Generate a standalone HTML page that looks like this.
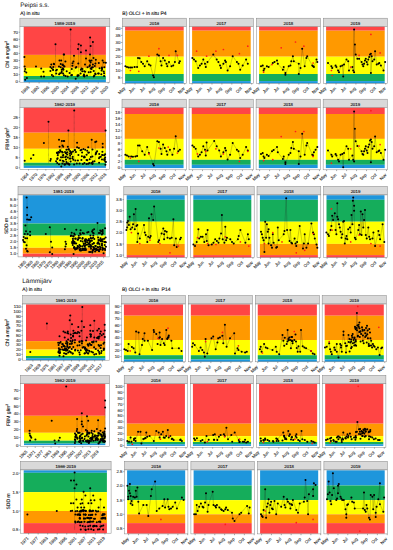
<!DOCTYPE html>
<html><head><meta charset="utf-8"><style>
html,body{margin:0;padding:0;background:#fff;}
body{width:393px;height:550px;overflow:hidden;}
svg{display:block;font-family:"Liberation Sans", sans-serif;text-rendering:geometricPrecision;}
</style></head><body>
<svg width="393" height="550" viewBox="0 0 393 550">
<rect x="19.90" y="18.20" width="89.90" height="8.20" fill="#D9D9D9"/>
<rect x="19.90" y="18.20" width="89.90" height="8.20" fill="none" stroke="#858585" stroke-width="0.5"/>
<text x="64.85" y="24.80" font-size="4.3" text-anchor="middle" fill="#111" stroke="#111" stroke-width="0.12">1986-2019</text>
<rect x="19.90" y="26.40" width="89.90" height="55.80" fill="#ffffff"/>
<rect x="23.70" y="26.60" width="82.20" height="28.30" fill="#FF4545"/>
<rect x="23.70" y="54.90" width="82.20" height="13.00" fill="#FF9900"/>
<rect x="23.70" y="67.90" width="82.20" height="8.10" fill="#FFFF00"/>
<rect x="23.70" y="76.00" width="82.20" height="3.80" fill="#15AD5B"/>
<rect x="23.70" y="79.80" width="82.20" height="2.40" fill="#1E96DC"/>
<line x1="55.5" y1="44.3" x2="55.5" y2="76.0" stroke="#222" stroke-width="0.35" stroke-dasharray="0.7,0.5"/>
<line x1="70.6" y1="29.4" x2="70.6" y2="76.0" stroke="#222" stroke-width="0.35" stroke-dasharray="0.7,0.5"/>
<line x1="90.1" y1="37.5" x2="90.1" y2="76.0" stroke="#222" stroke-width="0.35" stroke-dasharray="0.7,0.5"/>
<line x1="78.6" y1="44.3" x2="78.6" y2="72.0" stroke="#222" stroke-width="0.35" stroke-dasharray="0.7,0.5"/>
<line x1="92.9" y1="42.0" x2="92.9" y2="72.0" stroke="#222" stroke-width="0.35" stroke-dasharray="0.7,0.5"/>
<line x1="86.0" y1="50.6" x2="86.0" y2="72.0" stroke="#222" stroke-width="0.35" stroke-dasharray="0.7,0.5"/>
<line x1="80.9" y1="45.5" x2="80.9" y2="72.0" stroke="#222" stroke-width="0.35" stroke-dasharray="0.7,0.5"/>
<line x1="63.7" y1="54.6" x2="63.7" y2="72.0" stroke="#222" stroke-width="0.35" stroke-dasharray="0.7,0.5"/>
<line x1="74.0" y1="55.8" x2="74.0" y2="72.0" stroke="#222" stroke-width="0.35" stroke-dasharray="0.7,0.5"/>
<line x1="95.8" y1="59.8" x2="95.8" y2="72.0" stroke="#222" stroke-width="0.35" stroke-dasharray="0.7,0.5"/>
<line x1="102.6" y1="60.4" x2="102.6" y2="72.0" stroke="#222" stroke-width="0.35" stroke-dasharray="0.7,0.5"/>
<circle cx="24.4" cy="56.9" r="1.02" fill="#000"/>
<circle cx="24.6" cy="66.6" r="1.02" fill="#000"/>
<circle cx="25.2" cy="68.9" r="1.02" fill="#000"/>
<circle cx="24.8" cy="71.2" r="1.02" fill="#000"/>
<circle cx="26.3" cy="72.4" r="1.02" fill="#000"/>
<circle cx="26.9" cy="78.1" r="1.02" fill="#000"/>
<circle cx="25.2" cy="79.8" r="1.02" fill="#000"/>
<circle cx="36.0" cy="66.6" r="1.02" fill="#000"/>
<circle cx="41.2" cy="68.4" r="1.02" fill="#000"/>
<circle cx="43.5" cy="71.8" r="1.02" fill="#000"/>
<circle cx="41.2" cy="76.4" r="1.02" fill="#000"/>
<circle cx="44.0" cy="76.4" r="1.02" fill="#000"/>
<circle cx="55.5" cy="44.3" r="1.02" fill="#000"/>
<circle cx="64.1" cy="54.6" r="1.02" fill="#000"/>
<circle cx="59.5" cy="60.4" r="1.02" fill="#000"/>
<circle cx="61.2" cy="60.4" r="1.02" fill="#000"/>
<circle cx="53.8" cy="63.8" r="1.02" fill="#000"/>
<circle cx="70.6" cy="29.4" r="1.02" fill="#000"/>
<circle cx="90.1" cy="37.5" r="1.02" fill="#000"/>
<circle cx="78.6" cy="44.3" r="1.02" fill="#000"/>
<circle cx="80.9" cy="45.5" r="1.02" fill="#000"/>
<circle cx="92.9" cy="42.0" r="1.02" fill="#000"/>
<circle cx="90.6" cy="46.0" r="1.02" fill="#000"/>
<circle cx="78.0" cy="48.9" r="1.02" fill="#000"/>
<circle cx="86.0" cy="50.6" r="1.02" fill="#000"/>
<circle cx="80.9" cy="52.3" r="1.02" fill="#000"/>
<circle cx="63.7" cy="54.6" r="1.02" fill="#000"/>
<circle cx="74.0" cy="55.8" r="1.02" fill="#000"/>
<circle cx="90.0" cy="54.6" r="1.02" fill="#000"/>
<circle cx="93.5" cy="58.0" r="1.02" fill="#000"/>
<circle cx="95.8" cy="59.8" r="1.02" fill="#000"/>
<circle cx="86.0" cy="58.6" r="1.02" fill="#000"/>
<circle cx="65.4" cy="61.5" r="1.02" fill="#000"/>
<circle cx="102.6" cy="60.4" r="1.02" fill="#000"/>
<circle cx="103.8" cy="62.6" r="1.02" fill="#000"/>
<circle cx="90.6" cy="62.6" r="1.02" fill="#000"/>
<circle cx="92.9" cy="64.4" r="1.02" fill="#000"/>
<circle cx="67.7" cy="76.4" r="1.02" fill="#000"/>
<circle cx="75.7" cy="78.7" r="1.02" fill="#000"/>
<circle cx="51.9" cy="75.0" r="1.02" fill="#000"/>
<circle cx="60.7" cy="67.3" r="1.02" fill="#000"/>
<circle cx="56.9" cy="69.8" r="1.02" fill="#000"/>
<circle cx="59.1" cy="74.3" r="1.02" fill="#000"/>
<circle cx="51.3" cy="64.4" r="1.02" fill="#000"/>
<circle cx="61.7" cy="69.6" r="1.02" fill="#000"/>
<circle cx="60.7" cy="64.0" r="1.02" fill="#000"/>
<circle cx="56.2" cy="73.4" r="1.02" fill="#000"/>
<circle cx="53.2" cy="76.3" r="1.02" fill="#000"/>
<circle cx="62.6" cy="64.4" r="1.02" fill="#000"/>
<circle cx="50.4" cy="71.0" r="1.02" fill="#000"/>
<circle cx="63.1" cy="69.0" r="1.02" fill="#000"/>
<circle cx="53.0" cy="69.5" r="1.02" fill="#000"/>
<circle cx="50.4" cy="66.9" r="1.02" fill="#000"/>
<circle cx="56.1" cy="70.4" r="1.02" fill="#000"/>
<circle cx="53.3" cy="67.0" r="1.02" fill="#000"/>
<circle cx="53.1" cy="70.0" r="1.02" fill="#000"/>
<circle cx="54.1" cy="64.3" r="1.02" fill="#000"/>
<circle cx="61.7" cy="71.2" r="1.02" fill="#000"/>
<circle cx="59.0" cy="66.4" r="1.02" fill="#000"/>
<circle cx="63.9" cy="75.2" r="1.02" fill="#000"/>
<circle cx="51.7" cy="68.3" r="1.02" fill="#000"/>
<circle cx="60.1" cy="73.2" r="1.02" fill="#000"/>
<circle cx="63.1" cy="69.5" r="1.02" fill="#000"/>
<circle cx="61.6" cy="72.7" r="1.02" fill="#000"/>
<circle cx="104.1" cy="75.9" r="1.02" fill="#000"/>
<circle cx="64.5" cy="66.4" r="1.02" fill="#000"/>
<circle cx="98.8" cy="73.6" r="1.02" fill="#000"/>
<circle cx="91.5" cy="68.9" r="1.02" fill="#000"/>
<circle cx="88.7" cy="72.2" r="1.02" fill="#000"/>
<circle cx="87.6" cy="67.2" r="1.02" fill="#000"/>
<circle cx="80.9" cy="69.8" r="1.02" fill="#000"/>
<circle cx="93.8" cy="76.4" r="1.02" fill="#000"/>
<circle cx="103.8" cy="71.5" r="1.02" fill="#000"/>
<circle cx="81.6" cy="68.5" r="1.02" fill="#000"/>
<circle cx="63.6" cy="65.8" r="1.02" fill="#000"/>
<circle cx="82.5" cy="69.0" r="1.02" fill="#000"/>
<circle cx="78.7" cy="75.3" r="1.02" fill="#000"/>
<circle cx="85.1" cy="71.7" r="1.02" fill="#000"/>
<circle cx="72.4" cy="65.8" r="1.02" fill="#000"/>
<circle cx="76.3" cy="67.0" r="1.02" fill="#000"/>
<circle cx="84.4" cy="76.5" r="1.02" fill="#000"/>
<circle cx="91.7" cy="67.5" r="1.02" fill="#000"/>
<circle cx="101.3" cy="74.3" r="1.02" fill="#000"/>
<circle cx="94.3" cy="75.5" r="1.02" fill="#000"/>
<circle cx="95.6" cy="74.2" r="1.02" fill="#000"/>
<circle cx="77.6" cy="76.3" r="1.02" fill="#000"/>
<circle cx="104.3" cy="67.3" r="1.02" fill="#000"/>
<circle cx="95.2" cy="73.4" r="1.02" fill="#000"/>
<circle cx="82.3" cy="71.3" r="1.02" fill="#000"/>
<circle cx="83.6" cy="75.7" r="1.02" fill="#000"/>
<circle cx="84.0" cy="74.6" r="1.02" fill="#000"/>
<circle cx="77.6" cy="75.2" r="1.02" fill="#000"/>
<circle cx="101.6" cy="70.6" r="1.02" fill="#000"/>
<circle cx="87.0" cy="75.6" r="1.02" fill="#000"/>
<circle cx="93.8" cy="70.9" r="1.02" fill="#000"/>
<circle cx="71.8" cy="69.1" r="1.02" fill="#000"/>
<circle cx="92.8" cy="67.3" r="1.02" fill="#000"/>
<circle cx="101.9" cy="68.4" r="1.02" fill="#000"/>
<circle cx="102.1" cy="68.9" r="1.02" fill="#000"/>
<circle cx="104.1" cy="73.3" r="1.02" fill="#000"/>
<circle cx="84.2" cy="71.2" r="1.02" fill="#000"/>
<circle cx="90.7" cy="72.0" r="1.02" fill="#000"/>
<circle cx="75.7" cy="67.8" r="1.02" fill="#000"/>
<circle cx="84.5" cy="75.8" r="1.02" fill="#000"/>
<circle cx="89.4" cy="66.3" r="1.02" fill="#000"/>
<circle cx="98.1" cy="73.5" r="1.02" fill="#000"/>
<circle cx="101.9" cy="67.6" r="1.02" fill="#000"/>
<circle cx="94.8" cy="66.1" r="1.02" fill="#000"/>
<circle cx="90.7" cy="68.5" r="1.02" fill="#000"/>
<circle cx="72.0" cy="75.1" r="1.02" fill="#000"/>
<circle cx="66.7" cy="71.2" r="1.02" fill="#000"/>
<circle cx="99.6" cy="68.2" r="1.02" fill="#000"/>
<circle cx="71.3" cy="75.2" r="1.02" fill="#000"/>
<circle cx="80.6" cy="73.4" r="1.02" fill="#000"/>
<circle cx="63.4" cy="69.5" r="1.02" fill="#000"/>
<circle cx="69.6" cy="72.9" r="1.02" fill="#000"/>
<circle cx="65.6" cy="76.0" r="1.02" fill="#000"/>
<circle cx="63.1" cy="73.5" r="1.02" fill="#000"/>
<circle cx="62.9" cy="68.3" r="1.02" fill="#000"/>
<circle cx="72.5" cy="63.3" r="1.02" fill="#000"/>
<circle cx="78.3" cy="63.6" r="1.02" fill="#000"/>
<circle cx="89.5" cy="60.4" r="1.02" fill="#000"/>
<circle cx="62.6" cy="65.0" r="1.02" fill="#000"/>
<circle cx="73.4" cy="61.4" r="1.02" fill="#000"/>
<circle cx="105.8" cy="62.8" r="1.02" fill="#000"/>
<circle cx="98.8" cy="62.9" r="1.02" fill="#000"/>
<circle cx="90.1" cy="60.9" r="1.02" fill="#000"/>
<circle cx="89.9" cy="65.2" r="1.02" fill="#000"/>
<circle cx="85.0" cy="64.4" r="1.02" fill="#000"/>
<circle cx="91.5" cy="60.4" r="1.02" fill="#000"/>
<circle cx="95.4" cy="63.5" r="1.02" fill="#000"/>
<rect x="19.90" y="26.40" width="89.90" height="55.80" fill="none" stroke="#858585" stroke-width="0.5"/>
<line x1="18.60" y1="81.70" x2="19.90" y2="81.70" stroke="#333" stroke-width="0.4"/>
<text x="18.00" y="83.20" font-size="4.3" text-anchor="end" fill="#333" stroke="#444" stroke-width="0.12">0</text>
<line x1="18.60" y1="74.63" x2="19.90" y2="74.63" stroke="#333" stroke-width="0.4"/>
<text x="18.00" y="76.13" font-size="4.3" text-anchor="end" fill="#333" stroke="#444" stroke-width="0.12">10</text>
<line x1="18.60" y1="67.56" x2="19.90" y2="67.56" stroke="#333" stroke-width="0.4"/>
<text x="18.00" y="69.06" font-size="4.3" text-anchor="end" fill="#333" stroke="#444" stroke-width="0.12">20</text>
<line x1="18.60" y1="60.49" x2="19.90" y2="60.49" stroke="#333" stroke-width="0.4"/>
<text x="18.00" y="61.99" font-size="4.3" text-anchor="end" fill="#333" stroke="#444" stroke-width="0.12">30</text>
<line x1="18.60" y1="53.42" x2="19.90" y2="53.42" stroke="#333" stroke-width="0.4"/>
<text x="18.00" y="54.92" font-size="4.3" text-anchor="end" fill="#333" stroke="#444" stroke-width="0.12">40</text>
<line x1="18.60" y1="46.35" x2="19.90" y2="46.35" stroke="#333" stroke-width="0.4"/>
<text x="18.00" y="47.85" font-size="4.3" text-anchor="end" fill="#333" stroke="#444" stroke-width="0.12">50</text>
<line x1="18.60" y1="39.28" x2="19.90" y2="39.28" stroke="#333" stroke-width="0.4"/>
<text x="18.00" y="40.78" font-size="4.3" text-anchor="end" fill="#333" stroke="#444" stroke-width="0.12">60</text>
<line x1="18.60" y1="32.21" x2="19.90" y2="32.21" stroke="#333" stroke-width="0.4"/>
<text x="18.00" y="33.71" font-size="4.3" text-anchor="end" fill="#333" stroke="#444" stroke-width="0.12">70</text>
<line x1="29.20" y1="82.20" x2="29.20" y2="83.50" stroke="#333" stroke-width="0.4"/>
<text x="29.60" y="87.60" font-size="4.3" text-anchor="end" fill="#333" stroke="#444" stroke-width="0.12" transform="rotate(-45 29.60 87.60)">1988</text>
<line x1="39.07" y1="82.20" x2="39.07" y2="83.50" stroke="#333" stroke-width="0.4"/>
<text x="39.47" y="87.60" font-size="4.3" text-anchor="end" fill="#333" stroke="#444" stroke-width="0.12" transform="rotate(-45 39.47 87.60)">1992</text>
<line x1="48.94" y1="82.20" x2="48.94" y2="83.50" stroke="#333" stroke-width="0.4"/>
<text x="49.34" y="87.60" font-size="4.3" text-anchor="end" fill="#333" stroke="#444" stroke-width="0.12" transform="rotate(-45 49.34 87.60)">1996</text>
<line x1="58.81" y1="82.20" x2="58.81" y2="83.50" stroke="#333" stroke-width="0.4"/>
<text x="59.21" y="87.60" font-size="4.3" text-anchor="end" fill="#333" stroke="#444" stroke-width="0.12" transform="rotate(-45 59.21 87.60)">2000</text>
<line x1="68.68" y1="82.20" x2="68.68" y2="83.50" stroke="#333" stroke-width="0.4"/>
<text x="69.08" y="87.60" font-size="4.3" text-anchor="end" fill="#333" stroke="#444" stroke-width="0.12" transform="rotate(-45 69.08 87.60)">2004</text>
<line x1="78.55" y1="82.20" x2="78.55" y2="83.50" stroke="#333" stroke-width="0.4"/>
<text x="78.95" y="87.60" font-size="4.3" text-anchor="end" fill="#333" stroke="#444" stroke-width="0.12" transform="rotate(-45 78.95 87.60)">2008</text>
<line x1="88.42" y1="82.20" x2="88.42" y2="83.50" stroke="#333" stroke-width="0.4"/>
<text x="88.82" y="87.60" font-size="4.3" text-anchor="end" fill="#333" stroke="#444" stroke-width="0.12" transform="rotate(-45 88.82 87.60)">2012</text>
<line x1="98.29" y1="82.20" x2="98.29" y2="83.50" stroke="#333" stroke-width="0.4"/>
<text x="98.69" y="87.60" font-size="4.3" text-anchor="end" fill="#333" stroke="#444" stroke-width="0.12" transform="rotate(-45 98.69 87.60)">2016</text>
<line x1="108.16" y1="82.20" x2="108.16" y2="83.50" stroke="#333" stroke-width="0.4"/>
<text x="108.56" y="87.60" font-size="4.3" text-anchor="end" fill="#333" stroke="#444" stroke-width="0.12" transform="rotate(-45 108.56 87.60)">2020</text>
<rect x="122.30" y="18.20" width="64.20" height="8.20" fill="#D9D9D9"/>
<rect x="122.30" y="18.20" width="64.20" height="8.20" fill="none" stroke="#858585" stroke-width="0.5"/>
<text x="154.40" y="24.80" font-size="4.3" text-anchor="middle" fill="#111" stroke="#111" stroke-width="0.12">2016</text>
<rect x="122.30" y="26.40" width="64.20" height="56.90" fill="#ffffff"/>
<rect x="125.10" y="26.60" width="58.60" height="4.10" fill="#FF4545"/>
<rect x="125.10" y="30.70" width="58.60" height="26.00" fill="#FF9900"/>
<rect x="125.10" y="56.70" width="58.60" height="17.30" fill="#FFFF00"/>
<rect x="125.10" y="74.00" width="58.60" height="7.10" fill="#15AD5B"/>
<rect x="125.10" y="81.10" width="58.60" height="2.20" fill="#1E96DC"/>
<polyline points="125.4,66.3 127.0,67.1 128.7,67.4 130.4,67.6 132.0,67.4 134.6,67.1 137.1,67.1 138.0,57.9 139.6,58.2 141.3,62.1 143.0,63.8 144.7,66.3 147.2,61.3 148.9,64.6 150.5,65.5 153.1,75.5 153.9,77.2 157.3,54.5 158.9,55.4 160.6,61.3 161.5,65.5 163.1,57.9 164.8,60.4 166.5,63.8 167.3,66.3 169.0,62.1 171.5,66.3 173.2,65.5 174.9,62.1 175.7,51.2 179.1,63.0 179.9,61.3" fill="none" stroke="#222" stroke-width="0.4" stroke-dasharray="0.6,0.45"/>
<circle cx="125.4" cy="66.3" r="1.02" fill="#000"/>
<circle cx="127.0" cy="67.1" r="1.02" fill="#000"/>
<circle cx="128.7" cy="67.4" r="1.02" fill="#000"/>
<circle cx="130.4" cy="67.6" r="1.02" fill="#000"/>
<circle cx="132.0" cy="67.4" r="1.02" fill="#000"/>
<circle cx="134.6" cy="67.1" r="1.02" fill="#000"/>
<circle cx="137.1" cy="67.1" r="1.02" fill="#000"/>
<circle cx="138.0" cy="57.9" r="1.02" fill="#000"/>
<circle cx="139.6" cy="58.2" r="1.02" fill="#000"/>
<circle cx="141.3" cy="62.1" r="1.02" fill="#000"/>
<circle cx="143.0" cy="63.8" r="1.02" fill="#000"/>
<circle cx="144.7" cy="66.3" r="1.02" fill="#000"/>
<circle cx="147.2" cy="61.3" r="1.02" fill="#000"/>
<circle cx="148.9" cy="64.6" r="1.02" fill="#000"/>
<circle cx="150.5" cy="65.5" r="1.02" fill="#000"/>
<circle cx="153.1" cy="75.5" r="1.02" fill="#000"/>
<circle cx="153.9" cy="77.2" r="1.02" fill="#000"/>
<circle cx="157.3" cy="54.5" r="1.02" fill="#000"/>
<circle cx="158.9" cy="55.4" r="1.02" fill="#000"/>
<circle cx="160.6" cy="61.3" r="1.02" fill="#000"/>
<circle cx="161.5" cy="65.5" r="1.02" fill="#000"/>
<circle cx="163.1" cy="57.9" r="1.02" fill="#000"/>
<circle cx="164.8" cy="60.4" r="1.02" fill="#000"/>
<circle cx="166.5" cy="63.8" r="1.02" fill="#000"/>
<circle cx="167.3" cy="66.3" r="1.02" fill="#000"/>
<circle cx="169.0" cy="62.1" r="1.02" fill="#000"/>
<circle cx="171.5" cy="66.3" r="1.02" fill="#000"/>
<circle cx="173.2" cy="65.5" r="1.02" fill="#000"/>
<circle cx="174.9" cy="62.1" r="1.02" fill="#000"/>
<circle cx="175.7" cy="51.2" r="1.02" fill="#000"/>
<circle cx="179.1" cy="63.0" r="1.02" fill="#000"/>
<circle cx="179.9" cy="61.3" r="1.02" fill="#000"/>
<circle cx="130.4" cy="70.5" r="0.85" fill="#ff1a1a"/>
<circle cx="138.8" cy="71.3" r="0.85" fill="#ff1a1a"/>
<circle cx="148.9" cy="56.2" r="0.85" fill="#ff1a1a"/>
<circle cx="158.9" cy="48.7" r="0.85" fill="#ff1a1a"/>
<circle cx="169.0" cy="55.4" r="0.85" fill="#ff1a1a"/>
<circle cx="177.4" cy="55.4" r="0.85" fill="#ff1a1a"/>
<rect x="122.30" y="26.40" width="64.20" height="56.90" fill="none" stroke="#858585" stroke-width="0.5"/>
<line x1="121.00" y1="77.83" x2="122.30" y2="77.83" stroke="#333" stroke-width="0.4"/>
<text x="120.40" y="79.33" font-size="4.3" text-anchor="end" fill="#333" stroke="#444" stroke-width="0.12">5</text>
<line x1="121.00" y1="70.76" x2="122.30" y2="70.76" stroke="#333" stroke-width="0.4"/>
<text x="120.40" y="72.26" font-size="4.3" text-anchor="end" fill="#333" stroke="#444" stroke-width="0.12">10</text>
<line x1="121.00" y1="63.69" x2="122.30" y2="63.69" stroke="#333" stroke-width="0.4"/>
<text x="120.40" y="65.19" font-size="4.3" text-anchor="end" fill="#333" stroke="#444" stroke-width="0.12">15</text>
<line x1="121.00" y1="56.62" x2="122.30" y2="56.62" stroke="#333" stroke-width="0.4"/>
<text x="120.40" y="58.12" font-size="4.3" text-anchor="end" fill="#333" stroke="#444" stroke-width="0.12">20</text>
<line x1="121.00" y1="49.55" x2="122.30" y2="49.55" stroke="#333" stroke-width="0.4"/>
<text x="120.40" y="51.05" font-size="4.3" text-anchor="end" fill="#333" stroke="#444" stroke-width="0.12">25</text>
<line x1="121.00" y1="42.48" x2="122.30" y2="42.48" stroke="#333" stroke-width="0.4"/>
<text x="120.40" y="43.98" font-size="4.3" text-anchor="end" fill="#333" stroke="#444" stroke-width="0.12">30</text>
<line x1="121.00" y1="35.41" x2="122.30" y2="35.41" stroke="#333" stroke-width="0.4"/>
<text x="120.40" y="36.91" font-size="4.3" text-anchor="end" fill="#333" stroke="#444" stroke-width="0.12">35</text>
<line x1="121.00" y1="28.34" x2="122.30" y2="28.34" stroke="#333" stroke-width="0.4"/>
<text x="120.40" y="29.84" font-size="4.3" text-anchor="end" fill="#333" stroke="#444" stroke-width="0.12">40</text>
<line x1="125.10" y1="83.30" x2="125.10" y2="84.60" stroke="#333" stroke-width="0.4"/>
<text x="125.50" y="88.70" font-size="4.3" text-anchor="end" fill="#333" stroke="#444" stroke-width="0.12" transform="rotate(-45 125.50 88.70)">May</text>
<line x1="135.03" y1="83.30" x2="135.03" y2="84.60" stroke="#333" stroke-width="0.4"/>
<text x="135.43" y="88.70" font-size="4.3" text-anchor="end" fill="#333" stroke="#444" stroke-width="0.12" transform="rotate(-45 135.43 88.70)">Jun</text>
<line x1="144.97" y1="83.30" x2="144.97" y2="84.60" stroke="#333" stroke-width="0.4"/>
<text x="145.37" y="88.70" font-size="4.3" text-anchor="end" fill="#333" stroke="#444" stroke-width="0.12" transform="rotate(-45 145.37 88.70)">Jul</text>
<line x1="154.90" y1="83.30" x2="154.90" y2="84.60" stroke="#333" stroke-width="0.4"/>
<text x="155.30" y="88.70" font-size="4.3" text-anchor="end" fill="#333" stroke="#444" stroke-width="0.12" transform="rotate(-45 155.30 88.70)">Aug</text>
<line x1="164.83" y1="83.30" x2="164.83" y2="84.60" stroke="#333" stroke-width="0.4"/>
<text x="165.23" y="88.70" font-size="4.3" text-anchor="end" fill="#333" stroke="#444" stroke-width="0.12" transform="rotate(-45 165.23 88.70)">Sep</text>
<line x1="174.77" y1="83.30" x2="174.77" y2="84.60" stroke="#333" stroke-width="0.4"/>
<text x="175.17" y="88.70" font-size="4.3" text-anchor="end" fill="#333" stroke="#444" stroke-width="0.12" transform="rotate(-45 175.17 88.70)">Oct</text>
<line x1="184.70" y1="83.30" x2="184.70" y2="84.60" stroke="#333" stroke-width="0.4"/>
<text x="185.10" y="88.70" font-size="4.3" text-anchor="end" fill="#333" stroke="#444" stroke-width="0.12" transform="rotate(-45 185.10 88.70)">Nov</text>
<rect x="189.30" y="18.20" width="64.20" height="8.20" fill="#D9D9D9"/>
<rect x="189.30" y="18.20" width="64.20" height="8.20" fill="none" stroke="#858585" stroke-width="0.5"/>
<text x="221.40" y="24.80" font-size="4.3" text-anchor="middle" fill="#111" stroke="#111" stroke-width="0.12">2017</text>
<rect x="189.30" y="26.40" width="64.20" height="56.90" fill="#ffffff"/>
<rect x="192.10" y="26.60" width="58.60" height="4.10" fill="#FF4545"/>
<rect x="192.10" y="30.70" width="58.60" height="26.00" fill="#FF9900"/>
<rect x="192.10" y="56.70" width="58.60" height="17.30" fill="#FFFF00"/>
<rect x="192.10" y="74.00" width="58.60" height="7.10" fill="#15AD5B"/>
<rect x="192.10" y="81.10" width="58.60" height="2.20" fill="#1E96DC"/>
<polyline points="192.4,57.9 194.0,59.6 195.7,61.3 198.2,68.0 199.9,65.5 201.6,63.8 203.3,59.6 205.0,63.8 205.8,67.1 207.5,62.1 213.3,54.5 216.7,59.6 218.4,62.1 220.1,65.5 220.9,68.0 223.4,63.8 225.1,60.4 225.9,62.1 227.6,70.5 230.1,66.3 232.7,56.2 236.9,62.1 238.5,63.8 240.2,69.7 242.7,65.5 246.1,59.6 247.8,63.8" fill="none" stroke="#222" stroke-width="0.4" stroke-dasharray="0.6,0.45"/>
<circle cx="192.4" cy="57.9" r="1.02" fill="#000"/>
<circle cx="194.0" cy="59.6" r="1.02" fill="#000"/>
<circle cx="195.7" cy="61.3" r="1.02" fill="#000"/>
<circle cx="198.2" cy="68.0" r="1.02" fill="#000"/>
<circle cx="199.9" cy="65.5" r="1.02" fill="#000"/>
<circle cx="201.6" cy="63.8" r="1.02" fill="#000"/>
<circle cx="203.3" cy="59.6" r="1.02" fill="#000"/>
<circle cx="205.0" cy="63.8" r="1.02" fill="#000"/>
<circle cx="205.8" cy="67.1" r="1.02" fill="#000"/>
<circle cx="207.5" cy="62.1" r="1.02" fill="#000"/>
<circle cx="213.3" cy="54.5" r="1.02" fill="#000"/>
<circle cx="216.7" cy="59.6" r="1.02" fill="#000"/>
<circle cx="218.4" cy="62.1" r="1.02" fill="#000"/>
<circle cx="220.1" cy="65.5" r="1.02" fill="#000"/>
<circle cx="220.9" cy="68.0" r="1.02" fill="#000"/>
<circle cx="223.4" cy="63.8" r="1.02" fill="#000"/>
<circle cx="225.1" cy="60.4" r="1.02" fill="#000"/>
<circle cx="225.9" cy="62.1" r="1.02" fill="#000"/>
<circle cx="227.6" cy="70.5" r="1.02" fill="#000"/>
<circle cx="230.1" cy="66.3" r="1.02" fill="#000"/>
<circle cx="232.7" cy="56.2" r="1.02" fill="#000"/>
<circle cx="236.9" cy="62.1" r="1.02" fill="#000"/>
<circle cx="238.5" cy="63.8" r="1.02" fill="#000"/>
<circle cx="240.2" cy="69.7" r="1.02" fill="#000"/>
<circle cx="242.7" cy="65.5" r="1.02" fill="#000"/>
<circle cx="246.1" cy="59.6" r="1.02" fill="#000"/>
<circle cx="247.8" cy="63.8" r="1.02" fill="#000"/>
<circle cx="196.6" cy="51.2" r="0.85" fill="#ff1a1a"/>
<circle cx="206.6" cy="56.2" r="0.85" fill="#ff1a1a"/>
<circle cx="215.9" cy="51.2" r="0.85" fill="#ff1a1a"/>
<circle cx="223.4" cy="49.5" r="0.85" fill="#ff1a1a"/>
<circle cx="239.4" cy="53.7" r="0.85" fill="#ff1a1a"/>
<circle cx="247.8" cy="46.2" r="0.85" fill="#ff1a1a"/>
<rect x="189.30" y="26.40" width="64.20" height="56.90" fill="none" stroke="#858585" stroke-width="0.5"/>
<line x1="192.10" y1="83.30" x2="192.10" y2="84.60" stroke="#333" stroke-width="0.4"/>
<text x="192.50" y="88.70" font-size="4.3" text-anchor="end" fill="#333" stroke="#444" stroke-width="0.12" transform="rotate(-45 192.50 88.70)">May</text>
<line x1="202.03" y1="83.30" x2="202.03" y2="84.60" stroke="#333" stroke-width="0.4"/>
<text x="202.43" y="88.70" font-size="4.3" text-anchor="end" fill="#333" stroke="#444" stroke-width="0.12" transform="rotate(-45 202.43 88.70)">Jun</text>
<line x1="211.97" y1="83.30" x2="211.97" y2="84.60" stroke="#333" stroke-width="0.4"/>
<text x="212.37" y="88.70" font-size="4.3" text-anchor="end" fill="#333" stroke="#444" stroke-width="0.12" transform="rotate(-45 212.37 88.70)">Jul</text>
<line x1="221.90" y1="83.30" x2="221.90" y2="84.60" stroke="#333" stroke-width="0.4"/>
<text x="222.30" y="88.70" font-size="4.3" text-anchor="end" fill="#333" stroke="#444" stroke-width="0.12" transform="rotate(-45 222.30 88.70)">Aug</text>
<line x1="231.83" y1="83.30" x2="231.83" y2="84.60" stroke="#333" stroke-width="0.4"/>
<text x="232.23" y="88.70" font-size="4.3" text-anchor="end" fill="#333" stroke="#444" stroke-width="0.12" transform="rotate(-45 232.23 88.70)">Sep</text>
<line x1="241.77" y1="83.30" x2="241.77" y2="84.60" stroke="#333" stroke-width="0.4"/>
<text x="242.17" y="88.70" font-size="4.3" text-anchor="end" fill="#333" stroke="#444" stroke-width="0.12" transform="rotate(-45 242.17 88.70)">Oct</text>
<line x1="251.70" y1="83.30" x2="251.70" y2="84.60" stroke="#333" stroke-width="0.4"/>
<text x="252.10" y="88.70" font-size="4.3" text-anchor="end" fill="#333" stroke="#444" stroke-width="0.12" transform="rotate(-45 252.10 88.70)">Nov</text>
<rect x="256.30" y="18.20" width="64.20" height="8.20" fill="#D9D9D9"/>
<rect x="256.30" y="18.20" width="64.20" height="8.20" fill="none" stroke="#858585" stroke-width="0.5"/>
<text x="288.40" y="24.80" font-size="4.3" text-anchor="middle" fill="#111" stroke="#111" stroke-width="0.12">2018</text>
<rect x="256.30" y="26.40" width="64.20" height="56.90" fill="#ffffff"/>
<rect x="259.10" y="26.60" width="58.60" height="4.10" fill="#FF4545"/>
<rect x="259.10" y="30.70" width="58.60" height="26.00" fill="#FF9900"/>
<rect x="259.10" y="56.70" width="58.60" height="17.30" fill="#FFFF00"/>
<rect x="259.10" y="74.00" width="58.60" height="7.10" fill="#15AD5B"/>
<rect x="259.10" y="81.10" width="58.60" height="2.20" fill="#1E96DC"/>
<polyline points="261.0,66.3 262.7,65.5 263.6,70.5 264.4,68.8 266.9,66.3 268.6,67.1 272.8,63.0 274.5,62.1 277.0,60.4 277.8,63.8 282.9,69.7 283.7,67.1 285.4,73.0 285.4,74.7 288.7,66.3 290.4,65.5 291.3,61.3 292.9,56.2 293.8,61.3 298.8,63.8 298.8,73.9 300.5,68.0 302.2,48.7 304.7,66.3 306.4,57.9 307.2,56.2 312.3,65.5 313.1,66.3 313.9,67.1 316.5,59.6 317.3,62.1" fill="none" stroke="#222" stroke-width="0.4" stroke-dasharray="0.6,0.45"/>
<circle cx="261.0" cy="66.3" r="1.02" fill="#000"/>
<circle cx="262.7" cy="65.5" r="1.02" fill="#000"/>
<circle cx="263.6" cy="70.5" r="1.02" fill="#000"/>
<circle cx="264.4" cy="68.8" r="1.02" fill="#000"/>
<circle cx="266.9" cy="66.3" r="1.02" fill="#000"/>
<circle cx="268.6" cy="67.1" r="1.02" fill="#000"/>
<circle cx="272.8" cy="63.0" r="1.02" fill="#000"/>
<circle cx="274.5" cy="62.1" r="1.02" fill="#000"/>
<circle cx="277.0" cy="60.4" r="1.02" fill="#000"/>
<circle cx="277.8" cy="63.8" r="1.02" fill="#000"/>
<circle cx="282.9" cy="69.7" r="1.02" fill="#000"/>
<circle cx="283.7" cy="67.1" r="1.02" fill="#000"/>
<circle cx="285.4" cy="73.0" r="1.02" fill="#000"/>
<circle cx="285.4" cy="74.7" r="1.02" fill="#000"/>
<circle cx="288.7" cy="66.3" r="1.02" fill="#000"/>
<circle cx="290.4" cy="65.5" r="1.02" fill="#000"/>
<circle cx="291.3" cy="61.3" r="1.02" fill="#000"/>
<circle cx="292.9" cy="56.2" r="1.02" fill="#000"/>
<circle cx="293.8" cy="61.3" r="1.02" fill="#000"/>
<circle cx="298.8" cy="63.8" r="1.02" fill="#000"/>
<circle cx="298.8" cy="73.9" r="1.02" fill="#000"/>
<circle cx="300.5" cy="68.0" r="1.02" fill="#000"/>
<circle cx="302.2" cy="48.7" r="1.02" fill="#000"/>
<circle cx="304.7" cy="66.3" r="1.02" fill="#000"/>
<circle cx="306.4" cy="57.9" r="1.02" fill="#000"/>
<circle cx="307.2" cy="56.2" r="1.02" fill="#000"/>
<circle cx="312.3" cy="65.5" r="1.02" fill="#000"/>
<circle cx="313.1" cy="66.3" r="1.02" fill="#000"/>
<circle cx="313.9" cy="67.1" r="1.02" fill="#000"/>
<circle cx="316.5" cy="59.6" r="1.02" fill="#000"/>
<circle cx="317.3" cy="62.1" r="1.02" fill="#000"/>
<circle cx="263.6" cy="72.2" r="0.85" fill="#ff1a1a"/>
<circle cx="272.0" cy="64.6" r="0.85" fill="#ff1a1a"/>
<circle cx="281.2" cy="47.8" r="0.85" fill="#ff1a1a"/>
<circle cx="295.5" cy="42.0" r="0.85" fill="#ff1a1a"/>
<circle cx="303.9" cy="46.2" r="0.85" fill="#ff1a1a"/>
<circle cx="313.1" cy="63.0" r="0.85" fill="#ff1a1a"/>
<rect x="256.30" y="26.40" width="64.20" height="56.90" fill="none" stroke="#858585" stroke-width="0.5"/>
<line x1="259.10" y1="83.30" x2="259.10" y2="84.60" stroke="#333" stroke-width="0.4"/>
<text x="259.50" y="88.70" font-size="4.3" text-anchor="end" fill="#333" stroke="#444" stroke-width="0.12" transform="rotate(-45 259.50 88.70)">May</text>
<line x1="269.03" y1="83.30" x2="269.03" y2="84.60" stroke="#333" stroke-width="0.4"/>
<text x="269.43" y="88.70" font-size="4.3" text-anchor="end" fill="#333" stroke="#444" stroke-width="0.12" transform="rotate(-45 269.43 88.70)">Jun</text>
<line x1="278.97" y1="83.30" x2="278.97" y2="84.60" stroke="#333" stroke-width="0.4"/>
<text x="279.37" y="88.70" font-size="4.3" text-anchor="end" fill="#333" stroke="#444" stroke-width="0.12" transform="rotate(-45 279.37 88.70)">Jul</text>
<line x1="288.90" y1="83.30" x2="288.90" y2="84.60" stroke="#333" stroke-width="0.4"/>
<text x="289.30" y="88.70" font-size="4.3" text-anchor="end" fill="#333" stroke="#444" stroke-width="0.12" transform="rotate(-45 289.30 88.70)">Aug</text>
<line x1="298.83" y1="83.30" x2="298.83" y2="84.60" stroke="#333" stroke-width="0.4"/>
<text x="299.23" y="88.70" font-size="4.3" text-anchor="end" fill="#333" stroke="#444" stroke-width="0.12" transform="rotate(-45 299.23 88.70)">Sep</text>
<line x1="308.77" y1="83.30" x2="308.77" y2="84.60" stroke="#333" stroke-width="0.4"/>
<text x="309.17" y="88.70" font-size="4.3" text-anchor="end" fill="#333" stroke="#444" stroke-width="0.12" transform="rotate(-45 309.17 88.70)">Oct</text>
<line x1="318.70" y1="83.30" x2="318.70" y2="84.60" stroke="#333" stroke-width="0.4"/>
<text x="319.10" y="88.70" font-size="4.3" text-anchor="end" fill="#333" stroke="#444" stroke-width="0.12" transform="rotate(-45 319.10 88.70)">Nov</text>
<rect x="323.30" y="18.20" width="64.20" height="8.20" fill="#D9D9D9"/>
<rect x="323.30" y="18.20" width="64.20" height="8.20" fill="none" stroke="#858585" stroke-width="0.5"/>
<text x="355.40" y="24.80" font-size="4.3" text-anchor="middle" fill="#111" stroke="#111" stroke-width="0.12">2019</text>
<rect x="323.30" y="26.40" width="64.20" height="56.90" fill="#ffffff"/>
<rect x="326.10" y="26.60" width="58.60" height="4.10" fill="#FF4545"/>
<rect x="326.10" y="30.70" width="58.60" height="26.00" fill="#FF9900"/>
<rect x="326.10" y="56.70" width="58.60" height="17.30" fill="#FFFF00"/>
<rect x="326.10" y="74.00" width="58.60" height="7.10" fill="#15AD5B"/>
<rect x="326.10" y="81.10" width="58.60" height="2.20" fill="#1E96DC"/>
<polyline points="328.0,63.0 331.4,66.3 332.2,68.0 335.6,65.5 336.4,67.1 338.1,70.5 339.0,72.2 340.6,66.3 342.3,65.5 343.2,76.4 344.0,64.6 346.5,59.6 348.2,61.3 349.0,70.5 352.4,67.1 353.2,70.5 354.1,29.4 354.1,72.2 354.9,44.5 355.7,54.5 357.4,58.7 359.1,58.7 361.6,62.1 362.5,64.6 363.3,66.3 364.1,63.8 365.0,60.4 365.8,58.7 366.7,62.1 367.5,64.6 368.3,59.6 369.2,57.1 370.0,54.5 370.9,53.7 370.9,73.0 371.7,56.2 372.5,61.3 374.2,59.6 375.1,51.2 376.7,64.6 378.4,63.8 379.3,63.0 380.9,65.5 383.5,70.5 385.1,62.1" fill="none" stroke="#222" stroke-width="0.4" stroke-dasharray="0.6,0.45"/>
<circle cx="328.0" cy="63.0" r="1.02" fill="#000"/>
<circle cx="331.4" cy="66.3" r="1.02" fill="#000"/>
<circle cx="332.2" cy="68.0" r="1.02" fill="#000"/>
<circle cx="335.6" cy="65.5" r="1.02" fill="#000"/>
<circle cx="336.4" cy="67.1" r="1.02" fill="#000"/>
<circle cx="338.1" cy="70.5" r="1.02" fill="#000"/>
<circle cx="339.0" cy="72.2" r="1.02" fill="#000"/>
<circle cx="340.6" cy="66.3" r="1.02" fill="#000"/>
<circle cx="342.3" cy="65.5" r="1.02" fill="#000"/>
<circle cx="343.2" cy="76.4" r="1.02" fill="#000"/>
<circle cx="344.0" cy="64.6" r="1.02" fill="#000"/>
<circle cx="346.5" cy="59.6" r="1.02" fill="#000"/>
<circle cx="348.2" cy="61.3" r="1.02" fill="#000"/>
<circle cx="349.0" cy="70.5" r="1.02" fill="#000"/>
<circle cx="352.4" cy="67.1" r="1.02" fill="#000"/>
<circle cx="353.2" cy="70.5" r="1.02" fill="#000"/>
<circle cx="354.1" cy="72.2" r="1.02" fill="#000"/>
<circle cx="354.1" cy="29.4" r="1.02" fill="#000"/>
<circle cx="354.9" cy="44.5" r="1.02" fill="#000"/>
<circle cx="355.7" cy="54.5" r="1.02" fill="#000"/>
<circle cx="357.4" cy="58.7" r="1.02" fill="#000"/>
<circle cx="359.1" cy="58.7" r="1.02" fill="#000"/>
<circle cx="361.6" cy="62.1" r="1.02" fill="#000"/>
<circle cx="362.5" cy="64.6" r="1.02" fill="#000"/>
<circle cx="363.3" cy="66.3" r="1.02" fill="#000"/>
<circle cx="364.1" cy="63.8" r="1.02" fill="#000"/>
<circle cx="365.0" cy="60.4" r="1.02" fill="#000"/>
<circle cx="365.8" cy="58.7" r="1.02" fill="#000"/>
<circle cx="366.7" cy="62.1" r="1.02" fill="#000"/>
<circle cx="367.5" cy="64.6" r="1.02" fill="#000"/>
<circle cx="368.3" cy="59.6" r="1.02" fill="#000"/>
<circle cx="369.2" cy="57.1" r="1.02" fill="#000"/>
<circle cx="370.0" cy="54.5" r="1.02" fill="#000"/>
<circle cx="370.9" cy="53.7" r="1.02" fill="#000"/>
<circle cx="371.7" cy="56.2" r="1.02" fill="#000"/>
<circle cx="370.9" cy="73.0" r="1.02" fill="#000"/>
<circle cx="372.5" cy="61.3" r="1.02" fill="#000"/>
<circle cx="374.2" cy="59.6" r="1.02" fill="#000"/>
<circle cx="375.1" cy="51.2" r="1.02" fill="#000"/>
<circle cx="376.7" cy="64.6" r="1.02" fill="#000"/>
<circle cx="378.4" cy="63.8" r="1.02" fill="#000"/>
<circle cx="379.3" cy="63.0" r="1.02" fill="#000"/>
<circle cx="380.9" cy="65.5" r="1.02" fill="#000"/>
<circle cx="383.5" cy="70.5" r="1.02" fill="#000"/>
<circle cx="385.1" cy="62.1" r="1.02" fill="#000"/>
<circle cx="331.4" cy="70.5" r="0.85" fill="#ff1a1a"/>
<circle cx="332.2" cy="75.5" r="0.85" fill="#ff1a1a"/>
<circle cx="350.7" cy="67.1" r="0.85" fill="#ff1a1a"/>
<circle cx="359.1" cy="55.4" r="0.85" fill="#ff1a1a"/>
<circle cx="370.9" cy="34.4" r="0.85" fill="#ff1a1a"/>
<circle cx="380.1" cy="52.9" r="0.85" fill="#ff1a1a"/>
<rect x="323.30" y="26.40" width="64.20" height="56.90" fill="none" stroke="#858585" stroke-width="0.5"/>
<line x1="326.10" y1="83.30" x2="326.10" y2="84.60" stroke="#333" stroke-width="0.4"/>
<text x="326.50" y="88.70" font-size="4.3" text-anchor="end" fill="#333" stroke="#444" stroke-width="0.12" transform="rotate(-45 326.50 88.70)">May</text>
<line x1="336.03" y1="83.30" x2="336.03" y2="84.60" stroke="#333" stroke-width="0.4"/>
<text x="336.43" y="88.70" font-size="4.3" text-anchor="end" fill="#333" stroke="#444" stroke-width="0.12" transform="rotate(-45 336.43 88.70)">Jun</text>
<line x1="345.97" y1="83.30" x2="345.97" y2="84.60" stroke="#333" stroke-width="0.4"/>
<text x="346.37" y="88.70" font-size="4.3" text-anchor="end" fill="#333" stroke="#444" stroke-width="0.12" transform="rotate(-45 346.37 88.70)">Jul</text>
<line x1="355.90" y1="83.30" x2="355.90" y2="84.60" stroke="#333" stroke-width="0.4"/>
<text x="356.30" y="88.70" font-size="4.3" text-anchor="end" fill="#333" stroke="#444" stroke-width="0.12" transform="rotate(-45 356.30 88.70)">Aug</text>
<line x1="365.83" y1="83.30" x2="365.83" y2="84.60" stroke="#333" stroke-width="0.4"/>
<text x="366.23" y="88.70" font-size="4.3" text-anchor="end" fill="#333" stroke="#444" stroke-width="0.12" transform="rotate(-45 366.23 88.70)">Sep</text>
<line x1="375.77" y1="83.30" x2="375.77" y2="84.60" stroke="#333" stroke-width="0.4"/>
<text x="376.17" y="88.70" font-size="4.3" text-anchor="end" fill="#333" stroke="#444" stroke-width="0.12" transform="rotate(-45 376.17 88.70)">Oct</text>
<line x1="385.70" y1="83.30" x2="385.70" y2="84.60" stroke="#333" stroke-width="0.4"/>
<text x="386.10" y="88.70" font-size="4.3" text-anchor="end" fill="#333" stroke="#444" stroke-width="0.12" transform="rotate(-45 386.10 88.70)">Nov</text>
<text x="9.0" y="54.5" font-size="5.0" text-anchor="middle" fill="#000" stroke="#000" stroke-width="0.08" transform="rotate(-90 9.0 54.5)">Chl a mg/m<tspan font-size="3.4" dy="-1.8">3</tspan></text>
<rect x="19.90" y="99.20" width="89.60" height="8.10" fill="#D9D9D9"/>
<rect x="19.90" y="99.20" width="89.60" height="8.10" fill="none" stroke="#858585" stroke-width="0.5"/>
<text x="64.70" y="105.75" font-size="4.3" text-anchor="middle" fill="#111" stroke="#111" stroke-width="0.12">1962-2019</text>
<rect x="19.90" y="107.30" width="89.60" height="62.00" fill="#ffffff"/>
<rect x="23.70" y="107.60" width="82.20" height="25.10" fill="#FF4545"/>
<rect x="23.70" y="132.70" width="82.20" height="16.10" fill="#FF9900"/>
<rect x="23.70" y="148.80" width="82.20" height="14.00" fill="#FFFF00"/>
<rect x="23.70" y="162.80" width="82.20" height="3.00" fill="#15AD5B"/>
<rect x="23.70" y="165.80" width="82.20" height="2.10" fill="#1E96DC"/>
<line x1="48.5" y1="121.7" x2="48.5" y2="163.6" stroke="#222" stroke-width="0.35" stroke-dasharray="0.7,0.5"/>
<line x1="61.3" y1="140.0" x2="61.3" y2="166.0" stroke="#222" stroke-width="0.35" stroke-dasharray="0.7,0.5"/>
<line x1="74.2" y1="110.1" x2="74.2" y2="163.0" stroke="#222" stroke-width="0.35" stroke-dasharray="0.7,0.5"/>
<line x1="68.4" y1="130.4" x2="68.4" y2="163.0" stroke="#222" stroke-width="0.35" stroke-dasharray="0.7,0.5"/>
<line x1="105.6" y1="130.4" x2="105.6" y2="163.0" stroke="#222" stroke-width="0.35" stroke-dasharray="0.7,0.5"/>
<line x1="91.7" y1="139.7" x2="91.7" y2="160.0" stroke="#222" stroke-width="0.35" stroke-dasharray="0.7,0.5"/>
<line x1="95.2" y1="142.1" x2="95.2" y2="160.0" stroke="#222" stroke-width="0.35" stroke-dasharray="0.7,0.5"/>
<circle cx="48.5" cy="121.7" r="1.02" fill="#000"/>
<circle cx="43.9" cy="143.0" r="1.02" fill="#000"/>
<circle cx="33.4" cy="155.1" r="1.02" fill="#000"/>
<circle cx="31.0" cy="158.6" r="1.02" fill="#000"/>
<circle cx="24.7" cy="160.7" r="1.02" fill="#000"/>
<circle cx="50.8" cy="158.9" r="1.02" fill="#000"/>
<circle cx="50.3" cy="160.7" r="1.02" fill="#000"/>
<circle cx="59.0" cy="139.7" r="1.02" fill="#000"/>
<circle cx="59.6" cy="146.7" r="1.02" fill="#000"/>
<circle cx="60.1" cy="150.2" r="1.02" fill="#000"/>
<circle cx="58.4" cy="152.0" r="1.02" fill="#000"/>
<circle cx="57.8" cy="153.7" r="1.02" fill="#000"/>
<circle cx="57.2" cy="158.9" r="1.02" fill="#000"/>
<circle cx="56.1" cy="161.3" r="1.02" fill="#000"/>
<circle cx="57.2" cy="163.0" r="1.02" fill="#000"/>
<circle cx="59.0" cy="164.2" r="1.02" fill="#000"/>
<circle cx="61.3" cy="166.5" r="1.02" fill="#000"/>
<circle cx="61.9" cy="140.9" r="1.02" fill="#000"/>
<circle cx="62.5" cy="145.6" r="1.02" fill="#000"/>
<circle cx="63.1" cy="155.5" r="1.02" fill="#000"/>
<circle cx="64.2" cy="140.9" r="1.02" fill="#000"/>
<circle cx="74.2" cy="110.4" r="1.02" fill="#000"/>
<circle cx="68.4" cy="130.4" r="1.02" fill="#000"/>
<circle cx="105.6" cy="130.4" r="1.02" fill="#000"/>
<circle cx="63.7" cy="140.9" r="1.02" fill="#000"/>
<circle cx="77.1" cy="142.7" r="1.02" fill="#000"/>
<circle cx="91.7" cy="139.7" r="1.02" fill="#000"/>
<circle cx="95.2" cy="142.1" r="1.02" fill="#000"/>
<circle cx="96.3" cy="141.5" r="1.02" fill="#000"/>
<circle cx="102.7" cy="143.8" r="1.02" fill="#000"/>
<circle cx="102.7" cy="147.3" r="1.02" fill="#000"/>
<circle cx="63.2" cy="146.7" r="1.02" fill="#000"/>
<circle cx="67.8" cy="146.7" r="1.02" fill="#000"/>
<circle cx="77.1" cy="147.3" r="1.02" fill="#000"/>
<circle cx="78.9" cy="147.9" r="1.02" fill="#000"/>
<circle cx="83.5" cy="149.1" r="1.02" fill="#000"/>
<circle cx="88.2" cy="147.3" r="1.02" fill="#000"/>
<circle cx="81.9" cy="156.3" r="1.02" fill="#000"/>
<circle cx="102.7" cy="155.1" r="1.02" fill="#000"/>
<circle cx="84.3" cy="156.6" r="1.02" fill="#000"/>
<circle cx="70.1" cy="155.7" r="1.02" fill="#000"/>
<circle cx="89.7" cy="159.3" r="1.02" fill="#000"/>
<circle cx="66.1" cy="152.9" r="1.02" fill="#000"/>
<circle cx="66.0" cy="159.5" r="1.02" fill="#000"/>
<circle cx="92.5" cy="149.5" r="1.02" fill="#000"/>
<circle cx="105.2" cy="161.5" r="1.02" fill="#000"/>
<circle cx="90.8" cy="157.0" r="1.02" fill="#000"/>
<circle cx="68.9" cy="149.2" r="1.02" fill="#000"/>
<circle cx="85.2" cy="149.8" r="1.02" fill="#000"/>
<circle cx="70.4" cy="152.1" r="1.02" fill="#000"/>
<circle cx="63.3" cy="155.0" r="1.02" fill="#000"/>
<circle cx="81.4" cy="160.0" r="1.02" fill="#000"/>
<circle cx="84.8" cy="157.3" r="1.02" fill="#000"/>
<circle cx="84.0" cy="157.6" r="1.02" fill="#000"/>
<circle cx="82.1" cy="152.6" r="1.02" fill="#000"/>
<circle cx="105.9" cy="161.9" r="1.02" fill="#000"/>
<circle cx="99.0" cy="158.2" r="1.02" fill="#000"/>
<circle cx="75.9" cy="152.0" r="1.02" fill="#000"/>
<circle cx="74.7" cy="149.9" r="1.02" fill="#000"/>
<circle cx="95.7" cy="154.2" r="1.02" fill="#000"/>
<circle cx="99.2" cy="154.0" r="1.02" fill="#000"/>
<circle cx="104.2" cy="160.0" r="1.02" fill="#000"/>
<circle cx="62.0" cy="151.7" r="1.02" fill="#000"/>
<circle cx="102.1" cy="155.1" r="1.02" fill="#000"/>
<circle cx="105.1" cy="154.2" r="1.02" fill="#000"/>
<circle cx="65.2" cy="157.2" r="1.02" fill="#000"/>
<circle cx="96.3" cy="152.5" r="1.02" fill="#000"/>
<circle cx="65.8" cy="153.3" r="1.02" fill="#000"/>
<circle cx="104.4" cy="158.9" r="1.02" fill="#000"/>
<circle cx="67.2" cy="152.2" r="1.02" fill="#000"/>
<circle cx="66.4" cy="149.8" r="1.02" fill="#000"/>
<circle cx="97.1" cy="151.3" r="1.02" fill="#000"/>
<circle cx="86.6" cy="154.8" r="1.02" fill="#000"/>
<circle cx="70.4" cy="158.5" r="1.02" fill="#000"/>
<circle cx="67.8" cy="157.4" r="1.02" fill="#000"/>
<circle cx="67.1" cy="154.5" r="1.02" fill="#000"/>
<circle cx="71.4" cy="152.5" r="1.02" fill="#000"/>
<circle cx="104.7" cy="159.4" r="1.02" fill="#000"/>
<circle cx="75.4" cy="160.5" r="1.02" fill="#000"/>
<circle cx="71.3" cy="154.1" r="1.02" fill="#000"/>
<circle cx="99.6" cy="157.3" r="1.02" fill="#000"/>
<circle cx="66.4" cy="161.9" r="1.02" fill="#000"/>
<circle cx="71.4" cy="152.4" r="1.02" fill="#000"/>
<circle cx="96.0" cy="153.3" r="1.02" fill="#000"/>
<circle cx="75.0" cy="150.0" r="1.02" fill="#000"/>
<circle cx="66.0" cy="156.6" r="1.02" fill="#000"/>
<circle cx="72.7" cy="156.8" r="1.02" fill="#000"/>
<circle cx="78.4" cy="154.9" r="1.02" fill="#000"/>
<circle cx="104.2" cy="155.3" r="1.02" fill="#000"/>
<circle cx="87.3" cy="160.3" r="1.02" fill="#000"/>
<circle cx="70.0" cy="151.0" r="1.02" fill="#000"/>
<circle cx="102.0" cy="159.6" r="1.02" fill="#000"/>
<circle cx="73.0" cy="151.5" r="1.02" fill="#000"/>
<circle cx="94.5" cy="161.2" r="1.02" fill="#000"/>
<circle cx="70.6" cy="161.4" r="1.02" fill="#000"/>
<circle cx="100.8" cy="156.8" r="1.02" fill="#000"/>
<circle cx="80.5" cy="150.3" r="1.02" fill="#000"/>
<circle cx="63.7" cy="161.5" r="1.02" fill="#000"/>
<circle cx="72.5" cy="158.2" r="1.02" fill="#000"/>
<circle cx="73.3" cy="159.7" r="1.02" fill="#000"/>
<circle cx="88.2" cy="152.8" r="1.02" fill="#000"/>
<circle cx="69.7" cy="158.4" r="1.02" fill="#000"/>
<circle cx="65.0" cy="152.0" r="1.02" fill="#000"/>
<circle cx="86.6" cy="160.1" r="1.02" fill="#000"/>
<circle cx="89.0" cy="152.6" r="1.02" fill="#000"/>
<circle cx="102.4" cy="151.7" r="1.02" fill="#000"/>
<circle cx="62.7" cy="152.5" r="1.02" fill="#000"/>
<circle cx="81.6" cy="149.8" r="1.02" fill="#000"/>
<circle cx="69.8" cy="153.8" r="1.02" fill="#000"/>
<circle cx="87.2" cy="150.7" r="1.02" fill="#000"/>
<circle cx="77.9" cy="160.6" r="1.02" fill="#000"/>
<circle cx="105.1" cy="157.5" r="1.02" fill="#000"/>
<circle cx="92.4" cy="156.6" r="1.02" fill="#000"/>
<circle cx="68.2" cy="149.5" r="1.02" fill="#000"/>
<circle cx="62.8" cy="160.8" r="1.02" fill="#000"/>
<circle cx="92.8" cy="161.5" r="1.02" fill="#000"/>
<circle cx="62.9" cy="157.3" r="1.02" fill="#000"/>
<circle cx="82.9" cy="164.1" r="1.02" fill="#000"/>
<circle cx="91.3" cy="163.1" r="1.02" fill="#000"/>
<circle cx="62.5" cy="163.5" r="1.02" fill="#000"/>
<circle cx="74.1" cy="164.4" r="1.02" fill="#000"/>
<circle cx="92.4" cy="164.0" r="1.02" fill="#000"/>
<circle cx="86.6" cy="164.1" r="1.02" fill="#000"/>
<circle cx="68.4" cy="163.7" r="1.02" fill="#000"/>
<circle cx="69.1" cy="164.6" r="1.02" fill="#000"/>
<circle cx="64.6" cy="164.4" r="1.02" fill="#000"/>
<circle cx="65.3" cy="164.2" r="1.02" fill="#000"/>
<circle cx="76.8" cy="163.6" r="1.02" fill="#000"/>
<circle cx="99.1" cy="162.8" r="1.02" fill="#000"/>
<circle cx="64.7" cy="164.6" r="1.02" fill="#000"/>
<circle cx="84.4" cy="163.0" r="1.02" fill="#000"/>
<circle cx="105.4" cy="164.7" r="1.02" fill="#000"/>
<circle cx="67.0" cy="163.6" r="1.02" fill="#000"/>
<circle cx="67.9" cy="163.4" r="1.02" fill="#000"/>
<circle cx="89.3" cy="163.1" r="1.02" fill="#000"/>
<circle cx="92.7" cy="162.9" r="1.02" fill="#000"/>
<circle cx="69.5" cy="164.4" r="1.02" fill="#000"/>
<circle cx="79.6" cy="163.6" r="1.02" fill="#000"/>
<circle cx="88.2" cy="163.8" r="1.02" fill="#000"/>
<circle cx="57.6" cy="158.2" r="1.02" fill="#000"/>
<circle cx="60.1" cy="160.2" r="1.02" fill="#000"/>
<circle cx="57.1" cy="152.8" r="1.02" fill="#000"/>
<circle cx="56.9" cy="152.7" r="1.02" fill="#000"/>
<circle cx="60.4" cy="151.6" r="1.02" fill="#000"/>
<circle cx="59.2" cy="152.6" r="1.02" fill="#000"/>
<circle cx="57.8" cy="155.2" r="1.02" fill="#000"/>
<circle cx="61.0" cy="157.3" r="1.02" fill="#000"/>
<rect x="19.90" y="107.30" width="89.60" height="62.00" fill="none" stroke="#858585" stroke-width="0.5"/>
<line x1="18.60" y1="167.80" x2="19.90" y2="167.80" stroke="#333" stroke-width="0.4"/>
<text x="18.00" y="169.30" font-size="4.3" text-anchor="end" fill="#333" stroke="#444" stroke-width="0.12">0</text>
<line x1="18.60" y1="157.75" x2="19.90" y2="157.75" stroke="#333" stroke-width="0.4"/>
<text x="18.00" y="159.25" font-size="4.3" text-anchor="end" fill="#333" stroke="#444" stroke-width="0.12">5</text>
<line x1="18.60" y1="147.70" x2="19.90" y2="147.70" stroke="#333" stroke-width="0.4"/>
<text x="18.00" y="149.20" font-size="4.3" text-anchor="end" fill="#333" stroke="#444" stroke-width="0.12">10</text>
<line x1="18.60" y1="137.65" x2="19.90" y2="137.65" stroke="#333" stroke-width="0.4"/>
<text x="18.00" y="139.15" font-size="4.3" text-anchor="end" fill="#333" stroke="#444" stroke-width="0.12">15</text>
<line x1="18.60" y1="127.60" x2="19.90" y2="127.60" stroke="#333" stroke-width="0.4"/>
<text x="18.00" y="129.10" font-size="4.3" text-anchor="end" fill="#333" stroke="#444" stroke-width="0.12">20</text>
<line x1="18.60" y1="117.55" x2="19.90" y2="117.55" stroke="#333" stroke-width="0.4"/>
<text x="18.00" y="119.05" font-size="4.3" text-anchor="end" fill="#333" stroke="#444" stroke-width="0.12">25</text>
<line x1="28.60" y1="169.30" x2="28.60" y2="170.60" stroke="#333" stroke-width="0.4"/>
<text x="29.00" y="174.70" font-size="4.3" text-anchor="end" fill="#333" stroke="#444" stroke-width="0.12" transform="rotate(-45 29.00 174.70)">1964</text>
<line x1="37.22" y1="169.30" x2="37.22" y2="170.60" stroke="#333" stroke-width="0.4"/>
<text x="37.62" y="174.70" font-size="4.3" text-anchor="end" fill="#333" stroke="#444" stroke-width="0.12" transform="rotate(-45 37.62 174.70)">1970</text>
<line x1="45.84" y1="169.30" x2="45.84" y2="170.60" stroke="#333" stroke-width="0.4"/>
<text x="46.24" y="174.70" font-size="4.3" text-anchor="end" fill="#333" stroke="#444" stroke-width="0.12" transform="rotate(-45 46.24 174.70)">1976</text>
<line x1="54.46" y1="169.30" x2="54.46" y2="170.60" stroke="#333" stroke-width="0.4"/>
<text x="54.86" y="174.70" font-size="4.3" text-anchor="end" fill="#333" stroke="#444" stroke-width="0.12" transform="rotate(-45 54.86 174.70)">1982</text>
<line x1="63.08" y1="169.30" x2="63.08" y2="170.60" stroke="#333" stroke-width="0.4"/>
<text x="63.48" y="174.70" font-size="4.3" text-anchor="end" fill="#333" stroke="#444" stroke-width="0.12" transform="rotate(-45 63.48 174.70)">1988</text>
<line x1="71.70" y1="169.30" x2="71.70" y2="170.60" stroke="#333" stroke-width="0.4"/>
<text x="72.10" y="174.70" font-size="4.3" text-anchor="end" fill="#333" stroke="#444" stroke-width="0.12" transform="rotate(-45 72.10 174.70)">1994</text>
<line x1="80.32" y1="169.30" x2="80.32" y2="170.60" stroke="#333" stroke-width="0.4"/>
<text x="80.72" y="174.70" font-size="4.3" text-anchor="end" fill="#333" stroke="#444" stroke-width="0.12" transform="rotate(-45 80.72 174.70)">2000</text>
<line x1="88.94" y1="169.30" x2="88.94" y2="170.60" stroke="#333" stroke-width="0.4"/>
<text x="89.34" y="174.70" font-size="4.3" text-anchor="end" fill="#333" stroke="#444" stroke-width="0.12" transform="rotate(-45 89.34 174.70)">2006</text>
<line x1="97.56" y1="169.30" x2="97.56" y2="170.60" stroke="#333" stroke-width="0.4"/>
<text x="97.96" y="174.70" font-size="4.3" text-anchor="end" fill="#333" stroke="#444" stroke-width="0.12" transform="rotate(-45 97.96 174.70)">2012</text>
<line x1="106.18" y1="169.30" x2="106.18" y2="170.60" stroke="#333" stroke-width="0.4"/>
<text x="106.58" y="174.70" font-size="4.3" text-anchor="end" fill="#333" stroke="#444" stroke-width="0.12" transform="rotate(-45 106.58 174.70)">2018</text>
<rect x="122.00" y="99.20" width="64.25" height="8.10" fill="#D9D9D9"/>
<rect x="122.00" y="99.20" width="64.25" height="8.10" fill="none" stroke="#858585" stroke-width="0.5"/>
<text x="154.12" y="105.75" font-size="4.3" text-anchor="middle" fill="#111" stroke="#111" stroke-width="0.12">2016</text>
<rect x="122.00" y="107.30" width="64.25" height="62.50" fill="#ffffff"/>
<rect x="124.70" y="107.60" width="58.85" height="6.40" fill="#FF4545"/>
<rect x="124.70" y="114.00" width="58.85" height="24.90" fill="#FF9900"/>
<rect x="124.70" y="138.90" width="58.85" height="20.90" fill="#FFFF00"/>
<rect x="124.70" y="159.80" width="58.85" height="5.00" fill="#15AD5B"/>
<rect x="124.70" y="164.80" width="58.85" height="3.30" fill="#1E96DC"/>
<polyline points="125.4,154.7 127.0,155.5 128.7,156.4 131.2,156.4 132.9,156.7 135.4,156.4 137.1,156.0 138.0,145.5 139.6,145.5 142.2,151.3 144.7,154.7 147.2,147.1 148.9,153.0 153.1,163.9 153.9,165.6 157.3,141.3 158.9,142.1 160.6,148.8 161.5,153.9 163.1,144.6 164.8,148.0 166.5,151.3 167.3,154.7 169.9,149.7 172.4,154.7 174.1,148.8 175.7,136.2 178.3,151.3 179.9,149.7" fill="none" stroke="#222" stroke-width="0.4" stroke-dasharray="0.6,0.45"/>
<circle cx="125.4" cy="154.7" r="1.02" fill="#000"/>
<circle cx="127.0" cy="155.5" r="1.02" fill="#000"/>
<circle cx="128.7" cy="156.4" r="1.02" fill="#000"/>
<circle cx="131.2" cy="156.4" r="1.02" fill="#000"/>
<circle cx="132.9" cy="156.7" r="1.02" fill="#000"/>
<circle cx="135.4" cy="156.4" r="1.02" fill="#000"/>
<circle cx="137.1" cy="156.0" r="1.02" fill="#000"/>
<circle cx="138.0" cy="145.5" r="1.02" fill="#000"/>
<circle cx="139.6" cy="145.5" r="1.02" fill="#000"/>
<circle cx="142.2" cy="151.3" r="1.02" fill="#000"/>
<circle cx="144.7" cy="154.7" r="1.02" fill="#000"/>
<circle cx="147.2" cy="147.1" r="1.02" fill="#000"/>
<circle cx="148.9" cy="153.0" r="1.02" fill="#000"/>
<circle cx="153.1" cy="163.9" r="1.02" fill="#000"/>
<circle cx="153.9" cy="165.6" r="1.02" fill="#000"/>
<circle cx="157.3" cy="141.3" r="1.02" fill="#000"/>
<circle cx="158.9" cy="142.1" r="1.02" fill="#000"/>
<circle cx="160.6" cy="148.8" r="1.02" fill="#000"/>
<circle cx="161.5" cy="153.9" r="1.02" fill="#000"/>
<circle cx="163.1" cy="144.6" r="1.02" fill="#000"/>
<circle cx="164.8" cy="148.0" r="1.02" fill="#000"/>
<circle cx="166.5" cy="151.3" r="1.02" fill="#000"/>
<circle cx="167.3" cy="154.7" r="1.02" fill="#000"/>
<circle cx="169.9" cy="149.7" r="1.02" fill="#000"/>
<circle cx="172.4" cy="154.7" r="1.02" fill="#000"/>
<circle cx="174.1" cy="148.8" r="1.02" fill="#000"/>
<circle cx="175.7" cy="136.2" r="1.02" fill="#000"/>
<circle cx="178.3" cy="151.3" r="1.02" fill="#000"/>
<circle cx="179.9" cy="149.7" r="1.02" fill="#000"/>
<circle cx="130.4" cy="158.1" r="0.85" fill="#ff1a1a"/>
<circle cx="138.8" cy="161.4" r="0.85" fill="#ff1a1a"/>
<circle cx="148.9" cy="153.9" r="0.85" fill="#ff1a1a"/>
<circle cx="158.9" cy="148.0" r="0.85" fill="#ff1a1a"/>
<circle cx="168.2" cy="147.1" r="0.85" fill="#ff1a1a"/>
<circle cx="177.4" cy="153.0" r="0.85" fill="#ff1a1a"/>
<rect x="122.00" y="107.30" width="64.25" height="62.50" fill="none" stroke="#858585" stroke-width="0.5"/>
<line x1="120.70" y1="167.90" x2="122.00" y2="167.90" stroke="#333" stroke-width="0.4"/>
<text x="120.10" y="169.40" font-size="4.3" text-anchor="end" fill="#333" stroke="#444" stroke-width="0.12">0</text>
<line x1="120.70" y1="161.73" x2="122.00" y2="161.73" stroke="#333" stroke-width="0.4"/>
<text x="120.10" y="163.23" font-size="4.3" text-anchor="end" fill="#333" stroke="#444" stroke-width="0.12">2</text>
<line x1="120.70" y1="155.56" x2="122.00" y2="155.56" stroke="#333" stroke-width="0.4"/>
<text x="120.10" y="157.06" font-size="4.3" text-anchor="end" fill="#333" stroke="#444" stroke-width="0.12">4</text>
<line x1="120.70" y1="149.39" x2="122.00" y2="149.39" stroke="#333" stroke-width="0.4"/>
<text x="120.10" y="150.89" font-size="4.3" text-anchor="end" fill="#333" stroke="#444" stroke-width="0.12">6</text>
<line x1="120.70" y1="143.22" x2="122.00" y2="143.22" stroke="#333" stroke-width="0.4"/>
<text x="120.10" y="144.72" font-size="4.3" text-anchor="end" fill="#333" stroke="#444" stroke-width="0.12">8</text>
<line x1="120.70" y1="137.05" x2="122.00" y2="137.05" stroke="#333" stroke-width="0.4"/>
<text x="120.10" y="138.55" font-size="4.3" text-anchor="end" fill="#333" stroke="#444" stroke-width="0.12">10</text>
<line x1="120.70" y1="130.88" x2="122.00" y2="130.88" stroke="#333" stroke-width="0.4"/>
<text x="120.10" y="132.38" font-size="4.3" text-anchor="end" fill="#333" stroke="#444" stroke-width="0.12">12</text>
<line x1="120.70" y1="124.71" x2="122.00" y2="124.71" stroke="#333" stroke-width="0.4"/>
<text x="120.10" y="126.21" font-size="4.3" text-anchor="end" fill="#333" stroke="#444" stroke-width="0.12">14</text>
<line x1="120.70" y1="118.54" x2="122.00" y2="118.54" stroke="#333" stroke-width="0.4"/>
<text x="120.10" y="120.04" font-size="4.3" text-anchor="end" fill="#333" stroke="#444" stroke-width="0.12">16</text>
<line x1="120.70" y1="112.37" x2="122.00" y2="112.37" stroke="#333" stroke-width="0.4"/>
<text x="120.10" y="113.87" font-size="4.3" text-anchor="end" fill="#333" stroke="#444" stroke-width="0.12">18</text>
<line x1="125.50" y1="169.80" x2="125.50" y2="171.10" stroke="#333" stroke-width="0.4"/>
<text x="125.90" y="175.20" font-size="4.3" text-anchor="end" fill="#333" stroke="#444" stroke-width="0.12" transform="rotate(-45 125.90 175.20)">May</text>
<line x1="135.47" y1="169.80" x2="135.47" y2="171.10" stroke="#333" stroke-width="0.4"/>
<text x="135.88" y="175.20" font-size="4.3" text-anchor="end" fill="#333" stroke="#444" stroke-width="0.12" transform="rotate(-45 135.88 175.20)">Jun</text>
<line x1="145.45" y1="169.80" x2="145.45" y2="171.10" stroke="#333" stroke-width="0.4"/>
<text x="145.85" y="175.20" font-size="4.3" text-anchor="end" fill="#333" stroke="#444" stroke-width="0.12" transform="rotate(-45 145.85 175.20)">Jul</text>
<line x1="155.43" y1="169.80" x2="155.43" y2="171.10" stroke="#333" stroke-width="0.4"/>
<text x="155.83" y="175.20" font-size="4.3" text-anchor="end" fill="#333" stroke="#444" stroke-width="0.12" transform="rotate(-45 155.83 175.20)">Aug</text>
<line x1="165.40" y1="169.80" x2="165.40" y2="171.10" stroke="#333" stroke-width="0.4"/>
<text x="165.80" y="175.20" font-size="4.3" text-anchor="end" fill="#333" stroke="#444" stroke-width="0.12" transform="rotate(-45 165.80 175.20)">Sep</text>
<line x1="175.38" y1="169.80" x2="175.38" y2="171.10" stroke="#333" stroke-width="0.4"/>
<text x="175.78" y="175.20" font-size="4.3" text-anchor="end" fill="#333" stroke="#444" stroke-width="0.12" transform="rotate(-45 175.78 175.20)">Oct</text>
<line x1="185.35" y1="169.80" x2="185.35" y2="171.10" stroke="#333" stroke-width="0.4"/>
<text x="185.75" y="175.20" font-size="4.3" text-anchor="end" fill="#333" stroke="#444" stroke-width="0.12" transform="rotate(-45 185.75 175.20)">Nov</text>
<rect x="189.05" y="99.20" width="64.25" height="8.10" fill="#D9D9D9"/>
<rect x="189.05" y="99.20" width="64.25" height="8.10" fill="none" stroke="#858585" stroke-width="0.5"/>
<text x="221.18" y="105.75" font-size="4.3" text-anchor="middle" fill="#111" stroke="#111" stroke-width="0.12">2017</text>
<rect x="189.05" y="107.30" width="64.25" height="62.50" fill="#ffffff"/>
<rect x="191.75" y="107.60" width="58.85" height="6.40" fill="#FF4545"/>
<rect x="191.75" y="114.00" width="58.85" height="24.90" fill="#FF9900"/>
<rect x="191.75" y="138.90" width="58.85" height="20.90" fill="#FFFF00"/>
<rect x="191.75" y="159.80" width="58.85" height="5.00" fill="#15AD5B"/>
<rect x="191.75" y="164.80" width="58.85" height="3.30" fill="#1E96DC"/>
<polyline points="192.4,145.5 194.0,147.1 195.7,148.8 198.2,156.4 199.9,154.7 201.6,152.2 203.3,146.3 205.0,149.7 205.8,155.5 206.6,142.6 207.5,150.5 214.2,140.9 216.7,146.3 219.2,150.5 220.9,156.4 223.4,152.2 225.1,148.0 225.9,150.5 227.6,159.4 230.1,154.7 232.7,142.9 236.9,149.7 238.5,151.3 240.2,158.1 242.7,154.7 246.1,147.1 247.8,150.5" fill="none" stroke="#222" stroke-width="0.4" stroke-dasharray="0.6,0.45"/>
<circle cx="192.4" cy="145.5" r="1.02" fill="#000"/>
<circle cx="194.0" cy="147.1" r="1.02" fill="#000"/>
<circle cx="195.7" cy="148.8" r="1.02" fill="#000"/>
<circle cx="198.2" cy="156.4" r="1.02" fill="#000"/>
<circle cx="199.9" cy="154.7" r="1.02" fill="#000"/>
<circle cx="201.6" cy="152.2" r="1.02" fill="#000"/>
<circle cx="203.3" cy="146.3" r="1.02" fill="#000"/>
<circle cx="205.0" cy="149.7" r="1.02" fill="#000"/>
<circle cx="205.8" cy="155.5" r="1.02" fill="#000"/>
<circle cx="206.6" cy="142.6" r="1.02" fill="#000"/>
<circle cx="207.5" cy="150.5" r="1.02" fill="#000"/>
<circle cx="214.2" cy="140.9" r="1.02" fill="#000"/>
<circle cx="216.7" cy="146.3" r="1.02" fill="#000"/>
<circle cx="219.2" cy="150.5" r="1.02" fill="#000"/>
<circle cx="220.9" cy="156.4" r="1.02" fill="#000"/>
<circle cx="223.4" cy="152.2" r="1.02" fill="#000"/>
<circle cx="225.1" cy="148.0" r="1.02" fill="#000"/>
<circle cx="225.9" cy="150.5" r="1.02" fill="#000"/>
<circle cx="227.6" cy="159.4" r="1.02" fill="#000"/>
<circle cx="230.1" cy="154.7" r="1.02" fill="#000"/>
<circle cx="232.7" cy="142.9" r="1.02" fill="#000"/>
<circle cx="236.9" cy="149.7" r="1.02" fill="#000"/>
<circle cx="238.5" cy="151.3" r="1.02" fill="#000"/>
<circle cx="240.2" cy="158.1" r="1.02" fill="#000"/>
<circle cx="242.7" cy="154.7" r="1.02" fill="#000"/>
<circle cx="246.1" cy="147.1" r="1.02" fill="#000"/>
<circle cx="247.8" cy="150.5" r="1.02" fill="#000"/>
<circle cx="197.4" cy="153.9" r="0.85" fill="#ff1a1a"/>
<circle cx="205.8" cy="151.3" r="0.85" fill="#ff1a1a"/>
<circle cx="215.9" cy="148.8" r="0.85" fill="#ff1a1a"/>
<circle cx="223.4" cy="153.9" r="0.85" fill="#ff1a1a"/>
<circle cx="239.4" cy="161.4" r="0.85" fill="#ff1a1a"/>
<circle cx="247.8" cy="151.3" r="0.85" fill="#ff1a1a"/>
<rect x="189.05" y="107.30" width="64.25" height="62.50" fill="none" stroke="#858585" stroke-width="0.5"/>
<line x1="192.55" y1="169.80" x2="192.55" y2="171.10" stroke="#333" stroke-width="0.4"/>
<text x="192.95" y="175.20" font-size="4.3" text-anchor="end" fill="#333" stroke="#444" stroke-width="0.12" transform="rotate(-45 192.95 175.20)">May</text>
<line x1="202.53" y1="169.80" x2="202.53" y2="171.10" stroke="#333" stroke-width="0.4"/>
<text x="202.93" y="175.20" font-size="4.3" text-anchor="end" fill="#333" stroke="#444" stroke-width="0.12" transform="rotate(-45 202.93 175.20)">Jun</text>
<line x1="212.50" y1="169.80" x2="212.50" y2="171.10" stroke="#333" stroke-width="0.4"/>
<text x="212.90" y="175.20" font-size="4.3" text-anchor="end" fill="#333" stroke="#444" stroke-width="0.12" transform="rotate(-45 212.90 175.20)">Jul</text>
<line x1="222.48" y1="169.80" x2="222.48" y2="171.10" stroke="#333" stroke-width="0.4"/>
<text x="222.88" y="175.20" font-size="4.3" text-anchor="end" fill="#333" stroke="#444" stroke-width="0.12" transform="rotate(-45 222.88 175.20)">Aug</text>
<line x1="232.45" y1="169.80" x2="232.45" y2="171.10" stroke="#333" stroke-width="0.4"/>
<text x="232.85" y="175.20" font-size="4.3" text-anchor="end" fill="#333" stroke="#444" stroke-width="0.12" transform="rotate(-45 232.85 175.20)">Sep</text>
<line x1="242.43" y1="169.80" x2="242.43" y2="171.10" stroke="#333" stroke-width="0.4"/>
<text x="242.83" y="175.20" font-size="4.3" text-anchor="end" fill="#333" stroke="#444" stroke-width="0.12" transform="rotate(-45 242.83 175.20)">Oct</text>
<line x1="252.40" y1="169.80" x2="252.40" y2="171.10" stroke="#333" stroke-width="0.4"/>
<text x="252.80" y="175.20" font-size="4.3" text-anchor="end" fill="#333" stroke="#444" stroke-width="0.12" transform="rotate(-45 252.80 175.20)">Nov</text>
<rect x="256.10" y="99.20" width="64.25" height="8.10" fill="#D9D9D9"/>
<rect x="256.10" y="99.20" width="64.25" height="8.10" fill="none" stroke="#858585" stroke-width="0.5"/>
<text x="288.23" y="105.75" font-size="4.3" text-anchor="middle" fill="#111" stroke="#111" stroke-width="0.12">2018</text>
<rect x="256.10" y="107.30" width="64.25" height="62.50" fill="#ffffff"/>
<rect x="258.80" y="107.60" width="58.85" height="6.40" fill="#FF4545"/>
<rect x="258.80" y="114.00" width="58.85" height="24.90" fill="#FF9900"/>
<rect x="258.80" y="138.90" width="58.85" height="20.90" fill="#FFFF00"/>
<rect x="258.80" y="159.80" width="58.85" height="5.00" fill="#15AD5B"/>
<rect x="258.80" y="164.80" width="58.85" height="3.30" fill="#1E96DC"/>
<polyline points="261.0,153.9 262.7,153.0 263.6,156.4 264.4,158.1 266.9,154.7 268.6,156.0 272.0,151.3 273.6,150.0 277.0,147.1 277.8,152.2 282.9,158.9 283.7,156.4 285.4,162.3 285.4,163.9 288.7,154.7 290.4,153.0 291.3,148.0 292.9,142.1 293.8,148.8 298.8,151.3 298.8,163.9 300.5,156.4 302.2,133.7 304.7,154.7 306.4,145.5 307.2,142.9 312.3,154.7 313.1,155.5 313.9,152.2 315.6,149.7 317.3,147.1" fill="none" stroke="#222" stroke-width="0.4" stroke-dasharray="0.6,0.45"/>
<circle cx="261.0" cy="153.9" r="1.02" fill="#000"/>
<circle cx="262.7" cy="153.0" r="1.02" fill="#000"/>
<circle cx="263.6" cy="156.4" r="1.02" fill="#000"/>
<circle cx="264.4" cy="158.1" r="1.02" fill="#000"/>
<circle cx="266.9" cy="154.7" r="1.02" fill="#000"/>
<circle cx="268.6" cy="156.0" r="1.02" fill="#000"/>
<circle cx="272.0" cy="151.3" r="1.02" fill="#000"/>
<circle cx="273.6" cy="150.0" r="1.02" fill="#000"/>
<circle cx="277.0" cy="147.1" r="1.02" fill="#000"/>
<circle cx="277.8" cy="152.2" r="1.02" fill="#000"/>
<circle cx="282.9" cy="158.9" r="1.02" fill="#000"/>
<circle cx="283.7" cy="156.4" r="1.02" fill="#000"/>
<circle cx="285.4" cy="162.3" r="1.02" fill="#000"/>
<circle cx="285.4" cy="163.9" r="1.02" fill="#000"/>
<circle cx="288.7" cy="154.7" r="1.02" fill="#000"/>
<circle cx="290.4" cy="153.0" r="1.02" fill="#000"/>
<circle cx="291.3" cy="148.0" r="1.02" fill="#000"/>
<circle cx="292.9" cy="142.1" r="1.02" fill="#000"/>
<circle cx="293.8" cy="148.8" r="1.02" fill="#000"/>
<circle cx="298.8" cy="151.3" r="1.02" fill="#000"/>
<circle cx="298.8" cy="163.9" r="1.02" fill="#000"/>
<circle cx="300.5" cy="156.4" r="1.02" fill="#000"/>
<circle cx="302.2" cy="133.7" r="1.02" fill="#000"/>
<circle cx="304.7" cy="154.7" r="1.02" fill="#000"/>
<circle cx="306.4" cy="145.5" r="1.02" fill="#000"/>
<circle cx="307.2" cy="142.9" r="1.02" fill="#000"/>
<circle cx="312.3" cy="154.7" r="1.02" fill="#000"/>
<circle cx="313.1" cy="155.5" r="1.02" fill="#000"/>
<circle cx="313.9" cy="152.2" r="1.02" fill="#000"/>
<circle cx="315.6" cy="149.7" r="1.02" fill="#000"/>
<circle cx="317.3" cy="147.1" r="1.02" fill="#000"/>
<circle cx="263.6" cy="160.6" r="0.85" fill="#ff1a1a"/>
<circle cx="272.8" cy="159.7" r="0.85" fill="#ff1a1a"/>
<circle cx="281.2" cy="136.6" r="0.85" fill="#ff1a1a"/>
<circle cx="295.5" cy="131.5" r="0.85" fill="#ff1a1a"/>
<circle cx="303.9" cy="131.5" r="0.85" fill="#ff1a1a"/>
<circle cx="313.1" cy="156.4" r="0.85" fill="#ff1a1a"/>
<rect x="256.10" y="107.30" width="64.25" height="62.50" fill="none" stroke="#858585" stroke-width="0.5"/>
<line x1="259.60" y1="169.80" x2="259.60" y2="171.10" stroke="#333" stroke-width="0.4"/>
<text x="260.00" y="175.20" font-size="4.3" text-anchor="end" fill="#333" stroke="#444" stroke-width="0.12" transform="rotate(-45 260.00 175.20)">May</text>
<line x1="269.58" y1="169.80" x2="269.58" y2="171.10" stroke="#333" stroke-width="0.4"/>
<text x="269.98" y="175.20" font-size="4.3" text-anchor="end" fill="#333" stroke="#444" stroke-width="0.12" transform="rotate(-45 269.98 175.20)">Jun</text>
<line x1="279.55" y1="169.80" x2="279.55" y2="171.10" stroke="#333" stroke-width="0.4"/>
<text x="279.95" y="175.20" font-size="4.3" text-anchor="end" fill="#333" stroke="#444" stroke-width="0.12" transform="rotate(-45 279.95 175.20)">Jul</text>
<line x1="289.53" y1="169.80" x2="289.53" y2="171.10" stroke="#333" stroke-width="0.4"/>
<text x="289.93" y="175.20" font-size="4.3" text-anchor="end" fill="#333" stroke="#444" stroke-width="0.12" transform="rotate(-45 289.93 175.20)">Aug</text>
<line x1="299.50" y1="169.80" x2="299.50" y2="171.10" stroke="#333" stroke-width="0.4"/>
<text x="299.90" y="175.20" font-size="4.3" text-anchor="end" fill="#333" stroke="#444" stroke-width="0.12" transform="rotate(-45 299.90 175.20)">Sep</text>
<line x1="309.48" y1="169.80" x2="309.48" y2="171.10" stroke="#333" stroke-width="0.4"/>
<text x="309.88" y="175.20" font-size="4.3" text-anchor="end" fill="#333" stroke="#444" stroke-width="0.12" transform="rotate(-45 309.88 175.20)">Oct</text>
<line x1="319.45" y1="169.80" x2="319.45" y2="171.10" stroke="#333" stroke-width="0.4"/>
<text x="319.85" y="175.20" font-size="4.3" text-anchor="end" fill="#333" stroke="#444" stroke-width="0.12" transform="rotate(-45 319.85 175.20)">Nov</text>
<rect x="323.15" y="99.20" width="64.25" height="8.10" fill="#D9D9D9"/>
<rect x="323.15" y="99.20" width="64.25" height="8.10" fill="none" stroke="#858585" stroke-width="0.5"/>
<text x="355.27" y="105.75" font-size="4.3" text-anchor="middle" fill="#111" stroke="#111" stroke-width="0.12">2019</text>
<rect x="323.15" y="107.30" width="64.25" height="62.50" fill="#ffffff"/>
<rect x="325.85" y="107.60" width="58.85" height="6.40" fill="#FF4545"/>
<rect x="325.85" y="114.00" width="58.85" height="24.90" fill="#FF9900"/>
<rect x="325.85" y="138.90" width="58.85" height="20.90" fill="#FFFF00"/>
<rect x="325.85" y="159.80" width="58.85" height="5.00" fill="#15AD5B"/>
<rect x="325.85" y="164.80" width="58.85" height="3.30" fill="#1E96DC"/>
<polyline points="328.0,150.5 331.4,154.7 332.2,156.4 335.6,153.9 336.4,155.5 338.1,159.7 339.0,161.4 340.6,154.7 342.3,153.9 343.2,167.3 344.0,153.0 346.5,146.3 348.2,148.8 349.0,159.7 352.4,155.5 353.2,159.7 354.1,111.4 354.1,161.4 354.9,128.7 355.7,141.3 357.4,146.0 361.6,151.3 362.5,153.9 363.3,154.7 364.1,151.3 365.0,148.8 365.8,146.3 366.7,150.5 367.5,153.0 368.3,147.1 369.2,144.6 370.0,140.4 370.9,139.6 370.9,162.3 371.7,142.1 372.5,148.8 374.2,146.3 375.1,136.6 376.7,152.2 378.4,151.3 379.3,150.5 380.9,153.0 383.5,159.7 385.1,149.7" fill="none" stroke="#222" stroke-width="0.4" stroke-dasharray="0.6,0.45"/>
<circle cx="328.0" cy="150.5" r="1.02" fill="#000"/>
<circle cx="331.4" cy="154.7" r="1.02" fill="#000"/>
<circle cx="332.2" cy="156.4" r="1.02" fill="#000"/>
<circle cx="335.6" cy="153.9" r="1.02" fill="#000"/>
<circle cx="336.4" cy="155.5" r="1.02" fill="#000"/>
<circle cx="338.1" cy="159.7" r="1.02" fill="#000"/>
<circle cx="339.0" cy="161.4" r="1.02" fill="#000"/>
<circle cx="340.6" cy="154.7" r="1.02" fill="#000"/>
<circle cx="342.3" cy="153.9" r="1.02" fill="#000"/>
<circle cx="343.2" cy="167.3" r="1.02" fill="#000"/>
<circle cx="344.0" cy="153.0" r="1.02" fill="#000"/>
<circle cx="346.5" cy="146.3" r="1.02" fill="#000"/>
<circle cx="348.2" cy="148.8" r="1.02" fill="#000"/>
<circle cx="349.0" cy="159.7" r="1.02" fill="#000"/>
<circle cx="352.4" cy="155.5" r="1.02" fill="#000"/>
<circle cx="353.2" cy="159.7" r="1.02" fill="#000"/>
<circle cx="354.1" cy="161.4" r="1.02" fill="#000"/>
<circle cx="354.1" cy="111.4" r="1.02" fill="#000"/>
<circle cx="354.9" cy="128.7" r="1.02" fill="#000"/>
<circle cx="355.7" cy="141.3" r="1.02" fill="#000"/>
<circle cx="357.4" cy="146.0" r="1.02" fill="#000"/>
<circle cx="361.6" cy="151.3" r="1.02" fill="#000"/>
<circle cx="362.5" cy="153.9" r="1.02" fill="#000"/>
<circle cx="363.3" cy="154.7" r="1.02" fill="#000"/>
<circle cx="364.1" cy="151.3" r="1.02" fill="#000"/>
<circle cx="365.0" cy="148.8" r="1.02" fill="#000"/>
<circle cx="365.8" cy="146.3" r="1.02" fill="#000"/>
<circle cx="366.7" cy="150.5" r="1.02" fill="#000"/>
<circle cx="367.5" cy="153.0" r="1.02" fill="#000"/>
<circle cx="368.3" cy="147.1" r="1.02" fill="#000"/>
<circle cx="369.2" cy="144.6" r="1.02" fill="#000"/>
<circle cx="370.0" cy="140.4" r="1.02" fill="#000"/>
<circle cx="370.9" cy="139.6" r="1.02" fill="#000"/>
<circle cx="371.7" cy="142.1" r="1.02" fill="#000"/>
<circle cx="370.9" cy="162.3" r="1.02" fill="#000"/>
<circle cx="372.5" cy="148.8" r="1.02" fill="#000"/>
<circle cx="374.2" cy="146.3" r="1.02" fill="#000"/>
<circle cx="375.1" cy="136.6" r="1.02" fill="#000"/>
<circle cx="376.7" cy="152.2" r="1.02" fill="#000"/>
<circle cx="378.4" cy="151.3" r="1.02" fill="#000"/>
<circle cx="379.3" cy="150.5" r="1.02" fill="#000"/>
<circle cx="380.9" cy="153.0" r="1.02" fill="#000"/>
<circle cx="383.5" cy="159.7" r="1.02" fill="#000"/>
<circle cx="385.1" cy="149.7" r="1.02" fill="#000"/>
<circle cx="331.4" cy="163.1" r="0.85" fill="#ff1a1a"/>
<circle cx="350.7" cy="148.8" r="0.85" fill="#ff1a1a"/>
<circle cx="359.1" cy="146.0" r="0.85" fill="#ff1a1a"/>
<circle cx="370.9" cy="110.7" r="0.85" fill="#ff1a1a"/>
<circle cx="380.1" cy="144.6" r="0.85" fill="#ff1a1a"/>
<rect x="323.15" y="107.30" width="64.25" height="62.50" fill="none" stroke="#858585" stroke-width="0.5"/>
<line x1="326.65" y1="169.80" x2="326.65" y2="171.10" stroke="#333" stroke-width="0.4"/>
<text x="327.05" y="175.20" font-size="4.3" text-anchor="end" fill="#333" stroke="#444" stroke-width="0.12" transform="rotate(-45 327.05 175.20)">May</text>
<line x1="336.62" y1="169.80" x2="336.62" y2="171.10" stroke="#333" stroke-width="0.4"/>
<text x="337.02" y="175.20" font-size="4.3" text-anchor="end" fill="#333" stroke="#444" stroke-width="0.12" transform="rotate(-45 337.02 175.20)">Jun</text>
<line x1="346.60" y1="169.80" x2="346.60" y2="171.10" stroke="#333" stroke-width="0.4"/>
<text x="347.00" y="175.20" font-size="4.3" text-anchor="end" fill="#333" stroke="#444" stroke-width="0.12" transform="rotate(-45 347.00 175.20)">Jul</text>
<line x1="356.57" y1="169.80" x2="356.57" y2="171.10" stroke="#333" stroke-width="0.4"/>
<text x="356.97" y="175.20" font-size="4.3" text-anchor="end" fill="#333" stroke="#444" stroke-width="0.12" transform="rotate(-45 356.97 175.20)">Aug</text>
<line x1="366.55" y1="169.80" x2="366.55" y2="171.10" stroke="#333" stroke-width="0.4"/>
<text x="366.95" y="175.20" font-size="4.3" text-anchor="end" fill="#333" stroke="#444" stroke-width="0.12" transform="rotate(-45 366.95 175.20)">Sep</text>
<line x1="376.52" y1="169.80" x2="376.52" y2="171.10" stroke="#333" stroke-width="0.4"/>
<text x="376.92" y="175.20" font-size="4.3" text-anchor="end" fill="#333" stroke="#444" stroke-width="0.12" transform="rotate(-45 376.92 175.20)">Oct</text>
<line x1="386.50" y1="169.80" x2="386.50" y2="171.10" stroke="#333" stroke-width="0.4"/>
<text x="386.90" y="175.20" font-size="4.3" text-anchor="end" fill="#333" stroke="#444" stroke-width="0.12" transform="rotate(-45 386.90 175.20)">Nov</text>
<text x="9.1" y="138.6" font-size="5.0" text-anchor="middle" fill="#000" stroke="#000" stroke-width="0.08" transform="rotate(-90 9.1 138.6)">FBM g/m<tspan font-size="3.4" dy="-1.8">3</tspan></text>
<rect x="18.00" y="186.30" width="91.20" height="8.60" fill="#D9D9D9"/>
<rect x="18.00" y="186.30" width="91.20" height="8.60" fill="none" stroke="#858585" stroke-width="0.5"/>
<text x="63.60" y="193.10" font-size="4.3" text-anchor="middle" fill="#111" stroke="#111" stroke-width="0.12">1951-2019</text>
<rect x="18.00" y="194.90" width="91.20" height="62.00" fill="#ffffff"/>
<rect x="22.80" y="195.20" width="82.90" height="28.30" fill="#1E96DC"/>
<rect x="22.80" y="223.50" width="82.90" height="12.10" fill="#15AD5B"/>
<rect x="22.80" y="235.60" width="82.90" height="12.20" fill="#FFFF00"/>
<rect x="22.80" y="247.80" width="82.90" height="5.90" fill="#FF9900"/>
<rect x="22.80" y="253.70" width="82.90" height="3.20" fill="#FF4545"/>
<line x1="27.0" y1="197.0" x2="27.0" y2="250.0" stroke="#222" stroke-width="0.35" stroke-dasharray="0.7,0.5"/>
<line x1="50.5" y1="227.0" x2="50.5" y2="253.0" stroke="#222" stroke-width="0.35" stroke-dasharray="0.7,0.5"/>
<line x1="97.5" y1="223.1" x2="97.5" y2="245.0" stroke="#222" stroke-width="0.35" stroke-dasharray="0.7,0.5"/>
<circle cx="26.6" cy="197.5" r="1.02" fill="#000"/>
<circle cx="27.1" cy="207.4" r="1.02" fill="#000"/>
<circle cx="27.1" cy="214.9" r="1.02" fill="#000"/>
<circle cx="31.2" cy="217.3" r="1.02" fill="#000"/>
<circle cx="27.1" cy="219.6" r="1.02" fill="#000"/>
<circle cx="28.9" cy="219.8" r="1.02" fill="#000"/>
<circle cx="30.1" cy="219.8" r="1.02" fill="#000"/>
<circle cx="25.4" cy="225.4" r="1.02" fill="#000"/>
<circle cx="26.0" cy="231.2" r="1.02" fill="#000"/>
<circle cx="30.1" cy="231.8" r="1.02" fill="#000"/>
<circle cx="24.8" cy="234.1" r="1.02" fill="#000"/>
<circle cx="27.7" cy="234.1" r="1.02" fill="#000"/>
<circle cx="30.1" cy="235.3" r="1.02" fill="#000"/>
<circle cx="23.7" cy="237.1" r="1.02" fill="#000"/>
<circle cx="23.1" cy="240.0" r="1.02" fill="#000"/>
<circle cx="23.7" cy="241.7" r="1.02" fill="#000"/>
<circle cx="24.8" cy="242.3" r="1.02" fill="#000"/>
<circle cx="25.4" cy="238.2" r="1.02" fill="#000"/>
<circle cx="27.1" cy="238.2" r="1.02" fill="#000"/>
<circle cx="26.6" cy="245.2" r="1.02" fill="#000"/>
<circle cx="26.0" cy="248.7" r="1.02" fill="#000"/>
<circle cx="27.1" cy="251.0" r="1.02" fill="#000"/>
<circle cx="27.7" cy="251.6" r="1.02" fill="#000"/>
<circle cx="45.8" cy="234.1" r="1.02" fill="#000"/>
<circle cx="49.8" cy="227.2" r="1.02" fill="#000"/>
<circle cx="51.0" cy="241.7" r="1.02" fill="#000"/>
<circle cx="52.2" cy="247.5" r="1.02" fill="#000"/>
<circle cx="49.8" cy="252.2" r="1.02" fill="#000"/>
<circle cx="52.2" cy="253.9" r="1.02" fill="#000"/>
<circle cx="64.9" cy="228.9" r="1.02" fill="#000"/>
<circle cx="65.5" cy="241.7" r="1.02" fill="#000"/>
<circle cx="66.1" cy="244.0" r="1.02" fill="#000"/>
<circle cx="65.5" cy="246.4" r="1.02" fill="#000"/>
<circle cx="64.9" cy="249.3" r="1.02" fill="#000"/>
<circle cx="74.2" cy="233.6" r="1.02" fill="#000"/>
<circle cx="73.6" cy="236.5" r="1.02" fill="#000"/>
<circle cx="74.8" cy="242.9" r="1.02" fill="#000"/>
<circle cx="73.6" cy="253.9" r="1.02" fill="#000"/>
<circle cx="97.5" cy="223.1" r="1.02" fill="#000"/>
<circle cx="105.1" cy="228.3" r="1.02" fill="#000"/>
<circle cx="77.6" cy="246.1" r="1.02" fill="#000"/>
<circle cx="93.6" cy="243.5" r="1.02" fill="#000"/>
<circle cx="79.3" cy="247.4" r="1.02" fill="#000"/>
<circle cx="99.5" cy="243.9" r="1.02" fill="#000"/>
<circle cx="89.2" cy="240.5" r="1.02" fill="#000"/>
<circle cx="72.1" cy="242.1" r="1.02" fill="#000"/>
<circle cx="91.9" cy="238.4" r="1.02" fill="#000"/>
<circle cx="99.0" cy="240.4" r="1.02" fill="#000"/>
<circle cx="79.9" cy="238.0" r="1.02" fill="#000"/>
<circle cx="105.9" cy="246.7" r="1.02" fill="#000"/>
<circle cx="101.8" cy="245.2" r="1.02" fill="#000"/>
<circle cx="73.2" cy="241.6" r="1.02" fill="#000"/>
<circle cx="88.9" cy="238.9" r="1.02" fill="#000"/>
<circle cx="104.4" cy="242.1" r="1.02" fill="#000"/>
<circle cx="77.3" cy="247.7" r="1.02" fill="#000"/>
<circle cx="76.2" cy="249.1" r="1.02" fill="#000"/>
<circle cx="87.4" cy="244.4" r="1.02" fill="#000"/>
<circle cx="83.7" cy="243.6" r="1.02" fill="#000"/>
<circle cx="78.4" cy="238.0" r="1.02" fill="#000"/>
<circle cx="101.4" cy="240.4" r="1.02" fill="#000"/>
<circle cx="98.5" cy="240.1" r="1.02" fill="#000"/>
<circle cx="104.9" cy="248.7" r="1.02" fill="#000"/>
<circle cx="97.7" cy="247.0" r="1.02" fill="#000"/>
<circle cx="91.7" cy="246.6" r="1.02" fill="#000"/>
<circle cx="76.2" cy="243.5" r="1.02" fill="#000"/>
<circle cx="100.1" cy="240.0" r="1.02" fill="#000"/>
<circle cx="103.4" cy="248.6" r="1.02" fill="#000"/>
<circle cx="85.9" cy="242.1" r="1.02" fill="#000"/>
<circle cx="87.3" cy="242.3" r="1.02" fill="#000"/>
<circle cx="105.8" cy="242.3" r="1.02" fill="#000"/>
<circle cx="72.9" cy="238.7" r="1.02" fill="#000"/>
<circle cx="96.4" cy="249.9" r="1.02" fill="#000"/>
<circle cx="88.9" cy="243.6" r="1.02" fill="#000"/>
<circle cx="90.7" cy="246.9" r="1.02" fill="#000"/>
<circle cx="79.5" cy="245.1" r="1.02" fill="#000"/>
<circle cx="90.9" cy="245.3" r="1.02" fill="#000"/>
<circle cx="78.1" cy="239.6" r="1.02" fill="#000"/>
<circle cx="83.8" cy="249.1" r="1.02" fill="#000"/>
<circle cx="83.8" cy="245.0" r="1.02" fill="#000"/>
<circle cx="82.4" cy="238.8" r="1.02" fill="#000"/>
<circle cx="74.2" cy="247.7" r="1.02" fill="#000"/>
<circle cx="98.4" cy="242.2" r="1.02" fill="#000"/>
<circle cx="95.2" cy="245.9" r="1.02" fill="#000"/>
<circle cx="102.6" cy="249.5" r="1.02" fill="#000"/>
<circle cx="85.8" cy="249.9" r="1.02" fill="#000"/>
<circle cx="104.7" cy="244.9" r="1.02" fill="#000"/>
<circle cx="102.0" cy="243.6" r="1.02" fill="#000"/>
<circle cx="84.8" cy="240.6" r="1.02" fill="#000"/>
<circle cx="101.8" cy="239.5" r="1.02" fill="#000"/>
<circle cx="74.4" cy="247.6" r="1.02" fill="#000"/>
<circle cx="98.3" cy="243.5" r="1.02" fill="#000"/>
<circle cx="100.5" cy="238.2" r="1.02" fill="#000"/>
<circle cx="80.8" cy="241.1" r="1.02" fill="#000"/>
<circle cx="86.3" cy="239.6" r="1.02" fill="#000"/>
<circle cx="74.4" cy="241.7" r="1.02" fill="#000"/>
<circle cx="102.6" cy="249.8" r="1.02" fill="#000"/>
<circle cx="97.4" cy="243.5" r="1.02" fill="#000"/>
<circle cx="80.6" cy="249.5" r="1.02" fill="#000"/>
<circle cx="89.9" cy="246.6" r="1.02" fill="#000"/>
<circle cx="73.0" cy="240.2" r="1.02" fill="#000"/>
<circle cx="100.5" cy="247.4" r="1.02" fill="#000"/>
<circle cx="102.0" cy="245.0" r="1.02" fill="#000"/>
<circle cx="86.5" cy="244.8" r="1.02" fill="#000"/>
<circle cx="100.9" cy="241.3" r="1.02" fill="#000"/>
<circle cx="90.2" cy="240.9" r="1.02" fill="#000"/>
<circle cx="98.1" cy="237.6" r="1.02" fill="#000"/>
<circle cx="95.3" cy="249.4" r="1.02" fill="#000"/>
<circle cx="72.8" cy="244.9" r="1.02" fill="#000"/>
<circle cx="93.9" cy="248.1" r="1.02" fill="#000"/>
<circle cx="91.9" cy="240.7" r="1.02" fill="#000"/>
<circle cx="85.8" cy="249.5" r="1.02" fill="#000"/>
<circle cx="102.8" cy="239.2" r="1.02" fill="#000"/>
<circle cx="75.2" cy="238.7" r="1.02" fill="#000"/>
<circle cx="72.9" cy="243.1" r="1.02" fill="#000"/>
<circle cx="76.8" cy="248.3" r="1.02" fill="#000"/>
<circle cx="94.3" cy="239.1" r="1.02" fill="#000"/>
<circle cx="90.3" cy="241.6" r="1.02" fill="#000"/>
<circle cx="88.8" cy="240.2" r="1.02" fill="#000"/>
<circle cx="77.6" cy="239.8" r="1.02" fill="#000"/>
<circle cx="84.8" cy="246.4" r="1.02" fill="#000"/>
<circle cx="90.7" cy="238.1" r="1.02" fill="#000"/>
<circle cx="96.2" cy="248.4" r="1.02" fill="#000"/>
<circle cx="98.3" cy="247.4" r="1.02" fill="#000"/>
<circle cx="72.3" cy="243.3" r="1.02" fill="#000"/>
<circle cx="74.2" cy="247.0" r="1.02" fill="#000"/>
<circle cx="78.0" cy="246.4" r="1.02" fill="#000"/>
<circle cx="80.6" cy="246.2" r="1.02" fill="#000"/>
<circle cx="82.7" cy="238.0" r="1.02" fill="#000"/>
<circle cx="85.2" cy="241.4" r="1.02" fill="#000"/>
<circle cx="102.6" cy="241.2" r="1.02" fill="#000"/>
<circle cx="89.1" cy="244.4" r="1.02" fill="#000"/>
<circle cx="104.2" cy="238.7" r="1.02" fill="#000"/>
<circle cx="92.4" cy="243.9" r="1.02" fill="#000"/>
<circle cx="97.0" cy="249.6" r="1.02" fill="#000"/>
<circle cx="82.5" cy="246.2" r="1.02" fill="#000"/>
<circle cx="89.9" cy="244.5" r="1.02" fill="#000"/>
<circle cx="74.2" cy="247.7" r="1.02" fill="#000"/>
<circle cx="105.2" cy="241.9" r="1.02" fill="#000"/>
<circle cx="82.8" cy="249.9" r="1.02" fill="#000"/>
<circle cx="75.7" cy="238.5" r="1.02" fill="#000"/>
<circle cx="74.5" cy="247.7" r="1.02" fill="#000"/>
<circle cx="97.8" cy="243.1" r="1.02" fill="#000"/>
<circle cx="93.1" cy="237.7" r="1.02" fill="#000"/>
<circle cx="93.9" cy="243.0" r="1.02" fill="#000"/>
<circle cx="89.6" cy="242.4" r="1.02" fill="#000"/>
<circle cx="85.7" cy="240.3" r="1.02" fill="#000"/>
<circle cx="73.7" cy="242.9" r="1.02" fill="#000"/>
<circle cx="80.4" cy="246.3" r="1.02" fill="#000"/>
<circle cx="99.8" cy="246.5" r="1.02" fill="#000"/>
<circle cx="87.5" cy="240.5" r="1.02" fill="#000"/>
<circle cx="85.1" cy="243.6" r="1.02" fill="#000"/>
<circle cx="93.5" cy="249.5" r="1.02" fill="#000"/>
<circle cx="74.9" cy="243.5" r="1.02" fill="#000"/>
<circle cx="88.7" cy="246.5" r="1.02" fill="#000"/>
<circle cx="102.3" cy="247.2" r="1.02" fill="#000"/>
<circle cx="93.3" cy="247.0" r="1.02" fill="#000"/>
<circle cx="94.7" cy="248.2" r="1.02" fill="#000"/>
<circle cx="95.8" cy="246.0" r="1.02" fill="#000"/>
<circle cx="80.3" cy="249.0" r="1.02" fill="#000"/>
<circle cx="85.1" cy="245.2" r="1.02" fill="#000"/>
<circle cx="100.0" cy="249.5" r="1.02" fill="#000"/>
<circle cx="105.6" cy="237.6" r="1.02" fill="#000"/>
<circle cx="82.6" cy="241.4" r="1.02" fill="#000"/>
<circle cx="85.3" cy="239.3" r="1.02" fill="#000"/>
<circle cx="90.8" cy="238.5" r="1.02" fill="#000"/>
<circle cx="102.6" cy="230.0" r="1.02" fill="#000"/>
<circle cx="70.8" cy="236.0" r="1.02" fill="#000"/>
<circle cx="76.3" cy="229.8" r="1.02" fill="#000"/>
<circle cx="92.1" cy="231.4" r="1.02" fill="#000"/>
<circle cx="100.2" cy="230.6" r="1.02" fill="#000"/>
<circle cx="102.6" cy="231.2" r="1.02" fill="#000"/>
<circle cx="90.4" cy="235.5" r="1.02" fill="#000"/>
<circle cx="93.3" cy="235.5" r="1.02" fill="#000"/>
<circle cx="94.1" cy="229.3" r="1.02" fill="#000"/>
<circle cx="100.0" cy="233.1" r="1.02" fill="#000"/>
<circle cx="80.6" cy="230.3" r="1.02" fill="#000"/>
<circle cx="98.9" cy="233.1" r="1.02" fill="#000"/>
<circle cx="101.9" cy="234.4" r="1.02" fill="#000"/>
<circle cx="102.7" cy="233.0" r="1.02" fill="#000"/>
<circle cx="93.7" cy="233.3" r="1.02" fill="#000"/>
<circle cx="78.8" cy="235.7" r="1.02" fill="#000"/>
<circle cx="80.6" cy="234.5" r="1.02" fill="#000"/>
<circle cx="102.5" cy="233.6" r="1.02" fill="#000"/>
<circle cx="74.8" cy="234.8" r="1.02" fill="#000"/>
<circle cx="92.7" cy="230.3" r="1.02" fill="#000"/>
<circle cx="71.7" cy="232.7" r="1.02" fill="#000"/>
<circle cx="71.1" cy="235.5" r="1.02" fill="#000"/>
<circle cx="87.2" cy="232.6" r="1.02" fill="#000"/>
<circle cx="83.9" cy="233.6" r="1.02" fill="#000"/>
<circle cx="101.2" cy="231.2" r="1.02" fill="#000"/>
<circle cx="82.7" cy="233.1" r="1.02" fill="#000"/>
<circle cx="80.1" cy="233.2" r="1.02" fill="#000"/>
<circle cx="88.5" cy="232.0" r="1.02" fill="#000"/>
<circle cx="92.9" cy="232.7" r="1.02" fill="#000"/>
<circle cx="73.0" cy="236.0" r="1.02" fill="#000"/>
<circle cx="103.6" cy="253.2" r="1.02" fill="#000"/>
<circle cx="102.6" cy="248.5" r="1.02" fill="#000"/>
<circle cx="92.9" cy="250.3" r="1.02" fill="#000"/>
<circle cx="91.0" cy="248.7" r="1.02" fill="#000"/>
<circle cx="80.1" cy="250.4" r="1.02" fill="#000"/>
<circle cx="81.1" cy="250.5" r="1.02" fill="#000"/>
<circle cx="74.8" cy="248.5" r="1.02" fill="#000"/>
<circle cx="96.7" cy="250.3" r="1.02" fill="#000"/>
<circle cx="90.4" cy="252.0" r="1.02" fill="#000"/>
<circle cx="85.5" cy="248.3" r="1.02" fill="#000"/>
<circle cx="99.1" cy="251.2" r="1.02" fill="#000"/>
<circle cx="95.1" cy="251.4" r="1.02" fill="#000"/>
<circle cx="105.1" cy="250.0" r="1.02" fill="#000"/>
<circle cx="98.3" cy="250.0" r="1.02" fill="#000"/>
<circle cx="92.3" cy="251.6" r="1.02" fill="#000"/>
<circle cx="84.1" cy="248.5" r="1.02" fill="#000"/>
<circle cx="89.2" cy="251.9" r="1.02" fill="#000"/>
<circle cx="92.9" cy="250.5" r="1.02" fill="#000"/>
<circle cx="94.6" cy="249.0" r="1.02" fill="#000"/>
<circle cx="79.7" cy="249.8" r="1.02" fill="#000"/>
<circle cx="100.1" cy="249.1" r="1.02" fill="#000"/>
<circle cx="77.7" cy="248.5" r="1.02" fill="#000"/>
<circle cx="75.2" cy="249.5" r="1.02" fill="#000"/>
<circle cx="92.3" cy="252.5" r="1.02" fill="#000"/>
<circle cx="84.6" cy="250.0" r="1.02" fill="#000"/>
<circle cx="83.2" cy="249.7" r="1.02" fill="#000"/>
<circle cx="98.9" cy="251.0" r="1.02" fill="#000"/>
<circle cx="82.3" cy="248.6" r="1.02" fill="#000"/>
<rect x="18.00" y="194.90" width="91.20" height="62.00" fill="none" stroke="#858585" stroke-width="0.5"/>
<line x1="16.70" y1="253.70" x2="18.00" y2="253.70" stroke="#333" stroke-width="0.4"/>
<text x="16.10" y="255.20" font-size="4.3" text-anchor="end" fill="#333" stroke="#444" stroke-width="0.12">1.0</text>
<line x1="16.70" y1="247.65" x2="18.00" y2="247.65" stroke="#333" stroke-width="0.4"/>
<text x="16.10" y="249.15" font-size="4.3" text-anchor="end" fill="#333" stroke="#444" stroke-width="0.12">1.5</text>
<line x1="16.70" y1="241.60" x2="18.00" y2="241.60" stroke="#333" stroke-width="0.4"/>
<text x="16.10" y="243.10" font-size="4.3" text-anchor="end" fill="#333" stroke="#444" stroke-width="0.12">2.0</text>
<line x1="16.70" y1="235.55" x2="18.00" y2="235.55" stroke="#333" stroke-width="0.4"/>
<text x="16.10" y="237.05" font-size="4.3" text-anchor="end" fill="#333" stroke="#444" stroke-width="0.12">2.5</text>
<line x1="16.70" y1="229.50" x2="18.00" y2="229.50" stroke="#333" stroke-width="0.4"/>
<text x="16.10" y="231.00" font-size="4.3" text-anchor="end" fill="#333" stroke="#444" stroke-width="0.12">3.0</text>
<line x1="16.70" y1="223.45" x2="18.00" y2="223.45" stroke="#333" stroke-width="0.4"/>
<text x="16.10" y="224.95" font-size="4.3" text-anchor="end" fill="#333" stroke="#444" stroke-width="0.12">3.5</text>
<line x1="16.70" y1="217.40" x2="18.00" y2="217.40" stroke="#333" stroke-width="0.4"/>
<text x="16.10" y="218.90" font-size="4.3" text-anchor="end" fill="#333" stroke="#444" stroke-width="0.12">4.0</text>
<line x1="16.70" y1="211.35" x2="18.00" y2="211.35" stroke="#333" stroke-width="0.4"/>
<text x="16.10" y="212.85" font-size="4.3" text-anchor="end" fill="#333" stroke="#444" stroke-width="0.12">4.5</text>
<line x1="16.70" y1="205.30" x2="18.00" y2="205.30" stroke="#333" stroke-width="0.4"/>
<text x="16.10" y="206.80" font-size="4.3" text-anchor="end" fill="#333" stroke="#444" stroke-width="0.12">5.0</text>
<line x1="16.70" y1="199.25" x2="18.00" y2="199.25" stroke="#333" stroke-width="0.4"/>
<text x="16.10" y="200.75" font-size="4.3" text-anchor="end" fill="#333" stroke="#444" stroke-width="0.12">5.5</text>
<line x1="26.10" y1="256.90" x2="26.10" y2="258.20" stroke="#333" stroke-width="0.4"/>
<text x="26.50" y="262.30" font-size="4.3" text-anchor="end" fill="#333" stroke="#444" stroke-width="0.12" transform="rotate(-45 26.50 262.30)">1955</text>
<line x1="32.56" y1="256.90" x2="32.56" y2="258.20" stroke="#333" stroke-width="0.4"/>
<text x="32.96" y="262.30" font-size="4.3" text-anchor="end" fill="#333" stroke="#444" stroke-width="0.12" transform="rotate(-45 32.96 262.30)">1960</text>
<line x1="39.02" y1="256.90" x2="39.02" y2="258.20" stroke="#333" stroke-width="0.4"/>
<text x="39.42" y="262.30" font-size="4.3" text-anchor="end" fill="#333" stroke="#444" stroke-width="0.12" transform="rotate(-45 39.42 262.30)">1965</text>
<line x1="45.48" y1="256.90" x2="45.48" y2="258.20" stroke="#333" stroke-width="0.4"/>
<text x="45.88" y="262.30" font-size="4.3" text-anchor="end" fill="#333" stroke="#444" stroke-width="0.12" transform="rotate(-45 45.88 262.30)">1970</text>
<line x1="51.94" y1="256.90" x2="51.94" y2="258.20" stroke="#333" stroke-width="0.4"/>
<text x="52.34" y="262.30" font-size="4.3" text-anchor="end" fill="#333" stroke="#444" stroke-width="0.12" transform="rotate(-45 52.34 262.30)">1975</text>
<line x1="58.40" y1="256.90" x2="58.40" y2="258.20" stroke="#333" stroke-width="0.4"/>
<text x="58.80" y="262.30" font-size="4.3" text-anchor="end" fill="#333" stroke="#444" stroke-width="0.12" transform="rotate(-45 58.80 262.30)">1980</text>
<line x1="64.86" y1="256.90" x2="64.86" y2="258.20" stroke="#333" stroke-width="0.4"/>
<text x="65.26" y="262.30" font-size="4.3" text-anchor="end" fill="#333" stroke="#444" stroke-width="0.12" transform="rotate(-45 65.26 262.30)">1985</text>
<line x1="71.32" y1="256.90" x2="71.32" y2="258.20" stroke="#333" stroke-width="0.4"/>
<text x="71.72" y="262.30" font-size="4.3" text-anchor="end" fill="#333" stroke="#444" stroke-width="0.12" transform="rotate(-45 71.72 262.30)">1990</text>
<line x1="77.78" y1="256.90" x2="77.78" y2="258.20" stroke="#333" stroke-width="0.4"/>
<text x="78.18" y="262.30" font-size="4.3" text-anchor="end" fill="#333" stroke="#444" stroke-width="0.12" transform="rotate(-45 78.18 262.30)">1995</text>
<line x1="84.24" y1="256.90" x2="84.24" y2="258.20" stroke="#333" stroke-width="0.4"/>
<text x="84.64" y="262.30" font-size="4.3" text-anchor="end" fill="#333" stroke="#444" stroke-width="0.12" transform="rotate(-45 84.64 262.30)">2000</text>
<line x1="90.70" y1="256.90" x2="90.70" y2="258.20" stroke="#333" stroke-width="0.4"/>
<text x="91.10" y="262.30" font-size="4.3" text-anchor="end" fill="#333" stroke="#444" stroke-width="0.12" transform="rotate(-45 91.10 262.30)">2005</text>
<line x1="97.16" y1="256.90" x2="97.16" y2="258.20" stroke="#333" stroke-width="0.4"/>
<text x="97.56" y="262.30" font-size="4.3" text-anchor="end" fill="#333" stroke="#444" stroke-width="0.12" transform="rotate(-45 97.56 262.30)">2010</text>
<line x1="103.62" y1="256.90" x2="103.62" y2="258.20" stroke="#333" stroke-width="0.4"/>
<text x="104.02" y="262.30" font-size="4.3" text-anchor="end" fill="#333" stroke="#444" stroke-width="0.12" transform="rotate(-45 104.02 262.30)">2015</text>
<rect x="123.80" y="186.30" width="63.80" height="8.60" fill="#D9D9D9"/>
<rect x="123.80" y="186.30" width="63.80" height="8.60" fill="none" stroke="#858585" stroke-width="0.5"/>
<text x="155.70" y="193.10" font-size="4.3" text-anchor="middle" fill="#111" stroke="#111" stroke-width="0.12">2016</text>
<rect x="123.80" y="194.90" width="63.80" height="62.60" fill="#ffffff"/>
<rect x="126.70" y="195.20" width="58.00" height="4.60" fill="#1E96DC"/>
<rect x="126.70" y="199.80" width="58.00" height="21.90" fill="#15AD5B"/>
<rect x="126.70" y="221.70" width="58.00" height="22.20" fill="#FFFF00"/>
<rect x="126.70" y="243.90" width="58.00" height="11.20" fill="#FF9900"/>
<rect x="126.70" y="255.10" width="58.00" height="2.40" fill="#FF4545"/>
<polyline points="126.4,230.1 127.2,222.5 127.2,227.6 128.0,220.9 128.9,225.1 129.7,216.7 130.6,229.3 132.2,227.6 133.1,224.2 133.9,214.2 134.8,229.3 135.6,209.1 136.4,225.9 137.3,225.1 137.3,241.9 138.1,233.5 139.8,238.5 144.0,225.1 144.8,232.6 145.7,235.1 147.3,241.9 148.2,236.8 149.0,218.3 149.9,237.7 150.7,236.0 151.5,214.2 153.2,220.0 154.1,206.6 158.3,241.9 159.1,240.2 161.6,233.5 163.3,228.4 164.1,234.3 164.1,239.3 165.0,230.9 166.7,231.8 167.5,237.7 170.0,238.5 171.7,237.7 173.4,219.2 174.2,245.2 175.9,238.5 176.7,246.9 180.1,239.3 180.9,237.7" fill="none" stroke="#222" stroke-width="0.4" stroke-dasharray="0.6,0.45"/>
<circle cx="126.4" cy="230.1" r="1.02" fill="#000"/>
<circle cx="127.2" cy="222.5" r="1.02" fill="#000"/>
<circle cx="128.0" cy="220.9" r="1.02" fill="#000"/>
<circle cx="128.9" cy="225.1" r="1.02" fill="#000"/>
<circle cx="127.2" cy="227.6" r="1.02" fill="#000"/>
<circle cx="129.7" cy="216.7" r="1.02" fill="#000"/>
<circle cx="130.6" cy="229.3" r="1.02" fill="#000"/>
<circle cx="132.2" cy="227.6" r="1.02" fill="#000"/>
<circle cx="133.1" cy="224.2" r="1.02" fill="#000"/>
<circle cx="133.9" cy="214.2" r="1.02" fill="#000"/>
<circle cx="134.8" cy="229.3" r="1.02" fill="#000"/>
<circle cx="135.6" cy="209.1" r="1.02" fill="#000"/>
<circle cx="136.4" cy="225.9" r="1.02" fill="#000"/>
<circle cx="137.3" cy="225.1" r="1.02" fill="#000"/>
<circle cx="138.1" cy="233.5" r="1.02" fill="#000"/>
<circle cx="137.3" cy="241.9" r="1.02" fill="#000"/>
<circle cx="139.8" cy="238.5" r="1.02" fill="#000"/>
<circle cx="144.0" cy="225.1" r="1.02" fill="#000"/>
<circle cx="144.8" cy="232.6" r="1.02" fill="#000"/>
<circle cx="145.7" cy="235.1" r="1.02" fill="#000"/>
<circle cx="147.3" cy="241.9" r="1.02" fill="#000"/>
<circle cx="148.2" cy="236.8" r="1.02" fill="#000"/>
<circle cx="149.0" cy="218.3" r="1.02" fill="#000"/>
<circle cx="149.9" cy="237.7" r="1.02" fill="#000"/>
<circle cx="150.7" cy="236.0" r="1.02" fill="#000"/>
<circle cx="151.5" cy="214.2" r="1.02" fill="#000"/>
<circle cx="153.2" cy="220.0" r="1.02" fill="#000"/>
<circle cx="154.1" cy="206.6" r="1.02" fill="#000"/>
<circle cx="158.3" cy="241.9" r="1.02" fill="#000"/>
<circle cx="159.1" cy="240.2" r="1.02" fill="#000"/>
<circle cx="161.6" cy="233.5" r="1.02" fill="#000"/>
<circle cx="163.3" cy="228.4" r="1.02" fill="#000"/>
<circle cx="164.1" cy="234.3" r="1.02" fill="#000"/>
<circle cx="165.0" cy="230.9" r="1.02" fill="#000"/>
<circle cx="166.7" cy="231.8" r="1.02" fill="#000"/>
<circle cx="164.1" cy="239.3" r="1.02" fill="#000"/>
<circle cx="167.5" cy="237.7" r="1.02" fill="#000"/>
<circle cx="170.0" cy="238.5" r="1.02" fill="#000"/>
<circle cx="171.7" cy="237.7" r="1.02" fill="#000"/>
<circle cx="173.4" cy="219.2" r="1.02" fill="#000"/>
<circle cx="175.9" cy="238.5" r="1.02" fill="#000"/>
<circle cx="174.2" cy="245.2" r="1.02" fill="#000"/>
<circle cx="176.7" cy="246.9" r="1.02" fill="#000"/>
<circle cx="180.1" cy="239.3" r="1.02" fill="#000"/>
<circle cx="180.9" cy="237.7" r="1.02" fill="#000"/>
<circle cx="131.4" cy="232.6" r="0.85" fill="#ff1a1a"/>
<circle cx="139.8" cy="243.5" r="0.85" fill="#ff1a1a"/>
<circle cx="149.9" cy="240.2" r="0.85" fill="#ff1a1a"/>
<circle cx="159.9" cy="243.5" r="0.85" fill="#ff1a1a"/>
<circle cx="170.0" cy="252.8" r="0.85" fill="#ff1a1a"/>
<circle cx="178.4" cy="246.1" r="0.85" fill="#ff1a1a"/>
<rect x="123.80" y="194.90" width="63.80" height="62.60" fill="none" stroke="#858585" stroke-width="0.5"/>
<line x1="122.50" y1="255.10" x2="123.80" y2="255.10" stroke="#333" stroke-width="0.4"/>
<text x="121.90" y="256.60" font-size="4.3" text-anchor="end" fill="#333" stroke="#444" stroke-width="0.12">1.0</text>
<line x1="122.50" y1="244.00" x2="123.80" y2="244.00" stroke="#333" stroke-width="0.4"/>
<text x="121.90" y="245.50" font-size="4.3" text-anchor="end" fill="#333" stroke="#444" stroke-width="0.12">1.5</text>
<line x1="122.50" y1="232.90" x2="123.80" y2="232.90" stroke="#333" stroke-width="0.4"/>
<text x="121.90" y="234.40" font-size="4.3" text-anchor="end" fill="#333" stroke="#444" stroke-width="0.12">2.0</text>
<line x1="122.50" y1="221.80" x2="123.80" y2="221.80" stroke="#333" stroke-width="0.4"/>
<text x="121.90" y="223.30" font-size="4.3" text-anchor="end" fill="#333" stroke="#444" stroke-width="0.12">2.5</text>
<line x1="122.50" y1="210.70" x2="123.80" y2="210.70" stroke="#333" stroke-width="0.4"/>
<text x="121.90" y="212.20" font-size="4.3" text-anchor="end" fill="#333" stroke="#444" stroke-width="0.12">3.0</text>
<line x1="122.50" y1="199.60" x2="123.80" y2="199.60" stroke="#333" stroke-width="0.4"/>
<text x="121.90" y="201.10" font-size="4.3" text-anchor="end" fill="#333" stroke="#444" stroke-width="0.12">3.5</text>
<line x1="127.30" y1="257.50" x2="127.30" y2="258.80" stroke="#333" stroke-width="0.4"/>
<text x="127.70" y="262.90" font-size="4.3" text-anchor="end" fill="#333" stroke="#444" stroke-width="0.12" transform="rotate(-45 127.70 262.90)">May</text>
<line x1="137.13" y1="257.50" x2="137.13" y2="258.80" stroke="#333" stroke-width="0.4"/>
<text x="137.53" y="262.90" font-size="4.3" text-anchor="end" fill="#333" stroke="#444" stroke-width="0.12" transform="rotate(-45 137.53 262.90)">Jun</text>
<line x1="146.97" y1="257.50" x2="146.97" y2="258.80" stroke="#333" stroke-width="0.4"/>
<text x="147.37" y="262.90" font-size="4.3" text-anchor="end" fill="#333" stroke="#444" stroke-width="0.12" transform="rotate(-45 147.37 262.90)">Jul</text>
<line x1="156.80" y1="257.50" x2="156.80" y2="258.80" stroke="#333" stroke-width="0.4"/>
<text x="157.20" y="262.90" font-size="4.3" text-anchor="end" fill="#333" stroke="#444" stroke-width="0.12" transform="rotate(-45 157.20 262.90)">Aug</text>
<line x1="166.63" y1="257.50" x2="166.63" y2="258.80" stroke="#333" stroke-width="0.4"/>
<text x="167.03" y="262.90" font-size="4.3" text-anchor="end" fill="#333" stroke="#444" stroke-width="0.12" transform="rotate(-45 167.03 262.90)">Sep</text>
<line x1="176.47" y1="257.50" x2="176.47" y2="258.80" stroke="#333" stroke-width="0.4"/>
<text x="176.87" y="262.90" font-size="4.3" text-anchor="end" fill="#333" stroke="#444" stroke-width="0.12" transform="rotate(-45 176.87 262.90)">Oct</text>
<line x1="186.30" y1="257.50" x2="186.30" y2="258.80" stroke="#333" stroke-width="0.4"/>
<text x="186.70" y="262.90" font-size="4.3" text-anchor="end" fill="#333" stroke="#444" stroke-width="0.12" transform="rotate(-45 186.70 262.90)">Nov</text>
<rect x="190.40" y="186.30" width="63.80" height="8.60" fill="#D9D9D9"/>
<rect x="190.40" y="186.30" width="63.80" height="8.60" fill="none" stroke="#858585" stroke-width="0.5"/>
<text x="222.30" y="193.10" font-size="4.3" text-anchor="middle" fill="#111" stroke="#111" stroke-width="0.12">2017</text>
<rect x="190.40" y="194.90" width="63.80" height="62.60" fill="#ffffff"/>
<rect x="193.30" y="195.20" width="58.00" height="4.60" fill="#1E96DC"/>
<rect x="193.30" y="199.80" width="58.00" height="21.90" fill="#15AD5B"/>
<rect x="193.30" y="221.70" width="58.00" height="22.20" fill="#FFFF00"/>
<rect x="193.30" y="243.90" width="58.00" height="11.20" fill="#FF9900"/>
<rect x="193.30" y="255.10" width="58.00" height="2.40" fill="#FF4545"/>
<polyline points="193.4,244.4 195.0,246.1 196.7,241.9 198.4,229.3 199.2,238.5 200.9,236.8 202.6,236.8 204.3,241.9 206.0,234.3 206.8,241.0 207.6,230.1 208.5,245.2 211.8,244.4 213.5,242.7 215.2,239.3 216.9,241.0 218.5,242.7 219.4,238.5 221.1,233.5 221.9,215.0 222.7,239.3 224.4,242.7 225.3,226.7 226.1,240.2 226.9,237.7 230.3,239.3 232.0,241.9 233.7,243.5 237.9,239.3 238.7,236.0 240.4,230.1 245.4,242.7 247.9,234.3 248.8,239.3" fill="none" stroke="#222" stroke-width="0.4" stroke-dasharray="0.6,0.45"/>
<circle cx="193.4" cy="244.4" r="1.02" fill="#000"/>
<circle cx="195.0" cy="246.1" r="1.02" fill="#000"/>
<circle cx="196.7" cy="241.9" r="1.02" fill="#000"/>
<circle cx="198.4" cy="229.3" r="1.02" fill="#000"/>
<circle cx="199.2" cy="238.5" r="1.02" fill="#000"/>
<circle cx="200.9" cy="236.8" r="1.02" fill="#000"/>
<circle cx="202.6" cy="236.8" r="1.02" fill="#000"/>
<circle cx="204.3" cy="241.9" r="1.02" fill="#000"/>
<circle cx="206.0" cy="234.3" r="1.02" fill="#000"/>
<circle cx="206.8" cy="241.0" r="1.02" fill="#000"/>
<circle cx="207.6" cy="230.1" r="1.02" fill="#000"/>
<circle cx="208.5" cy="245.2" r="1.02" fill="#000"/>
<circle cx="211.8" cy="244.4" r="1.02" fill="#000"/>
<circle cx="213.5" cy="242.7" r="1.02" fill="#000"/>
<circle cx="215.2" cy="239.3" r="1.02" fill="#000"/>
<circle cx="216.9" cy="241.0" r="1.02" fill="#000"/>
<circle cx="218.5" cy="242.7" r="1.02" fill="#000"/>
<circle cx="219.4" cy="238.5" r="1.02" fill="#000"/>
<circle cx="221.1" cy="233.5" r="1.02" fill="#000"/>
<circle cx="221.9" cy="215.0" r="1.02" fill="#000"/>
<circle cx="222.7" cy="239.3" r="1.02" fill="#000"/>
<circle cx="224.4" cy="242.7" r="1.02" fill="#000"/>
<circle cx="225.3" cy="226.7" r="1.02" fill="#000"/>
<circle cx="226.1" cy="240.2" r="1.02" fill="#000"/>
<circle cx="226.9" cy="237.7" r="1.02" fill="#000"/>
<circle cx="230.3" cy="239.3" r="1.02" fill="#000"/>
<circle cx="232.0" cy="241.9" r="1.02" fill="#000"/>
<circle cx="233.7" cy="243.5" r="1.02" fill="#000"/>
<circle cx="237.9" cy="239.3" r="1.02" fill="#000"/>
<circle cx="238.7" cy="236.0" r="1.02" fill="#000"/>
<circle cx="240.4" cy="230.1" r="1.02" fill="#000"/>
<circle cx="245.4" cy="242.7" r="1.02" fill="#000"/>
<circle cx="247.9" cy="234.3" r="1.02" fill="#000"/>
<circle cx="248.8" cy="239.3" r="1.02" fill="#000"/>
<circle cx="197.6" cy="237.7" r="0.85" fill="#ff1a1a"/>
<circle cx="207.6" cy="243.5" r="0.85" fill="#ff1a1a"/>
<circle cx="216.0" cy="244.4" r="0.85" fill="#ff1a1a"/>
<circle cx="225.3" cy="236.8" r="0.85" fill="#ff1a1a"/>
<circle cx="240.4" cy="241.9" r="0.85" fill="#ff1a1a"/>
<circle cx="248.8" cy="246.1" r="0.85" fill="#ff1a1a"/>
<rect x="190.40" y="194.90" width="63.80" height="62.60" fill="none" stroke="#858585" stroke-width="0.5"/>
<line x1="193.90" y1="257.50" x2="193.90" y2="258.80" stroke="#333" stroke-width="0.4"/>
<text x="194.30" y="262.90" font-size="4.3" text-anchor="end" fill="#333" stroke="#444" stroke-width="0.12" transform="rotate(-45 194.30 262.90)">May</text>
<line x1="203.73" y1="257.50" x2="203.73" y2="258.80" stroke="#333" stroke-width="0.4"/>
<text x="204.13" y="262.90" font-size="4.3" text-anchor="end" fill="#333" stroke="#444" stroke-width="0.12" transform="rotate(-45 204.13 262.90)">Jun</text>
<line x1="213.57" y1="257.50" x2="213.57" y2="258.80" stroke="#333" stroke-width="0.4"/>
<text x="213.97" y="262.90" font-size="4.3" text-anchor="end" fill="#333" stroke="#444" stroke-width="0.12" transform="rotate(-45 213.97 262.90)">Jul</text>
<line x1="223.40" y1="257.50" x2="223.40" y2="258.80" stroke="#333" stroke-width="0.4"/>
<text x="223.80" y="262.90" font-size="4.3" text-anchor="end" fill="#333" stroke="#444" stroke-width="0.12" transform="rotate(-45 223.80 262.90)">Aug</text>
<line x1="233.23" y1="257.50" x2="233.23" y2="258.80" stroke="#333" stroke-width="0.4"/>
<text x="233.63" y="262.90" font-size="4.3" text-anchor="end" fill="#333" stroke="#444" stroke-width="0.12" transform="rotate(-45 233.63 262.90)">Sep</text>
<line x1="243.07" y1="257.50" x2="243.07" y2="258.80" stroke="#333" stroke-width="0.4"/>
<text x="243.47" y="262.90" font-size="4.3" text-anchor="end" fill="#333" stroke="#444" stroke-width="0.12" transform="rotate(-45 243.47 262.90)">Oct</text>
<line x1="252.90" y1="257.50" x2="252.90" y2="258.80" stroke="#333" stroke-width="0.4"/>
<text x="253.30" y="262.90" font-size="4.3" text-anchor="end" fill="#333" stroke="#444" stroke-width="0.12" transform="rotate(-45 253.30 262.90)">Nov</text>
<rect x="257.00" y="186.30" width="63.80" height="8.60" fill="#D9D9D9"/>
<rect x="257.00" y="186.30" width="63.80" height="8.60" fill="none" stroke="#858585" stroke-width="0.5"/>
<text x="288.90" y="193.10" font-size="4.3" text-anchor="middle" fill="#111" stroke="#111" stroke-width="0.12">2018</text>
<rect x="257.00" y="194.90" width="63.80" height="62.60" fill="#ffffff"/>
<rect x="259.90" y="195.20" width="58.00" height="4.60" fill="#1E96DC"/>
<rect x="259.90" y="199.80" width="58.00" height="21.90" fill="#15AD5B"/>
<rect x="259.90" y="221.70" width="58.00" height="22.20" fill="#FFFF00"/>
<rect x="259.90" y="243.90" width="58.00" height="11.20" fill="#FF9900"/>
<rect x="259.90" y="255.10" width="58.00" height="2.40" fill="#FF4545"/>
<polyline points="261.0,231.8 261.9,234.3 262.7,237.7 263.6,240.2 264.4,252.0 265.2,221.7 266.1,237.7 266.9,224.2 267.8,231.8 268.6,229.3 268.6,243.5 269.4,237.7 271.1,245.2 272.0,247.7 272.8,234.3 273.6,242.7 276.2,247.7 277.0,246.9 277.8,227.6 278.7,240.2 283.7,234.3 284.5,230.9 286.2,198.2 287.1,230.1 289.6,241.0 290.4,230.1 291.3,242.7 292.1,243.5 294.6,238.5 295.5,243.5 296.3,246.1 297.1,241.9 299.7,225.9 303.0,248.6 303.9,243.5 304.7,234.3 306.4,247.7 308.1,243.5 311.4,223.4 313.1,232.6 313.9,234.3 314.8,238.5 316.5,244.4 317.3,247.7" fill="none" stroke="#222" stroke-width="0.4" stroke-dasharray="0.6,0.45"/>
<circle cx="261.0" cy="231.8" r="1.02" fill="#000"/>
<circle cx="261.9" cy="234.3" r="1.02" fill="#000"/>
<circle cx="262.7" cy="237.7" r="1.02" fill="#000"/>
<circle cx="263.6" cy="240.2" r="1.02" fill="#000"/>
<circle cx="264.4" cy="252.0" r="1.02" fill="#000"/>
<circle cx="265.2" cy="221.7" r="1.02" fill="#000"/>
<circle cx="266.1" cy="237.7" r="1.02" fill="#000"/>
<circle cx="266.9" cy="224.2" r="1.02" fill="#000"/>
<circle cx="267.8" cy="231.8" r="1.02" fill="#000"/>
<circle cx="268.6" cy="229.3" r="1.02" fill="#000"/>
<circle cx="269.4" cy="237.7" r="1.02" fill="#000"/>
<circle cx="268.6" cy="243.5" r="1.02" fill="#000"/>
<circle cx="271.1" cy="245.2" r="1.02" fill="#000"/>
<circle cx="272.0" cy="247.7" r="1.02" fill="#000"/>
<circle cx="272.8" cy="234.3" r="1.02" fill="#000"/>
<circle cx="273.6" cy="242.7" r="1.02" fill="#000"/>
<circle cx="276.2" cy="247.7" r="1.02" fill="#000"/>
<circle cx="277.0" cy="246.9" r="1.02" fill="#000"/>
<circle cx="277.8" cy="227.6" r="1.02" fill="#000"/>
<circle cx="278.7" cy="240.2" r="1.02" fill="#000"/>
<circle cx="283.7" cy="234.3" r="1.02" fill="#000"/>
<circle cx="284.5" cy="230.9" r="1.02" fill="#000"/>
<circle cx="286.2" cy="198.2" r="1.02" fill="#000"/>
<circle cx="287.1" cy="230.1" r="1.02" fill="#000"/>
<circle cx="289.6" cy="241.0" r="1.02" fill="#000"/>
<circle cx="290.4" cy="230.1" r="1.02" fill="#000"/>
<circle cx="291.3" cy="242.7" r="1.02" fill="#000"/>
<circle cx="292.1" cy="243.5" r="1.02" fill="#000"/>
<circle cx="294.6" cy="238.5" r="1.02" fill="#000"/>
<circle cx="295.5" cy="243.5" r="1.02" fill="#000"/>
<circle cx="296.3" cy="246.1" r="1.02" fill="#000"/>
<circle cx="297.1" cy="241.9" r="1.02" fill="#000"/>
<circle cx="299.7" cy="225.9" r="1.02" fill="#000"/>
<circle cx="303.0" cy="248.6" r="1.02" fill="#000"/>
<circle cx="303.9" cy="243.5" r="1.02" fill="#000"/>
<circle cx="304.7" cy="234.3" r="1.02" fill="#000"/>
<circle cx="306.4" cy="247.7" r="1.02" fill="#000"/>
<circle cx="308.1" cy="243.5" r="1.02" fill="#000"/>
<circle cx="311.4" cy="223.4" r="1.02" fill="#000"/>
<circle cx="313.1" cy="232.6" r="1.02" fill="#000"/>
<circle cx="313.9" cy="234.3" r="1.02" fill="#000"/>
<circle cx="314.8" cy="238.5" r="1.02" fill="#000"/>
<circle cx="316.5" cy="244.4" r="1.02" fill="#000"/>
<circle cx="317.3" cy="247.7" r="1.02" fill="#000"/>
<circle cx="264.4" cy="243.5" r="0.85" fill="#ff1a1a"/>
<circle cx="272.8" cy="232.6" r="0.85" fill="#ff1a1a"/>
<circle cx="282.0" cy="241.9" r="0.85" fill="#ff1a1a"/>
<circle cx="296.3" cy="252.8" r="0.85" fill="#ff1a1a"/>
<circle cx="304.7" cy="250.3" r="0.85" fill="#ff1a1a"/>
<circle cx="313.1" cy="233.5" r="0.85" fill="#ff1a1a"/>
<rect x="257.00" y="194.90" width="63.80" height="62.60" fill="none" stroke="#858585" stroke-width="0.5"/>
<line x1="260.50" y1="257.50" x2="260.50" y2="258.80" stroke="#333" stroke-width="0.4"/>
<text x="260.90" y="262.90" font-size="4.3" text-anchor="end" fill="#333" stroke="#444" stroke-width="0.12" transform="rotate(-45 260.90 262.90)">May</text>
<line x1="270.33" y1="257.50" x2="270.33" y2="258.80" stroke="#333" stroke-width="0.4"/>
<text x="270.73" y="262.90" font-size="4.3" text-anchor="end" fill="#333" stroke="#444" stroke-width="0.12" transform="rotate(-45 270.73 262.90)">Jun</text>
<line x1="280.17" y1="257.50" x2="280.17" y2="258.80" stroke="#333" stroke-width="0.4"/>
<text x="280.57" y="262.90" font-size="4.3" text-anchor="end" fill="#333" stroke="#444" stroke-width="0.12" transform="rotate(-45 280.57 262.90)">Jul</text>
<line x1="290.00" y1="257.50" x2="290.00" y2="258.80" stroke="#333" stroke-width="0.4"/>
<text x="290.40" y="262.90" font-size="4.3" text-anchor="end" fill="#333" stroke="#444" stroke-width="0.12" transform="rotate(-45 290.40 262.90)">Aug</text>
<line x1="299.83" y1="257.50" x2="299.83" y2="258.80" stroke="#333" stroke-width="0.4"/>
<text x="300.23" y="262.90" font-size="4.3" text-anchor="end" fill="#333" stroke="#444" stroke-width="0.12" transform="rotate(-45 300.23 262.90)">Sep</text>
<line x1="309.67" y1="257.50" x2="309.67" y2="258.80" stroke="#333" stroke-width="0.4"/>
<text x="310.07" y="262.90" font-size="4.3" text-anchor="end" fill="#333" stroke="#444" stroke-width="0.12" transform="rotate(-45 310.07 262.90)">Oct</text>
<line x1="319.50" y1="257.50" x2="319.50" y2="258.80" stroke="#333" stroke-width="0.4"/>
<text x="319.90" y="262.90" font-size="4.3" text-anchor="end" fill="#333" stroke="#444" stroke-width="0.12" transform="rotate(-45 319.90 262.90)">Nov</text>
<rect x="323.60" y="186.30" width="63.80" height="8.60" fill="#D9D9D9"/>
<rect x="323.60" y="186.30" width="63.80" height="8.60" fill="none" stroke="#858585" stroke-width="0.5"/>
<text x="355.50" y="193.10" font-size="4.3" text-anchor="middle" fill="#111" stroke="#111" stroke-width="0.12">2019</text>
<rect x="323.60" y="194.90" width="63.80" height="62.60" fill="#ffffff"/>
<rect x="326.50" y="195.20" width="58.00" height="4.60" fill="#1E96DC"/>
<rect x="326.50" y="199.80" width="58.00" height="21.90" fill="#15AD5B"/>
<rect x="326.50" y="221.70" width="58.00" height="22.20" fill="#FFFF00"/>
<rect x="326.50" y="243.90" width="58.00" height="11.20" fill="#FF9900"/>
<rect x="326.50" y="255.10" width="58.00" height="2.40" fill="#FF4545"/>
<polyline points="326.4,232.6 328.0,234.3 328.9,236.0 330.6,230.1 331.4,225.9 332.2,215.8 333.1,220.0 334.8,213.3 335.6,230.1 336.4,234.3 337.3,203.2 337.3,216.7 338.1,219.2 339.0,224.2 339.8,227.6 340.6,231.8 341.5,237.7 342.3,234.3 343.2,221.7 344.0,220.9 344.8,243.5 345.7,238.5 346.5,236.0 347.3,239.3 348.2,229.3 349.9,227.6 350.7,232.6 351.5,215.0 352.4,224.2 352.9,200.7 353.2,197.4 354.1,205.8 354.1,210.8 354.9,237.7 355.7,239.3 358.3,230.1 359.1,225.1 359.9,234.3 360.8,211.6 361.6,235.1 362.5,214.2 363.3,227.6 364.1,220.0 365.0,210.0 365.8,235.1 366.7,238.5 368.3,227.6 369.2,236.8 370.0,239.3 372.5,238.5 373.4,232.6 375.1,246.1 378.4,230.9 379.3,235.1 380.1,239.3 382.6,224.2 384.3,241.9" fill="none" stroke="#222" stroke-width="0.4" stroke-dasharray="0.6,0.45"/>
<circle cx="326.4" cy="232.6" r="1.02" fill="#000"/>
<circle cx="328.0" cy="234.3" r="1.02" fill="#000"/>
<circle cx="328.9" cy="236.0" r="1.02" fill="#000"/>
<circle cx="330.6" cy="230.1" r="1.02" fill="#000"/>
<circle cx="331.4" cy="225.9" r="1.02" fill="#000"/>
<circle cx="332.2" cy="215.8" r="1.02" fill="#000"/>
<circle cx="333.1" cy="220.0" r="1.02" fill="#000"/>
<circle cx="334.8" cy="213.3" r="1.02" fill="#000"/>
<circle cx="335.6" cy="230.1" r="1.02" fill="#000"/>
<circle cx="336.4" cy="234.3" r="1.02" fill="#000"/>
<circle cx="337.3" cy="216.7" r="1.02" fill="#000"/>
<circle cx="337.3" cy="203.2" r="1.02" fill="#000"/>
<circle cx="338.1" cy="219.2" r="1.02" fill="#000"/>
<circle cx="339.0" cy="224.2" r="1.02" fill="#000"/>
<circle cx="339.8" cy="227.6" r="1.02" fill="#000"/>
<circle cx="340.6" cy="231.8" r="1.02" fill="#000"/>
<circle cx="341.5" cy="237.7" r="1.02" fill="#000"/>
<circle cx="342.3" cy="234.3" r="1.02" fill="#000"/>
<circle cx="343.2" cy="221.7" r="1.02" fill="#000"/>
<circle cx="344.0" cy="220.9" r="1.02" fill="#000"/>
<circle cx="344.8" cy="243.5" r="1.02" fill="#000"/>
<circle cx="345.7" cy="238.5" r="1.02" fill="#000"/>
<circle cx="346.5" cy="236.0" r="1.02" fill="#000"/>
<circle cx="347.3" cy="239.3" r="1.02" fill="#000"/>
<circle cx="348.2" cy="229.3" r="1.02" fill="#000"/>
<circle cx="349.9" cy="227.6" r="1.02" fill="#000"/>
<circle cx="350.7" cy="232.6" r="1.02" fill="#000"/>
<circle cx="351.5" cy="215.0" r="1.02" fill="#000"/>
<circle cx="352.4" cy="224.2" r="1.02" fill="#000"/>
<circle cx="352.9" cy="200.7" r="1.02" fill="#000"/>
<circle cx="353.2" cy="197.4" r="1.02" fill="#000"/>
<circle cx="354.1" cy="205.8" r="1.02" fill="#000"/>
<circle cx="354.1" cy="210.8" r="1.02" fill="#000"/>
<circle cx="354.9" cy="237.7" r="1.02" fill="#000"/>
<circle cx="355.7" cy="239.3" r="1.02" fill="#000"/>
<circle cx="358.3" cy="230.1" r="1.02" fill="#000"/>
<circle cx="359.1" cy="225.1" r="1.02" fill="#000"/>
<circle cx="359.9" cy="234.3" r="1.02" fill="#000"/>
<circle cx="360.8" cy="211.6" r="1.02" fill="#000"/>
<circle cx="361.6" cy="235.1" r="1.02" fill="#000"/>
<circle cx="362.5" cy="214.2" r="1.02" fill="#000"/>
<circle cx="363.3" cy="227.6" r="1.02" fill="#000"/>
<circle cx="364.1" cy="220.0" r="1.02" fill="#000"/>
<circle cx="365.0" cy="210.0" r="1.02" fill="#000"/>
<circle cx="365.8" cy="235.1" r="1.02" fill="#000"/>
<circle cx="366.7" cy="238.5" r="1.02" fill="#000"/>
<circle cx="368.3" cy="227.6" r="1.02" fill="#000"/>
<circle cx="369.2" cy="236.8" r="1.02" fill="#000"/>
<circle cx="370.0" cy="239.3" r="1.02" fill="#000"/>
<circle cx="372.5" cy="238.5" r="1.02" fill="#000"/>
<circle cx="373.4" cy="232.6" r="1.02" fill="#000"/>
<circle cx="375.1" cy="246.1" r="1.02" fill="#000"/>
<circle cx="378.4" cy="230.9" r="1.02" fill="#000"/>
<circle cx="379.3" cy="235.1" r="1.02" fill="#000"/>
<circle cx="380.1" cy="239.3" r="1.02" fill="#000"/>
<circle cx="382.6" cy="224.2" r="1.02" fill="#000"/>
<circle cx="384.3" cy="241.9" r="1.02" fill="#000"/>
<circle cx="331.4" cy="208.8" r="0.85" fill="#ff1a1a"/>
<circle cx="332.2" cy="230.1" r="0.85" fill="#ff1a1a"/>
<circle cx="350.7" cy="241.9" r="0.85" fill="#ff1a1a"/>
<circle cx="359.1" cy="235.1" r="0.85" fill="#ff1a1a"/>
<circle cx="370.9" cy="243.5" r="0.85" fill="#ff1a1a"/>
<circle cx="380.1" cy="246.1" r="0.85" fill="#ff1a1a"/>
<rect x="323.60" y="194.90" width="63.80" height="62.60" fill="none" stroke="#858585" stroke-width="0.5"/>
<line x1="327.10" y1="257.50" x2="327.10" y2="258.80" stroke="#333" stroke-width="0.4"/>
<text x="327.50" y="262.90" font-size="4.3" text-anchor="end" fill="#333" stroke="#444" stroke-width="0.12" transform="rotate(-45 327.50 262.90)">May</text>
<line x1="336.93" y1="257.50" x2="336.93" y2="258.80" stroke="#333" stroke-width="0.4"/>
<text x="337.33" y="262.90" font-size="4.3" text-anchor="end" fill="#333" stroke="#444" stroke-width="0.12" transform="rotate(-45 337.33 262.90)">Jun</text>
<line x1="346.77" y1="257.50" x2="346.77" y2="258.80" stroke="#333" stroke-width="0.4"/>
<text x="347.17" y="262.90" font-size="4.3" text-anchor="end" fill="#333" stroke="#444" stroke-width="0.12" transform="rotate(-45 347.17 262.90)">Jul</text>
<line x1="356.60" y1="257.50" x2="356.60" y2="258.80" stroke="#333" stroke-width="0.4"/>
<text x="357.00" y="262.90" font-size="4.3" text-anchor="end" fill="#333" stroke="#444" stroke-width="0.12" transform="rotate(-45 357.00 262.90)">Aug</text>
<line x1="366.43" y1="257.50" x2="366.43" y2="258.80" stroke="#333" stroke-width="0.4"/>
<text x="366.83" y="262.90" font-size="4.3" text-anchor="end" fill="#333" stroke="#444" stroke-width="0.12" transform="rotate(-45 366.83 262.90)">Sep</text>
<line x1="376.27" y1="257.50" x2="376.27" y2="258.80" stroke="#333" stroke-width="0.4"/>
<text x="376.67" y="262.90" font-size="4.3" text-anchor="end" fill="#333" stroke="#444" stroke-width="0.12" transform="rotate(-45 376.67 262.90)">Oct</text>
<line x1="386.10" y1="257.50" x2="386.10" y2="258.80" stroke="#333" stroke-width="0.4"/>
<text x="386.50" y="262.90" font-size="4.3" text-anchor="end" fill="#333" stroke="#444" stroke-width="0.12" transform="rotate(-45 386.50 262.90)">Nov</text>
<text x="8.0" y="226.0" font-size="5.0" text-anchor="middle" fill="#000" stroke="#000" stroke-width="0.08" transform="rotate(-90 8.0 226.0)">SDD m</text>
<rect x="22.60" y="295.50" width="86.80" height="8.50" fill="#D9D9D9"/>
<rect x="22.60" y="295.50" width="86.80" height="8.50" fill="none" stroke="#858585" stroke-width="0.5"/>
<text x="66.00" y="302.25" font-size="4.3" text-anchor="middle" fill="#111" stroke="#111" stroke-width="0.12">1961-2019</text>
<rect x="22.60" y="304.00" width="86.80" height="56.20" fill="#ffffff"/>
<rect x="26.00" y="304.40" width="79.30" height="36.70" fill="#FF4545"/>
<rect x="26.00" y="341.10" width="79.30" height="8.50" fill="#FF9900"/>
<rect x="26.00" y="349.60" width="79.30" height="6.40" fill="#FFFF00"/>
<rect x="26.00" y="356.00" width="79.30" height="2.20" fill="#15AD5B"/>
<rect x="26.00" y="358.20" width="79.30" height="2.00" fill="#1E96DC"/>
<line x1="82.3" y1="307.0" x2="82.3" y2="349.0" stroke="#222" stroke-width="0.35" stroke-dasharray="0.7,0.5"/>
<line x1="70.3" y1="315.6" x2="70.3" y2="345.0" stroke="#222" stroke-width="0.35" stroke-dasharray="0.7,0.5"/>
<line x1="94.3" y1="320.7" x2="94.3" y2="350.0" stroke="#222" stroke-width="0.35" stroke-dasharray="0.7,0.5"/>
<line x1="81.7" y1="321.3" x2="81.7" y2="348.0" stroke="#222" stroke-width="0.35" stroke-dasharray="0.7,0.5"/>
<line x1="104.7" y1="324.8" x2="104.7" y2="350.0" stroke="#222" stroke-width="0.35" stroke-dasharray="0.7,0.5"/>
<line x1="46.9" y1="323.6" x2="46.9" y2="330.0" stroke="#222" stroke-width="0.35" stroke-dasharray="0.7,0.5"/>
<circle cx="46.9" cy="323.6" r="1.02" fill="#000"/>
<circle cx="30.3" cy="352.0" r="1.02" fill="#000"/>
<circle cx="63.5" cy="331.6" r="1.02" fill="#000"/>
<circle cx="59.5" cy="336.2" r="1.02" fill="#000"/>
<circle cx="64.7" cy="337.4" r="1.02" fill="#000"/>
<circle cx="68.1" cy="339.6" r="1.02" fill="#000"/>
<circle cx="60.6" cy="341.9" r="1.02" fill="#000"/>
<circle cx="62.9" cy="344.2" r="1.02" fill="#000"/>
<circle cx="58.9" cy="348.2" r="1.02" fill="#000"/>
<circle cx="61.8" cy="347.1" r="1.02" fill="#000"/>
<circle cx="60.6" cy="349.4" r="1.02" fill="#000"/>
<circle cx="63.5" cy="350.0" r="1.02" fill="#000"/>
<circle cx="60.1" cy="352.2" r="1.02" fill="#000"/>
<circle cx="59.5" cy="355.7" r="1.02" fill="#000"/>
<circle cx="63.5" cy="356.2" r="1.02" fill="#000"/>
<circle cx="82.3" cy="307.0" r="1.02" fill="#000"/>
<circle cx="70.3" cy="315.6" r="1.02" fill="#000"/>
<circle cx="69.7" cy="320.2" r="1.02" fill="#000"/>
<circle cx="72.0" cy="324.2" r="1.02" fill="#000"/>
<circle cx="81.7" cy="321.3" r="1.02" fill="#000"/>
<circle cx="94.3" cy="320.7" r="1.02" fill="#000"/>
<circle cx="78.3" cy="327.0" r="1.02" fill="#000"/>
<circle cx="84.0" cy="327.0" r="1.02" fill="#000"/>
<circle cx="90.3" cy="325.3" r="1.02" fill="#000"/>
<circle cx="98.9" cy="328.8" r="1.02" fill="#000"/>
<circle cx="104.7" cy="324.8" r="1.02" fill="#000"/>
<circle cx="104.7" cy="330.5" r="1.02" fill="#000"/>
<circle cx="62.2" cy="344.0" r="1.02" fill="#000"/>
<circle cx="59.8" cy="352.9" r="1.02" fill="#000"/>
<circle cx="64.4" cy="350.0" r="1.02" fill="#000"/>
<circle cx="64.1" cy="346.0" r="1.02" fill="#000"/>
<circle cx="66.0" cy="348.5" r="1.02" fill="#000"/>
<circle cx="66.6" cy="349.6" r="1.02" fill="#000"/>
<circle cx="67.2" cy="346.7" r="1.02" fill="#000"/>
<circle cx="59.7" cy="342.9" r="1.02" fill="#000"/>
<circle cx="66.0" cy="343.2" r="1.02" fill="#000"/>
<circle cx="65.2" cy="349.1" r="1.02" fill="#000"/>
<circle cx="58.7" cy="351.2" r="1.02" fill="#000"/>
<circle cx="58.4" cy="352.3" r="1.02" fill="#000"/>
<circle cx="67.3" cy="343.8" r="1.02" fill="#000"/>
<circle cx="66.0" cy="350.5" r="1.02" fill="#000"/>
<circle cx="59.4" cy="349.7" r="1.02" fill="#000"/>
<circle cx="59.4" cy="352.9" r="1.02" fill="#000"/>
<circle cx="65.6" cy="353.7" r="1.02" fill="#000"/>
<circle cx="58.6" cy="345.1" r="1.02" fill="#000"/>
<circle cx="64.8" cy="348.9" r="1.02" fill="#000"/>
<circle cx="60.0" cy="352.5" r="1.02" fill="#000"/>
<circle cx="67.3" cy="344.9" r="1.02" fill="#000"/>
<circle cx="59.6" cy="349.7" r="1.02" fill="#000"/>
<circle cx="62.5" cy="349.6" r="1.02" fill="#000"/>
<circle cx="63.4" cy="346.1" r="1.02" fill="#000"/>
<circle cx="58.2" cy="342.8" r="1.02" fill="#000"/>
<circle cx="90.3" cy="330.8" r="1.02" fill="#000"/>
<circle cx="75.3" cy="332.8" r="1.02" fill="#000"/>
<circle cx="94.3" cy="337.5" r="1.02" fill="#000"/>
<circle cx="100.8" cy="331.4" r="1.02" fill="#000"/>
<circle cx="81.4" cy="330.8" r="1.02" fill="#000"/>
<circle cx="73.0" cy="335.7" r="1.02" fill="#000"/>
<circle cx="65.1" cy="332.5" r="1.02" fill="#000"/>
<circle cx="90.8" cy="336.1" r="1.02" fill="#000"/>
<circle cx="73.1" cy="336.6" r="1.02" fill="#000"/>
<circle cx="97.3" cy="330.6" r="1.02" fill="#000"/>
<circle cx="97.2" cy="337.7" r="1.02" fill="#000"/>
<circle cx="78.0" cy="332.1" r="1.02" fill="#000"/>
<circle cx="103.4" cy="334.0" r="1.02" fill="#000"/>
<circle cx="67.8" cy="331.5" r="1.02" fill="#000"/>
<circle cx="98.9" cy="336.7" r="1.02" fill="#000"/>
<circle cx="97.3" cy="338.0" r="1.02" fill="#000"/>
<circle cx="86.1" cy="340.5" r="1.02" fill="#000"/>
<circle cx="79.6" cy="336.2" r="1.02" fill="#000"/>
<circle cx="98.2" cy="336.9" r="1.02" fill="#000"/>
<circle cx="99.5" cy="336.4" r="1.02" fill="#000"/>
<circle cx="93.0" cy="331.0" r="1.02" fill="#000"/>
<circle cx="73.4" cy="333.5" r="1.02" fill="#000"/>
<circle cx="67.3" cy="332.9" r="1.02" fill="#000"/>
<circle cx="68.2" cy="333.4" r="1.02" fill="#000"/>
<circle cx="90.2" cy="334.3" r="1.02" fill="#000"/>
<circle cx="79.3" cy="332.7" r="1.02" fill="#000"/>
<circle cx="75.0" cy="340.1" r="1.02" fill="#000"/>
<circle cx="90.7" cy="336.8" r="1.02" fill="#000"/>
<circle cx="71.1" cy="338.0" r="1.02" fill="#000"/>
<circle cx="70.7" cy="334.4" r="1.02" fill="#000"/>
<circle cx="104.8" cy="337.1" r="1.02" fill="#000"/>
<circle cx="86.9" cy="337.6" r="1.02" fill="#000"/>
<circle cx="98.7" cy="338.5" r="1.02" fill="#000"/>
<circle cx="73.4" cy="330.8" r="1.02" fill="#000"/>
<circle cx="77.0" cy="333.3" r="1.02" fill="#000"/>
<circle cx="72.7" cy="340.2" r="1.02" fill="#000"/>
<circle cx="100.1" cy="333.7" r="1.02" fill="#000"/>
<circle cx="91.0" cy="334.6" r="1.02" fill="#000"/>
<circle cx="101.7" cy="335.2" r="1.02" fill="#000"/>
<circle cx="74.9" cy="333.0" r="1.02" fill="#000"/>
<circle cx="65.6" cy="350.3" r="1.02" fill="#000"/>
<circle cx="69.9" cy="347.1" r="1.02" fill="#000"/>
<circle cx="91.7" cy="351.7" r="1.02" fill="#000"/>
<circle cx="82.7" cy="347.6" r="1.02" fill="#000"/>
<circle cx="64.8" cy="346.7" r="1.02" fill="#000"/>
<circle cx="79.3" cy="352.5" r="1.02" fill="#000"/>
<circle cx="86.5" cy="351.1" r="1.02" fill="#000"/>
<circle cx="81.9" cy="343.2" r="1.02" fill="#000"/>
<circle cx="99.1" cy="352.0" r="1.02" fill="#000"/>
<circle cx="79.5" cy="342.1" r="1.02" fill="#000"/>
<circle cx="85.1" cy="347.6" r="1.02" fill="#000"/>
<circle cx="95.8" cy="349.0" r="1.02" fill="#000"/>
<circle cx="84.9" cy="348.7" r="1.02" fill="#000"/>
<circle cx="79.5" cy="341.5" r="1.02" fill="#000"/>
<circle cx="66.5" cy="353.7" r="1.02" fill="#000"/>
<circle cx="98.6" cy="344.9" r="1.02" fill="#000"/>
<circle cx="100.6" cy="348.0" r="1.02" fill="#000"/>
<circle cx="68.2" cy="352.5" r="1.02" fill="#000"/>
<circle cx="88.1" cy="353.6" r="1.02" fill="#000"/>
<circle cx="92.0" cy="342.1" r="1.02" fill="#000"/>
<circle cx="89.7" cy="351.6" r="1.02" fill="#000"/>
<circle cx="101.0" cy="345.3" r="1.02" fill="#000"/>
<circle cx="85.8" cy="350.4" r="1.02" fill="#000"/>
<circle cx="70.9" cy="352.4" r="1.02" fill="#000"/>
<circle cx="96.2" cy="341.5" r="1.02" fill="#000"/>
<circle cx="88.4" cy="345.8" r="1.02" fill="#000"/>
<circle cx="71.7" cy="349.1" r="1.02" fill="#000"/>
<circle cx="103.9" cy="348.4" r="1.02" fill="#000"/>
<circle cx="68.7" cy="347.6" r="1.02" fill="#000"/>
<circle cx="96.1" cy="353.9" r="1.02" fill="#000"/>
<circle cx="93.5" cy="341.4" r="1.02" fill="#000"/>
<circle cx="103.8" cy="349.0" r="1.02" fill="#000"/>
<circle cx="67.4" cy="342.5" r="1.02" fill="#000"/>
<circle cx="67.6" cy="349.9" r="1.02" fill="#000"/>
<circle cx="70.3" cy="351.9" r="1.02" fill="#000"/>
<circle cx="68.5" cy="348.1" r="1.02" fill="#000"/>
<circle cx="82.3" cy="341.3" r="1.02" fill="#000"/>
<circle cx="64.1" cy="353.2" r="1.02" fill="#000"/>
<circle cx="104.2" cy="342.5" r="1.02" fill="#000"/>
<circle cx="94.3" cy="354.4" r="1.02" fill="#000"/>
<circle cx="101.2" cy="352.9" r="1.02" fill="#000"/>
<circle cx="77.9" cy="350.6" r="1.02" fill="#000"/>
<circle cx="84.5" cy="353.6" r="1.02" fill="#000"/>
<circle cx="93.0" cy="352.4" r="1.02" fill="#000"/>
<circle cx="99.3" cy="346.1" r="1.02" fill="#000"/>
<circle cx="93.3" cy="342.1" r="1.02" fill="#000"/>
<circle cx="72.5" cy="353.6" r="1.02" fill="#000"/>
<circle cx="80.7" cy="350.2" r="1.02" fill="#000"/>
<circle cx="87.7" cy="344.4" r="1.02" fill="#000"/>
<circle cx="88.2" cy="353.3" r="1.02" fill="#000"/>
<circle cx="77.5" cy="345.6" r="1.02" fill="#000"/>
<circle cx="71.7" cy="343.2" r="1.02" fill="#000"/>
<circle cx="98.1" cy="350.5" r="1.02" fill="#000"/>
<circle cx="103.8" cy="350.0" r="1.02" fill="#000"/>
<circle cx="103.5" cy="343.8" r="1.02" fill="#000"/>
<circle cx="71.7" cy="343.8" r="1.02" fill="#000"/>
<circle cx="79.8" cy="354.4" r="1.02" fill="#000"/>
<circle cx="73.3" cy="347.1" r="1.02" fill="#000"/>
<circle cx="66.5" cy="341.2" r="1.02" fill="#000"/>
<circle cx="86.5" cy="349.2" r="1.02" fill="#000"/>
<circle cx="85.0" cy="353.3" r="1.02" fill="#000"/>
<circle cx="99.5" cy="353.8" r="1.02" fill="#000"/>
<circle cx="87.9" cy="344.4" r="1.02" fill="#000"/>
<circle cx="69.4" cy="351.3" r="1.02" fill="#000"/>
<circle cx="70.4" cy="340.9" r="1.02" fill="#000"/>
<circle cx="92.8" cy="342.5" r="1.02" fill="#000"/>
<circle cx="89.6" cy="343.6" r="1.02" fill="#000"/>
<circle cx="81.5" cy="341.0" r="1.02" fill="#000"/>
<circle cx="79.5" cy="345.3" r="1.02" fill="#000"/>
<circle cx="74.8" cy="342.6" r="1.02" fill="#000"/>
<circle cx="87.7" cy="350.3" r="1.02" fill="#000"/>
<circle cx="72.2" cy="341.4" r="1.02" fill="#000"/>
<circle cx="75.1" cy="350.4" r="1.02" fill="#000"/>
<circle cx="75.3" cy="349.7" r="1.02" fill="#000"/>
<circle cx="67.0" cy="350.4" r="1.02" fill="#000"/>
<circle cx="69.9" cy="343.9" r="1.02" fill="#000"/>
<circle cx="94.1" cy="347.3" r="1.02" fill="#000"/>
<circle cx="90.4" cy="344.7" r="1.02" fill="#000"/>
<circle cx="91.5" cy="344.9" r="1.02" fill="#000"/>
<circle cx="83.8" cy="346.9" r="1.02" fill="#000"/>
<circle cx="101.6" cy="351.1" r="1.02" fill="#000"/>
<circle cx="86.6" cy="352.4" r="1.02" fill="#000"/>
<circle cx="89.1" cy="350.7" r="1.02" fill="#000"/>
<circle cx="85.3" cy="348.7" r="1.02" fill="#000"/>
<circle cx="72.8" cy="353.6" r="1.02" fill="#000"/>
<rect x="22.60" y="304.00" width="86.80" height="56.20" fill="none" stroke="#858585" stroke-width="0.5"/>
<line x1="21.30" y1="359.10" x2="22.60" y2="359.10" stroke="#333" stroke-width="0.4"/>
<text x="20.70" y="360.60" font-size="4.3" text-anchor="end" fill="#333" stroke="#444" stroke-width="0.12">0</text>
<line x1="21.30" y1="354.36" x2="22.60" y2="354.36" stroke="#333" stroke-width="0.4"/>
<text x="20.70" y="355.86" font-size="4.3" text-anchor="end" fill="#333" stroke="#444" stroke-width="0.12">10</text>
<line x1="21.30" y1="349.62" x2="22.60" y2="349.62" stroke="#333" stroke-width="0.4"/>
<text x="20.70" y="351.12" font-size="4.3" text-anchor="end" fill="#333" stroke="#444" stroke-width="0.12">20</text>
<line x1="21.30" y1="344.88" x2="22.60" y2="344.88" stroke="#333" stroke-width="0.4"/>
<text x="20.70" y="346.38" font-size="4.3" text-anchor="end" fill="#333" stroke="#444" stroke-width="0.12">30</text>
<line x1="21.30" y1="340.14" x2="22.60" y2="340.14" stroke="#333" stroke-width="0.4"/>
<text x="20.70" y="341.64" font-size="4.3" text-anchor="end" fill="#333" stroke="#444" stroke-width="0.12">40</text>
<line x1="21.30" y1="335.40" x2="22.60" y2="335.40" stroke="#333" stroke-width="0.4"/>
<text x="20.70" y="336.90" font-size="4.3" text-anchor="end" fill="#333" stroke="#444" stroke-width="0.12">50</text>
<line x1="21.30" y1="330.66" x2="22.60" y2="330.66" stroke="#333" stroke-width="0.4"/>
<text x="20.70" y="332.16" font-size="4.3" text-anchor="end" fill="#333" stroke="#444" stroke-width="0.12">60</text>
<line x1="21.30" y1="325.92" x2="22.60" y2="325.92" stroke="#333" stroke-width="0.4"/>
<text x="20.70" y="327.42" font-size="4.3" text-anchor="end" fill="#333" stroke="#444" stroke-width="0.12">70</text>
<line x1="21.30" y1="321.18" x2="22.60" y2="321.18" stroke="#333" stroke-width="0.4"/>
<text x="20.70" y="322.68" font-size="4.3" text-anchor="end" fill="#333" stroke="#444" stroke-width="0.12">80</text>
<line x1="21.30" y1="316.44" x2="22.60" y2="316.44" stroke="#333" stroke-width="0.4"/>
<text x="20.70" y="317.94" font-size="4.3" text-anchor="end" fill="#333" stroke="#444" stroke-width="0.12">90</text>
<line x1="21.30" y1="311.70" x2="22.60" y2="311.70" stroke="#333" stroke-width="0.4"/>
<text x="20.70" y="313.20" font-size="4.3" text-anchor="end" fill="#333" stroke="#444" stroke-width="0.12">100</text>
<line x1="21.30" y1="306.96" x2="22.60" y2="306.96" stroke="#333" stroke-width="0.4"/>
<text x="20.70" y="308.46" font-size="4.3" text-anchor="end" fill="#333" stroke="#444" stroke-width="0.12">110</text>
<line x1="32.90" y1="360.20" x2="32.90" y2="361.50" stroke="#333" stroke-width="0.4"/>
<text x="33.30" y="365.60" font-size="4.3" text-anchor="end" fill="#333" stroke="#444" stroke-width="0.12" transform="rotate(-45 33.30 365.60)">1963</text>
<line x1="40.62" y1="360.20" x2="40.62" y2="361.50" stroke="#333" stroke-width="0.4"/>
<text x="41.02" y="365.60" font-size="4.3" text-anchor="end" fill="#333" stroke="#444" stroke-width="0.12" transform="rotate(-45 41.02 365.60)">1969</text>
<line x1="48.34" y1="360.20" x2="48.34" y2="361.50" stroke="#333" stroke-width="0.4"/>
<text x="48.74" y="365.60" font-size="4.3" text-anchor="end" fill="#333" stroke="#444" stroke-width="0.12" transform="rotate(-45 48.74 365.60)">1975</text>
<line x1="56.06" y1="360.20" x2="56.06" y2="361.50" stroke="#333" stroke-width="0.4"/>
<text x="56.46" y="365.60" font-size="4.3" text-anchor="end" fill="#333" stroke="#444" stroke-width="0.12" transform="rotate(-45 56.46 365.60)">1981</text>
<line x1="63.78" y1="360.20" x2="63.78" y2="361.50" stroke="#333" stroke-width="0.4"/>
<text x="64.18" y="365.60" font-size="4.3" text-anchor="end" fill="#333" stroke="#444" stroke-width="0.12" transform="rotate(-45 64.18 365.60)">1987</text>
<line x1="71.50" y1="360.20" x2="71.50" y2="361.50" stroke="#333" stroke-width="0.4"/>
<text x="71.90" y="365.60" font-size="4.3" text-anchor="end" fill="#333" stroke="#444" stroke-width="0.12" transform="rotate(-45 71.90 365.60)">1993</text>
<line x1="79.22" y1="360.20" x2="79.22" y2="361.50" stroke="#333" stroke-width="0.4"/>
<text x="79.62" y="365.60" font-size="4.3" text-anchor="end" fill="#333" stroke="#444" stroke-width="0.12" transform="rotate(-45 79.62 365.60)">1999</text>
<line x1="86.94" y1="360.20" x2="86.94" y2="361.50" stroke="#333" stroke-width="0.4"/>
<text x="87.34" y="365.60" font-size="4.3" text-anchor="end" fill="#333" stroke="#444" stroke-width="0.12" transform="rotate(-45 87.34 365.60)">2005</text>
<line x1="94.66" y1="360.20" x2="94.66" y2="361.50" stroke="#333" stroke-width="0.4"/>
<text x="95.06" y="365.60" font-size="4.3" text-anchor="end" fill="#333" stroke="#444" stroke-width="0.12" transform="rotate(-45 95.06 365.60)">2011</text>
<line x1="102.38" y1="360.20" x2="102.38" y2="361.50" stroke="#333" stroke-width="0.4"/>
<text x="102.78" y="365.60" font-size="4.3" text-anchor="end" fill="#333" stroke="#444" stroke-width="0.12" transform="rotate(-45 102.78 365.60)">2017</text>
<rect x="121.40" y="295.50" width="64.12" height="8.50" fill="#D9D9D9"/>
<rect x="121.40" y="295.50" width="64.12" height="8.50" fill="none" stroke="#858585" stroke-width="0.5"/>
<text x="153.46" y="302.25" font-size="4.3" text-anchor="middle" fill="#111" stroke="#111" stroke-width="0.12">2016</text>
<rect x="121.40" y="304.00" width="64.12" height="57.80" fill="#ffffff"/>
<rect x="123.90" y="304.40" width="59.12" height="11.30" fill="#FF4545"/>
<rect x="123.90" y="315.70" width="59.12" height="24.30" fill="#FF9900"/>
<rect x="123.90" y="340.00" width="59.12" height="15.20" fill="#FFFF00"/>
<rect x="123.90" y="355.20" width="59.12" height="4.20" fill="#15AD5B"/>
<rect x="123.90" y="359.40" width="59.12" height="2.40" fill="#1E96DC"/>
<polyline points="124.4,349.2 126.0,350.0 127.7,350.9 128.6,344.1 131.9,347.0 133.6,348.3 135.3,352.5 136.1,331.5 138.6,332.4 139.5,354.2 142.0,345.0 142.8,339.1 144.5,333.2 144.5,340.8 147.9,340.8 152.1,350.0 153.7,329.9 156.3,334.1 158.8,338.3 159.6,332.4 160.5,345.0 162.1,339.1 163.8,343.3 164.7,345.0 166.3,329.9 167.2,339.1 168.0,337.4 171.4,340.8 172.2,348.3 178.9,348.3 181.5,350.9" fill="none" stroke="#222" stroke-width="0.4" stroke-dasharray="0.6,0.45"/>
<circle cx="124.4" cy="349.2" r="1.02" fill="#000"/>
<circle cx="126.0" cy="350.0" r="1.02" fill="#000"/>
<circle cx="127.7" cy="350.9" r="1.02" fill="#000"/>
<circle cx="128.6" cy="344.1" r="1.02" fill="#000"/>
<circle cx="131.9" cy="347.0" r="1.02" fill="#000"/>
<circle cx="133.6" cy="348.3" r="1.02" fill="#000"/>
<circle cx="135.3" cy="352.5" r="1.02" fill="#000"/>
<circle cx="136.1" cy="331.5" r="1.02" fill="#000"/>
<circle cx="138.6" cy="332.4" r="1.02" fill="#000"/>
<circle cx="139.5" cy="354.2" r="1.02" fill="#000"/>
<circle cx="142.0" cy="345.0" r="1.02" fill="#000"/>
<circle cx="142.8" cy="339.1" r="1.02" fill="#000"/>
<circle cx="144.5" cy="340.8" r="1.02" fill="#000"/>
<circle cx="144.5" cy="333.2" r="1.02" fill="#000"/>
<circle cx="147.9" cy="340.8" r="1.02" fill="#000"/>
<circle cx="152.1" cy="350.0" r="1.02" fill="#000"/>
<circle cx="153.7" cy="329.9" r="1.02" fill="#000"/>
<circle cx="156.3" cy="334.1" r="1.02" fill="#000"/>
<circle cx="158.8" cy="338.3" r="1.02" fill="#000"/>
<circle cx="159.6" cy="332.4" r="1.02" fill="#000"/>
<circle cx="160.5" cy="345.0" r="1.02" fill="#000"/>
<circle cx="162.1" cy="339.1" r="1.02" fill="#000"/>
<circle cx="163.8" cy="343.3" r="1.02" fill="#000"/>
<circle cx="164.7" cy="345.0" r="1.02" fill="#000"/>
<circle cx="166.3" cy="329.9" r="1.02" fill="#000"/>
<circle cx="167.2" cy="339.1" r="1.02" fill="#000"/>
<circle cx="168.0" cy="337.4" r="1.02" fill="#000"/>
<circle cx="171.4" cy="340.8" r="1.02" fill="#000"/>
<circle cx="172.2" cy="348.3" r="1.02" fill="#000"/>
<circle cx="178.9" cy="348.3" r="1.02" fill="#000"/>
<circle cx="181.5" cy="350.9" r="1.02" fill="#000"/>
<circle cx="167.5" cy="338.2" r="1.02" fill="#000"/>
<circle cx="154.0" cy="331.9" r="1.02" fill="#000"/>
<circle cx="157.6" cy="344.0" r="1.02" fill="#000"/>
<circle cx="168.8" cy="335.6" r="1.02" fill="#000"/>
<circle cx="159.9" cy="337.3" r="1.02" fill="#000"/>
<circle cx="168.6" cy="337.1" r="1.02" fill="#000"/>
<circle cx="130.2" cy="350.9" r="0.85" fill="#ff1a1a"/>
<circle cx="158.0" cy="338.3" r="0.85" fill="#ff1a1a"/>
<circle cx="168.0" cy="328.2" r="0.85" fill="#ff1a1a"/>
<rect x="121.40" y="304.00" width="64.12" height="57.80" fill="none" stroke="#858585" stroke-width="0.5"/>
<line x1="120.10" y1="356.70" x2="121.40" y2="356.70" stroke="#333" stroke-width="0.4"/>
<text x="119.50" y="358.20" font-size="4.3" text-anchor="end" fill="#333" stroke="#444" stroke-width="0.12">10</text>
<line x1="120.10" y1="350.40" x2="121.40" y2="350.40" stroke="#333" stroke-width="0.4"/>
<text x="119.50" y="351.90" font-size="4.3" text-anchor="end" fill="#333" stroke="#444" stroke-width="0.12">20</text>
<line x1="120.10" y1="344.10" x2="121.40" y2="344.10" stroke="#333" stroke-width="0.4"/>
<text x="119.50" y="345.60" font-size="4.3" text-anchor="end" fill="#333" stroke="#444" stroke-width="0.12">30</text>
<line x1="120.10" y1="337.80" x2="121.40" y2="337.80" stroke="#333" stroke-width="0.4"/>
<text x="119.50" y="339.30" font-size="4.3" text-anchor="end" fill="#333" stroke="#444" stroke-width="0.12">40</text>
<line x1="120.10" y1="331.50" x2="121.40" y2="331.50" stroke="#333" stroke-width="0.4"/>
<text x="119.50" y="333.00" font-size="4.3" text-anchor="end" fill="#333" stroke="#444" stroke-width="0.12">50</text>
<line x1="120.10" y1="325.20" x2="121.40" y2="325.20" stroke="#333" stroke-width="0.4"/>
<text x="119.50" y="326.70" font-size="4.3" text-anchor="end" fill="#333" stroke="#444" stroke-width="0.12">60</text>
<line x1="120.10" y1="318.90" x2="121.40" y2="318.90" stroke="#333" stroke-width="0.4"/>
<text x="119.50" y="320.40" font-size="4.3" text-anchor="end" fill="#333" stroke="#444" stroke-width="0.12">70</text>
<line x1="120.10" y1="312.60" x2="121.40" y2="312.60" stroke="#333" stroke-width="0.4"/>
<text x="119.50" y="314.10" font-size="4.3" text-anchor="end" fill="#333" stroke="#444" stroke-width="0.12">80</text>
<line x1="120.10" y1="306.30" x2="121.40" y2="306.30" stroke="#333" stroke-width="0.4"/>
<text x="119.50" y="307.80" font-size="4.3" text-anchor="end" fill="#333" stroke="#444" stroke-width="0.12">90</text>
<line x1="123.90" y1="361.80" x2="123.90" y2="363.10" stroke="#333" stroke-width="0.4"/>
<text x="124.30" y="367.20" font-size="4.3" text-anchor="end" fill="#333" stroke="#444" stroke-width="0.12" transform="rotate(-45 124.30 367.20)">May</text>
<line x1="133.92" y1="361.80" x2="133.92" y2="363.10" stroke="#333" stroke-width="0.4"/>
<text x="134.32" y="367.20" font-size="4.3" text-anchor="end" fill="#333" stroke="#444" stroke-width="0.12" transform="rotate(-45 134.32 367.20)">Jun</text>
<line x1="143.94" y1="361.80" x2="143.94" y2="363.10" stroke="#333" stroke-width="0.4"/>
<text x="144.34" y="367.20" font-size="4.3" text-anchor="end" fill="#333" stroke="#444" stroke-width="0.12" transform="rotate(-45 144.34 367.20)">Jul</text>
<line x1="153.96" y1="361.80" x2="153.96" y2="363.10" stroke="#333" stroke-width="0.4"/>
<text x="154.36" y="367.20" font-size="4.3" text-anchor="end" fill="#333" stroke="#444" stroke-width="0.12" transform="rotate(-45 154.36 367.20)">Aug</text>
<line x1="163.98" y1="361.80" x2="163.98" y2="363.10" stroke="#333" stroke-width="0.4"/>
<text x="164.38" y="367.20" font-size="4.3" text-anchor="end" fill="#333" stroke="#444" stroke-width="0.12" transform="rotate(-45 164.38 367.20)">Sep</text>
<line x1="174.00" y1="361.80" x2="174.00" y2="363.10" stroke="#333" stroke-width="0.4"/>
<text x="174.40" y="367.20" font-size="4.3" text-anchor="end" fill="#333" stroke="#444" stroke-width="0.12" transform="rotate(-45 174.40 367.20)">Oct</text>
<line x1="184.03" y1="361.80" x2="184.03" y2="363.10" stroke="#333" stroke-width="0.4"/>
<text x="184.43" y="367.20" font-size="4.3" text-anchor="end" fill="#333" stroke="#444" stroke-width="0.12" transform="rotate(-45 184.43 367.20)">Nov</text>
<rect x="188.32" y="295.50" width="64.12" height="8.50" fill="#D9D9D9"/>
<rect x="188.32" y="295.50" width="64.12" height="8.50" fill="none" stroke="#858585" stroke-width="0.5"/>
<text x="220.39" y="302.25" font-size="4.3" text-anchor="middle" fill="#111" stroke="#111" stroke-width="0.12">2017</text>
<rect x="188.32" y="304.00" width="64.12" height="57.80" fill="#ffffff"/>
<rect x="190.82" y="304.40" width="59.12" height="11.30" fill="#FF4545"/>
<rect x="190.82" y="315.70" width="59.12" height="24.30" fill="#FF9900"/>
<rect x="190.82" y="340.00" width="59.12" height="15.20" fill="#FFFF00"/>
<rect x="190.82" y="355.20" width="59.12" height="4.20" fill="#15AD5B"/>
<rect x="190.82" y="359.40" width="59.12" height="2.40" fill="#1E96DC"/>
<polyline points="192.2,346.7 193.0,343.3 194.7,345.0 198.9,350.9 200.6,347.5 202.3,350.0 204.0,352.5 204.8,356.7 205.6,339.1 207.3,353.4 211.5,338.3 213.2,336.6 215.7,349.2 217.4,342.5 218.2,338.3 219.9,337.4 222.4,335.7 223.3,343.3 224.9,324.8 226.6,346.7 230.0,338.3 234.2,333.2 235.0,353.4 237.5,348.3 238.4,350.0 241.7,351.7 245.1,352.5 246.8,351.7" fill="none" stroke="#222" stroke-width="0.4" stroke-dasharray="0.6,0.45"/>
<circle cx="192.2" cy="346.7" r="1.02" fill="#000"/>
<circle cx="193.0" cy="343.3" r="1.02" fill="#000"/>
<circle cx="194.7" cy="345.0" r="1.02" fill="#000"/>
<circle cx="198.9" cy="350.9" r="1.02" fill="#000"/>
<circle cx="200.6" cy="347.5" r="1.02" fill="#000"/>
<circle cx="202.3" cy="350.0" r="1.02" fill="#000"/>
<circle cx="204.0" cy="352.5" r="1.02" fill="#000"/>
<circle cx="204.8" cy="356.7" r="1.02" fill="#000"/>
<circle cx="205.6" cy="339.1" r="1.02" fill="#000"/>
<circle cx="207.3" cy="353.4" r="1.02" fill="#000"/>
<circle cx="211.5" cy="338.3" r="1.02" fill="#000"/>
<circle cx="213.2" cy="336.6" r="1.02" fill="#000"/>
<circle cx="215.7" cy="349.2" r="1.02" fill="#000"/>
<circle cx="217.4" cy="342.5" r="1.02" fill="#000"/>
<circle cx="218.2" cy="338.3" r="1.02" fill="#000"/>
<circle cx="219.9" cy="337.4" r="1.02" fill="#000"/>
<circle cx="222.4" cy="335.7" r="1.02" fill="#000"/>
<circle cx="223.3" cy="343.3" r="1.02" fill="#000"/>
<circle cx="224.9" cy="324.8" r="1.02" fill="#000"/>
<circle cx="226.6" cy="346.7" r="1.02" fill="#000"/>
<circle cx="230.0" cy="338.3" r="1.02" fill="#000"/>
<circle cx="234.2" cy="333.2" r="1.02" fill="#000"/>
<circle cx="235.0" cy="353.4" r="1.02" fill="#000"/>
<circle cx="237.5" cy="348.3" r="1.02" fill="#000"/>
<circle cx="238.4" cy="350.0" r="1.02" fill="#000"/>
<circle cx="241.7" cy="351.7" r="1.02" fill="#000"/>
<circle cx="245.1" cy="352.5" r="1.02" fill="#000"/>
<circle cx="246.8" cy="351.7" r="1.02" fill="#000"/>
<circle cx="205.6" cy="341.6" r="0.85" fill="#ff1a1a"/>
<circle cx="222.4" cy="332.4" r="0.85" fill="#ff1a1a"/>
<circle cx="238.4" cy="345.8" r="0.85" fill="#ff1a1a"/>
<rect x="188.32" y="304.00" width="64.12" height="57.80" fill="none" stroke="#858585" stroke-width="0.5"/>
<line x1="190.82" y1="361.80" x2="190.82" y2="363.10" stroke="#333" stroke-width="0.4"/>
<text x="191.22" y="367.20" font-size="4.3" text-anchor="end" fill="#333" stroke="#444" stroke-width="0.12" transform="rotate(-45 191.22 367.20)">May</text>
<line x1="200.85" y1="361.80" x2="200.85" y2="363.10" stroke="#333" stroke-width="0.4"/>
<text x="201.25" y="367.20" font-size="4.3" text-anchor="end" fill="#333" stroke="#444" stroke-width="0.12" transform="rotate(-45 201.25 367.20)">Jun</text>
<line x1="210.87" y1="361.80" x2="210.87" y2="363.10" stroke="#333" stroke-width="0.4"/>
<text x="211.27" y="367.20" font-size="4.3" text-anchor="end" fill="#333" stroke="#444" stroke-width="0.12" transform="rotate(-45 211.27 367.20)">Jul</text>
<line x1="220.89" y1="361.80" x2="220.89" y2="363.10" stroke="#333" stroke-width="0.4"/>
<text x="221.29" y="367.20" font-size="4.3" text-anchor="end" fill="#333" stroke="#444" stroke-width="0.12" transform="rotate(-45 221.29 367.20)">Aug</text>
<line x1="230.91" y1="361.80" x2="230.91" y2="363.10" stroke="#333" stroke-width="0.4"/>
<text x="231.31" y="367.20" font-size="4.3" text-anchor="end" fill="#333" stroke="#444" stroke-width="0.12" transform="rotate(-45 231.31 367.20)">Sep</text>
<line x1="240.93" y1="361.80" x2="240.93" y2="363.10" stroke="#333" stroke-width="0.4"/>
<text x="241.33" y="367.20" font-size="4.3" text-anchor="end" fill="#333" stroke="#444" stroke-width="0.12" transform="rotate(-45 241.33 367.20)">Oct</text>
<line x1="250.95" y1="361.80" x2="250.95" y2="363.10" stroke="#333" stroke-width="0.4"/>
<text x="251.35" y="367.20" font-size="4.3" text-anchor="end" fill="#333" stroke="#444" stroke-width="0.12" transform="rotate(-45 251.35 367.20)">Nov</text>
<rect x="255.25" y="295.50" width="64.12" height="8.50" fill="#D9D9D9"/>
<rect x="255.25" y="295.50" width="64.12" height="8.50" fill="none" stroke="#858585" stroke-width="0.5"/>
<text x="287.31" y="302.25" font-size="4.3" text-anchor="middle" fill="#111" stroke="#111" stroke-width="0.12">2018</text>
<rect x="255.25" y="304.00" width="64.12" height="57.80" fill="#ffffff"/>
<rect x="257.75" y="304.40" width="59.12" height="11.30" fill="#FF4545"/>
<rect x="257.75" y="315.70" width="59.12" height="24.30" fill="#FF9900"/>
<rect x="257.75" y="340.00" width="59.12" height="15.20" fill="#FFFF00"/>
<rect x="257.75" y="355.20" width="59.12" height="4.20" fill="#15AD5B"/>
<rect x="257.75" y="359.40" width="59.12" height="2.40" fill="#1E96DC"/>
<polyline points="259.9,349.2 260.7,346.7 261.6,351.7 264.1,344.1 265.8,347.5 267.4,348.3 272.5,350.0 275.8,346.7 276.7,351.7 279.2,354.2 282.5,334.9 283.4,340.8 284.2,345.8 286.7,344.1 287.6,329.9 288.4,339.1 289.3,337.4 290.1,340.0 290.9,348.3 292.6,343.3 294.3,340.0 296.0,341.6 297.7,351.7 298.5,346.3 300.2,351.7 301.0,329.9 302.7,346.3 304.4,347.5 306.1,348.3 311.1,350.9 312.8,353.4 314.5,354.2" fill="none" stroke="#222" stroke-width="0.4" stroke-dasharray="0.6,0.45"/>
<circle cx="259.9" cy="349.2" r="1.02" fill="#000"/>
<circle cx="260.7" cy="346.7" r="1.02" fill="#000"/>
<circle cx="261.6" cy="351.7" r="1.02" fill="#000"/>
<circle cx="264.1" cy="344.1" r="1.02" fill="#000"/>
<circle cx="265.8" cy="347.5" r="1.02" fill="#000"/>
<circle cx="267.4" cy="348.3" r="1.02" fill="#000"/>
<circle cx="272.5" cy="350.0" r="1.02" fill="#000"/>
<circle cx="275.8" cy="346.7" r="1.02" fill="#000"/>
<circle cx="276.7" cy="351.7" r="1.02" fill="#000"/>
<circle cx="279.2" cy="354.2" r="1.02" fill="#000"/>
<circle cx="282.5" cy="334.9" r="1.02" fill="#000"/>
<circle cx="283.4" cy="340.8" r="1.02" fill="#000"/>
<circle cx="284.2" cy="345.8" r="1.02" fill="#000"/>
<circle cx="286.7" cy="344.1" r="1.02" fill="#000"/>
<circle cx="287.6" cy="329.9" r="1.02" fill="#000"/>
<circle cx="288.4" cy="339.1" r="1.02" fill="#000"/>
<circle cx="289.3" cy="337.4" r="1.02" fill="#000"/>
<circle cx="290.1" cy="340.0" r="1.02" fill="#000"/>
<circle cx="290.9" cy="348.3" r="1.02" fill="#000"/>
<circle cx="292.6" cy="343.3" r="1.02" fill="#000"/>
<circle cx="294.3" cy="340.0" r="1.02" fill="#000"/>
<circle cx="296.0" cy="341.6" r="1.02" fill="#000"/>
<circle cx="297.7" cy="351.7" r="1.02" fill="#000"/>
<circle cx="298.5" cy="346.3" r="1.02" fill="#000"/>
<circle cx="300.2" cy="351.7" r="1.02" fill="#000"/>
<circle cx="301.0" cy="329.9" r="1.02" fill="#000"/>
<circle cx="302.7" cy="346.3" r="1.02" fill="#000"/>
<circle cx="304.4" cy="347.5" r="1.02" fill="#000"/>
<circle cx="306.1" cy="348.3" r="1.02" fill="#000"/>
<circle cx="311.1" cy="350.9" r="1.02" fill="#000"/>
<circle cx="312.8" cy="353.4" r="1.02" fill="#000"/>
<circle cx="314.5" cy="354.2" r="1.02" fill="#000"/>
<circle cx="287.5" cy="341.5" r="1.02" fill="#000"/>
<circle cx="292.0" cy="340.9" r="1.02" fill="#000"/>
<circle cx="292.4" cy="341.3" r="1.02" fill="#000"/>
<circle cx="291.3" cy="337.0" r="1.02" fill="#000"/>
<circle cx="284.8" cy="337.8" r="1.02" fill="#000"/>
<circle cx="295.5" cy="334.4" r="1.02" fill="#000"/>
<circle cx="288.6" cy="340.3" r="1.02" fill="#000"/>
<circle cx="291.8" cy="340.5" r="1.02" fill="#000"/>
<circle cx="296.7" cy="348.1" r="1.02" fill="#000"/>
<circle cx="292.1" cy="337.0" r="1.02" fill="#000"/>
<circle cx="262.4" cy="353.0" r="0.85" fill="#ff1a1a"/>
<circle cx="294.3" cy="331.5" r="0.85" fill="#ff1a1a"/>
<circle cx="311.1" cy="350.9" r="0.85" fill="#ff1a1a"/>
<rect x="255.25" y="304.00" width="64.12" height="57.80" fill="none" stroke="#858585" stroke-width="0.5"/>
<line x1="257.75" y1="361.80" x2="257.75" y2="363.10" stroke="#333" stroke-width="0.4"/>
<text x="258.15" y="367.20" font-size="4.3" text-anchor="end" fill="#333" stroke="#444" stroke-width="0.12" transform="rotate(-45 258.15 367.20)">May</text>
<line x1="267.77" y1="361.80" x2="267.77" y2="363.10" stroke="#333" stroke-width="0.4"/>
<text x="268.17" y="367.20" font-size="4.3" text-anchor="end" fill="#333" stroke="#444" stroke-width="0.12" transform="rotate(-45 268.17 367.20)">Jun</text>
<line x1="277.79" y1="361.80" x2="277.79" y2="363.10" stroke="#333" stroke-width="0.4"/>
<text x="278.19" y="367.20" font-size="4.3" text-anchor="end" fill="#333" stroke="#444" stroke-width="0.12" transform="rotate(-45 278.19 367.20)">Jul</text>
<line x1="287.81" y1="361.80" x2="287.81" y2="363.10" stroke="#333" stroke-width="0.4"/>
<text x="288.21" y="367.20" font-size="4.3" text-anchor="end" fill="#333" stroke="#444" stroke-width="0.12" transform="rotate(-45 288.21 367.20)">Aug</text>
<line x1="297.83" y1="361.80" x2="297.83" y2="363.10" stroke="#333" stroke-width="0.4"/>
<text x="298.23" y="367.20" font-size="4.3" text-anchor="end" fill="#333" stroke="#444" stroke-width="0.12" transform="rotate(-45 298.23 367.20)">Sep</text>
<line x1="307.85" y1="361.80" x2="307.85" y2="363.10" stroke="#333" stroke-width="0.4"/>
<text x="308.25" y="367.20" font-size="4.3" text-anchor="end" fill="#333" stroke="#444" stroke-width="0.12" transform="rotate(-45 308.25 367.20)">Oct</text>
<line x1="317.88" y1="361.80" x2="317.88" y2="363.10" stroke="#333" stroke-width="0.4"/>
<text x="318.27" y="367.20" font-size="4.3" text-anchor="end" fill="#333" stroke="#444" stroke-width="0.12" transform="rotate(-45 318.27 367.20)">Nov</text>
<rect x="322.17" y="295.50" width="64.12" height="8.50" fill="#D9D9D9"/>
<rect x="322.17" y="295.50" width="64.12" height="8.50" fill="none" stroke="#858585" stroke-width="0.5"/>
<text x="354.24" y="302.25" font-size="4.3" text-anchor="middle" fill="#111" stroke="#111" stroke-width="0.12">2019</text>
<rect x="322.17" y="304.00" width="64.12" height="57.80" fill="#ffffff"/>
<rect x="324.67" y="304.40" width="59.12" height="11.30" fill="#FF4545"/>
<rect x="324.67" y="315.70" width="59.12" height="24.30" fill="#FF9900"/>
<rect x="324.67" y="340.00" width="59.12" height="15.20" fill="#FFFF00"/>
<rect x="324.67" y="355.20" width="59.12" height="4.20" fill="#15AD5B"/>
<rect x="324.67" y="359.40" width="59.12" height="2.40" fill="#1E96DC"/>
<polyline points="325.0,347.5 326.7,346.7 329.2,343.3 330.1,349.2 330.9,351.7 331.8,354.2 334.3,347.5 335.1,350.0 336.8,344.1 336.8,351.7 338.5,357.6 340.2,344.1 341.0,347.5 341.8,351.7 343.5,331.5 343.5,334.9 345.2,343.3 346.0,352.5 346.9,345.8 348.5,334.9 349.4,339.1 350.2,342.5 351.1,348.3 351.9,335.7 352.7,334.1 353.6,340.0 354.4,342.5 355.3,345.0 356.1,345.8 356.9,313.1 357.8,336.6 358.6,324.8 359.5,328.2 360.3,331.5 361.1,334.1 362.0,327.3 362.8,330.7 362.8,340.8 363.7,343.3 364.5,329.9 365.3,333.2 366.2,335.7 367.0,325.7 367.9,338.3 368.7,344.1 369.5,345.8 370.4,338.3 371.2,340.8 372.1,347.5 372.9,344.1 373.7,345.8 374.6,346.7 376.3,349.2 377.9,347.5 379.6,355.0 381.3,348.3 382.1,347.5" fill="none" stroke="#222" stroke-width="0.4" stroke-dasharray="0.6,0.45"/>
<circle cx="325.0" cy="347.5" r="1.02" fill="#000"/>
<circle cx="326.7" cy="346.7" r="1.02" fill="#000"/>
<circle cx="329.2" cy="343.3" r="1.02" fill="#000"/>
<circle cx="330.1" cy="349.2" r="1.02" fill="#000"/>
<circle cx="330.9" cy="351.7" r="1.02" fill="#000"/>
<circle cx="331.8" cy="354.2" r="1.02" fill="#000"/>
<circle cx="334.3" cy="347.5" r="1.02" fill="#000"/>
<circle cx="335.1" cy="350.0" r="1.02" fill="#000"/>
<circle cx="336.8" cy="344.1" r="1.02" fill="#000"/>
<circle cx="336.8" cy="351.7" r="1.02" fill="#000"/>
<circle cx="338.5" cy="357.6" r="1.02" fill="#000"/>
<circle cx="340.2" cy="344.1" r="1.02" fill="#000"/>
<circle cx="341.0" cy="347.5" r="1.02" fill="#000"/>
<circle cx="341.8" cy="351.7" r="1.02" fill="#000"/>
<circle cx="343.5" cy="331.5" r="1.02" fill="#000"/>
<circle cx="343.5" cy="334.9" r="1.02" fill="#000"/>
<circle cx="345.2" cy="343.3" r="1.02" fill="#000"/>
<circle cx="346.0" cy="352.5" r="1.02" fill="#000"/>
<circle cx="346.9" cy="345.8" r="1.02" fill="#000"/>
<circle cx="348.5" cy="334.9" r="1.02" fill="#000"/>
<circle cx="349.4" cy="339.1" r="1.02" fill="#000"/>
<circle cx="350.2" cy="342.5" r="1.02" fill="#000"/>
<circle cx="351.1" cy="348.3" r="1.02" fill="#000"/>
<circle cx="351.9" cy="335.7" r="1.02" fill="#000"/>
<circle cx="352.7" cy="334.1" r="1.02" fill="#000"/>
<circle cx="353.6" cy="340.0" r="1.02" fill="#000"/>
<circle cx="354.4" cy="342.5" r="1.02" fill="#000"/>
<circle cx="355.3" cy="345.0" r="1.02" fill="#000"/>
<circle cx="356.1" cy="345.8" r="1.02" fill="#000"/>
<circle cx="356.9" cy="313.1" r="1.02" fill="#000"/>
<circle cx="357.8" cy="336.6" r="1.02" fill="#000"/>
<circle cx="358.6" cy="324.8" r="1.02" fill="#000"/>
<circle cx="359.5" cy="328.2" r="1.02" fill="#000"/>
<circle cx="360.3" cy="331.5" r="1.02" fill="#000"/>
<circle cx="361.1" cy="334.1" r="1.02" fill="#000"/>
<circle cx="362.0" cy="327.3" r="1.02" fill="#000"/>
<circle cx="362.8" cy="330.7" r="1.02" fill="#000"/>
<circle cx="362.8" cy="340.8" r="1.02" fill="#000"/>
<circle cx="363.7" cy="343.3" r="1.02" fill="#000"/>
<circle cx="364.5" cy="329.9" r="1.02" fill="#000"/>
<circle cx="365.3" cy="333.2" r="1.02" fill="#000"/>
<circle cx="366.2" cy="335.7" r="1.02" fill="#000"/>
<circle cx="367.0" cy="325.7" r="1.02" fill="#000"/>
<circle cx="367.9" cy="338.3" r="1.02" fill="#000"/>
<circle cx="368.7" cy="344.1" r="1.02" fill="#000"/>
<circle cx="369.5" cy="345.8" r="1.02" fill="#000"/>
<circle cx="370.4" cy="338.3" r="1.02" fill="#000"/>
<circle cx="371.2" cy="340.8" r="1.02" fill="#000"/>
<circle cx="372.1" cy="347.5" r="1.02" fill="#000"/>
<circle cx="372.9" cy="344.1" r="1.02" fill="#000"/>
<circle cx="373.7" cy="345.8" r="1.02" fill="#000"/>
<circle cx="374.6" cy="346.7" r="1.02" fill="#000"/>
<circle cx="376.3" cy="349.2" r="1.02" fill="#000"/>
<circle cx="377.9" cy="347.5" r="1.02" fill="#000"/>
<circle cx="379.6" cy="355.0" r="1.02" fill="#000"/>
<circle cx="381.3" cy="348.3" r="1.02" fill="#000"/>
<circle cx="382.1" cy="347.5" r="1.02" fill="#000"/>
<circle cx="359.8" cy="336.9" r="1.02" fill="#000"/>
<circle cx="354.2" cy="345.6" r="1.02" fill="#000"/>
<circle cx="368.8" cy="346.0" r="1.02" fill="#000"/>
<circle cx="358.7" cy="326.8" r="1.02" fill="#000"/>
<circle cx="355.0" cy="326.7" r="1.02" fill="#000"/>
<circle cx="354.4" cy="338.6" r="1.02" fill="#000"/>
<circle cx="360.6" cy="341.6" r="1.02" fill="#000"/>
<circle cx="367.7" cy="330.4" r="1.02" fill="#000"/>
<circle cx="357.0" cy="330.3" r="1.02" fill="#000"/>
<circle cx="354.5" cy="337.6" r="1.02" fill="#000"/>
<circle cx="357.4" cy="325.6" r="1.02" fill="#000"/>
<circle cx="370.0" cy="332.5" r="1.02" fill="#000"/>
<circle cx="371.0" cy="345.5" r="1.02" fill="#000"/>
<circle cx="366.0" cy="328.0" r="1.02" fill="#000"/>
<circle cx="356.7" cy="327.9" r="1.02" fill="#000"/>
<circle cx="367.3" cy="334.3" r="1.02" fill="#000"/>
<circle cx="359.4" cy="322.4" r="1.02" fill="#000"/>
<circle cx="360.3" cy="331.4" r="1.02" fill="#000"/>
<circle cx="355.2" cy="328.0" r="1.02" fill="#000"/>
<circle cx="359.3" cy="332.0" r="1.02" fill="#000"/>
<circle cx="362.9" cy="335.6" r="1.02" fill="#000"/>
<circle cx="369.3" cy="329.1" r="1.02" fill="#000"/>
<circle cx="355.7" cy="329.3" r="1.02" fill="#000"/>
<circle cx="357.9" cy="335.8" r="1.02" fill="#000"/>
<circle cx="362.6" cy="329.7" r="1.02" fill="#000"/>
<circle cx="355.7" cy="340.0" r="1.02" fill="#000"/>
<circle cx="365.2" cy="337.0" r="1.02" fill="#000"/>
<circle cx="366.7" cy="342.5" r="1.02" fill="#000"/>
<circle cx="341.2" cy="345.5" r="1.02" fill="#000"/>
<circle cx="355.8" cy="341.5" r="1.02" fill="#000"/>
<circle cx="348.7" cy="342.0" r="1.02" fill="#000"/>
<circle cx="351.8" cy="347.0" r="1.02" fill="#000"/>
<circle cx="349.6" cy="351.6" r="1.02" fill="#000"/>
<circle cx="351.2" cy="341.5" r="1.02" fill="#000"/>
<circle cx="346.1" cy="346.1" r="1.02" fill="#000"/>
<circle cx="351.1" cy="339.6" r="1.02" fill="#000"/>
<circle cx="352.9" cy="343.2" r="1.02" fill="#000"/>
<circle cx="352.4" cy="337.5" r="1.02" fill="#000"/>
<circle cx="329.2" cy="341.6" r="0.85" fill="#ff1a1a"/>
<circle cx="357.8" cy="306.4" r="0.85" fill="#ff1a1a"/>
<circle cx="378.8" cy="327.3" r="0.85" fill="#ff1a1a"/>
<rect x="322.17" y="304.00" width="64.12" height="57.80" fill="none" stroke="#858585" stroke-width="0.5"/>
<line x1="324.67" y1="361.80" x2="324.67" y2="363.10" stroke="#333" stroke-width="0.4"/>
<text x="325.07" y="367.20" font-size="4.3" text-anchor="end" fill="#333" stroke="#444" stroke-width="0.12" transform="rotate(-45 325.07 367.20)">May</text>
<line x1="334.70" y1="361.80" x2="334.70" y2="363.10" stroke="#333" stroke-width="0.4"/>
<text x="335.10" y="367.20" font-size="4.3" text-anchor="end" fill="#333" stroke="#444" stroke-width="0.12" transform="rotate(-45 335.10 367.20)">Jun</text>
<line x1="344.72" y1="361.80" x2="344.72" y2="363.10" stroke="#333" stroke-width="0.4"/>
<text x="345.12" y="367.20" font-size="4.3" text-anchor="end" fill="#333" stroke="#444" stroke-width="0.12" transform="rotate(-45 345.12 367.20)">Jul</text>
<line x1="354.74" y1="361.80" x2="354.74" y2="363.10" stroke="#333" stroke-width="0.4"/>
<text x="355.14" y="367.20" font-size="4.3" text-anchor="end" fill="#333" stroke="#444" stroke-width="0.12" transform="rotate(-45 355.14 367.20)">Aug</text>
<line x1="364.76" y1="361.80" x2="364.76" y2="363.10" stroke="#333" stroke-width="0.4"/>
<text x="365.16" y="367.20" font-size="4.3" text-anchor="end" fill="#333" stroke="#444" stroke-width="0.12" transform="rotate(-45 365.16 367.20)">Sep</text>
<line x1="374.78" y1="361.80" x2="374.78" y2="363.10" stroke="#333" stroke-width="0.4"/>
<text x="375.18" y="367.20" font-size="4.3" text-anchor="end" fill="#333" stroke="#444" stroke-width="0.12" transform="rotate(-45 375.18 367.20)">Oct</text>
<line x1="384.80" y1="361.80" x2="384.80" y2="363.10" stroke="#333" stroke-width="0.4"/>
<text x="385.20" y="367.20" font-size="4.3" text-anchor="end" fill="#333" stroke="#444" stroke-width="0.12" transform="rotate(-45 385.20 367.20)">Nov</text>
<text x="9.2" y="332.8" font-size="5.0" text-anchor="middle" fill="#000" stroke="#000" stroke-width="0.08" transform="rotate(-90 9.2 332.8)">Chl a mg/m<tspan font-size="3.4" dy="-1.8">3</tspan></text>
<rect x="20.40" y="375.30" width="89.20" height="8.30" fill="#D9D9D9"/>
<rect x="20.40" y="375.30" width="89.20" height="8.30" fill="none" stroke="#858585" stroke-width="0.5"/>
<text x="65.00" y="381.95" font-size="4.3" text-anchor="middle" fill="#111" stroke="#111" stroke-width="0.12">1962-2019</text>
<rect x="20.40" y="383.60" width="89.20" height="63.00" fill="#ffffff"/>
<rect x="24.00" y="383.90" width="81.30" height="31.90" fill="#FF4545"/>
<rect x="24.00" y="415.80" width="81.30" height="17.00" fill="#FF9900"/>
<rect x="24.00" y="432.80" width="81.30" height="7.90" fill="#FFFF00"/>
<rect x="24.00" y="440.70" width="81.30" height="2.90" fill="#15AD5B"/>
<rect x="24.00" y="443.60" width="81.30" height="1.50" fill="#1E96DC"/>
<line x1="81.8" y1="413.3" x2="81.8" y2="440.0" stroke="#222" stroke-width="0.35" stroke-dasharray="0.7,0.5"/>
<line x1="87.0" y1="416.2" x2="87.0" y2="440.0" stroke="#222" stroke-width="0.35" stroke-dasharray="0.7,0.5"/>
<line x1="77.1" y1="419.1" x2="77.1" y2="440.0" stroke="#222" stroke-width="0.35" stroke-dasharray="0.7,0.5"/>
<line x1="98.1" y1="420.2" x2="98.1" y2="440.0" stroke="#222" stroke-width="0.35" stroke-dasharray="0.7,0.5"/>
<line x1="105.1" y1="400.5" x2="105.1" y2="440.0" stroke="#222" stroke-width="0.35" stroke-dasharray="0.7,0.5"/>
<circle cx="66.2" cy="386.5" r="1.02" fill="#000"/>
<circle cx="51.7" cy="420.8" r="1.02" fill="#000"/>
<circle cx="29.6" cy="430.7" r="1.02" fill="#000"/>
<circle cx="29.6" cy="433.6" r="1.02" fill="#000"/>
<circle cx="30.1" cy="435.4" r="1.02" fill="#000"/>
<circle cx="30.7" cy="436.5" r="1.02" fill="#000"/>
<circle cx="31.3" cy="437.7" r="1.02" fill="#000"/>
<circle cx="30.1" cy="440.6" r="1.02" fill="#000"/>
<circle cx="35.4" cy="439.4" r="1.02" fill="#000"/>
<circle cx="54.6" cy="440.6" r="1.02" fill="#000"/>
<circle cx="55.2" cy="443.5" r="1.02" fill="#000"/>
<circle cx="58.7" cy="440.6" r="1.02" fill="#000"/>
<circle cx="59.8" cy="437.7" r="1.02" fill="#000"/>
<circle cx="81.8" cy="413.3" r="1.02" fill="#000"/>
<circle cx="87.0" cy="416.2" r="1.02" fill="#000"/>
<circle cx="77.1" cy="419.1" r="1.02" fill="#000"/>
<circle cx="88.2" cy="420.8" r="1.02" fill="#000"/>
<circle cx="98.1" cy="420.2" r="1.02" fill="#000"/>
<circle cx="81.8" cy="421.4" r="1.02" fill="#000"/>
<circle cx="81.8" cy="424.3" r="1.02" fill="#000"/>
<circle cx="83.0" cy="426.6" r="1.02" fill="#000"/>
<circle cx="77.1" cy="429.0" r="1.02" fill="#000"/>
<circle cx="96.9" cy="429.0" r="1.02" fill="#000"/>
<circle cx="105.1" cy="400.5" r="1.02" fill="#000"/>
<circle cx="105.1" cy="407.4" r="1.02" fill="#000"/>
<circle cx="105.1" cy="428.4" r="1.02" fill="#000"/>
<circle cx="85.9" cy="430.1" r="1.02" fill="#000"/>
<circle cx="91.7" cy="430.7" r="1.02" fill="#000"/>
<circle cx="100.4" cy="430.7" r="1.02" fill="#000"/>
<circle cx="82.2" cy="437.7" r="1.02" fill="#000"/>
<circle cx="79.7" cy="441.4" r="1.02" fill="#000"/>
<circle cx="81.8" cy="438.3" r="1.02" fill="#000"/>
<circle cx="102.8" cy="436.5" r="1.02" fill="#000"/>
<circle cx="104.0" cy="440.4" r="1.02" fill="#000"/>
<circle cx="91.4" cy="439.2" r="1.02" fill="#000"/>
<circle cx="92.5" cy="436.1" r="1.02" fill="#000"/>
<circle cx="104.9" cy="436.6" r="1.02" fill="#000"/>
<circle cx="104.5" cy="441.8" r="1.02" fill="#000"/>
<circle cx="75.7" cy="434.9" r="1.02" fill="#000"/>
<circle cx="89.2" cy="441.3" r="1.02" fill="#000"/>
<circle cx="80.2" cy="439.0" r="1.02" fill="#000"/>
<circle cx="85.9" cy="441.0" r="1.02" fill="#000"/>
<circle cx="102.8" cy="440.7" r="1.02" fill="#000"/>
<circle cx="80.6" cy="440.7" r="1.02" fill="#000"/>
<circle cx="88.0" cy="441.6" r="1.02" fill="#000"/>
<circle cx="89.0" cy="442.4" r="1.02" fill="#000"/>
<circle cx="104.6" cy="441.5" r="1.02" fill="#000"/>
<circle cx="99.7" cy="441.4" r="1.02" fill="#000"/>
<circle cx="92.7" cy="433.9" r="1.02" fill="#000"/>
<circle cx="104.6" cy="437.3" r="1.02" fill="#000"/>
<circle cx="75.3" cy="436.9" r="1.02" fill="#000"/>
<circle cx="87.3" cy="434.2" r="1.02" fill="#000"/>
<circle cx="103.8" cy="433.2" r="1.02" fill="#000"/>
<circle cx="102.1" cy="438.3" r="1.02" fill="#000"/>
<circle cx="80.2" cy="436.1" r="1.02" fill="#000"/>
<circle cx="88.4" cy="433.3" r="1.02" fill="#000"/>
<circle cx="97.8" cy="439.5" r="1.02" fill="#000"/>
<circle cx="104.5" cy="441.5" r="1.02" fill="#000"/>
<circle cx="98.5" cy="443.5" r="1.02" fill="#000"/>
<circle cx="102.9" cy="439.4" r="1.02" fill="#000"/>
<circle cx="91.1" cy="438.0" r="1.02" fill="#000"/>
<circle cx="99.4" cy="442.6" r="1.02" fill="#000"/>
<circle cx="99.9" cy="441.6" r="1.02" fill="#000"/>
<circle cx="75.6" cy="436.8" r="1.02" fill="#000"/>
<circle cx="77.4" cy="438.7" r="1.02" fill="#000"/>
<circle cx="92.3" cy="438.4" r="1.02" fill="#000"/>
<circle cx="100.7" cy="434.5" r="1.02" fill="#000"/>
<circle cx="96.8" cy="438.7" r="1.02" fill="#000"/>
<circle cx="81.2" cy="443.3" r="1.02" fill="#000"/>
<circle cx="76.4" cy="437.3" r="1.02" fill="#000"/>
<circle cx="91.0" cy="438.8" r="1.02" fill="#000"/>
<circle cx="104.5" cy="438.3" r="1.02" fill="#000"/>
<circle cx="101.6" cy="435.3" r="1.02" fill="#000"/>
<circle cx="89.3" cy="433.6" r="1.02" fill="#000"/>
<circle cx="94.1" cy="436.8" r="1.02" fill="#000"/>
<circle cx="98.5" cy="433.2" r="1.02" fill="#000"/>
<circle cx="88.8" cy="443.0" r="1.02" fill="#000"/>
<circle cx="75.1" cy="439.6" r="1.02" fill="#000"/>
<circle cx="95.3" cy="440.3" r="1.02" fill="#000"/>
<circle cx="91.6" cy="437.7" r="1.02" fill="#000"/>
<circle cx="103.8" cy="435.2" r="1.02" fill="#000"/>
<circle cx="96.1" cy="439.7" r="1.02" fill="#000"/>
<circle cx="96.8" cy="437.4" r="1.02" fill="#000"/>
<circle cx="75.3" cy="440.9" r="1.02" fill="#000"/>
<circle cx="83.2" cy="441.0" r="1.02" fill="#000"/>
<circle cx="104.6" cy="440.9" r="1.02" fill="#000"/>
<circle cx="87.0" cy="441.8" r="1.02" fill="#000"/>
<circle cx="86.5" cy="435.6" r="1.02" fill="#000"/>
<circle cx="92.0" cy="439.5" r="1.02" fill="#000"/>
<circle cx="95.5" cy="438.3" r="1.02" fill="#000"/>
<circle cx="87.1" cy="440.5" r="1.02" fill="#000"/>
<circle cx="84.6" cy="438.9" r="1.02" fill="#000"/>
<circle cx="75.0" cy="433.4" r="1.02" fill="#000"/>
<circle cx="101.0" cy="434.4" r="1.02" fill="#000"/>
<circle cx="87.3" cy="432.5" r="1.02" fill="#000"/>
<circle cx="97.9" cy="435.7" r="1.02" fill="#000"/>
<circle cx="76.3" cy="435.1" r="1.02" fill="#000"/>
<circle cx="102.9" cy="440.7" r="1.02" fill="#000"/>
<circle cx="74.9" cy="443.0" r="1.02" fill="#000"/>
<circle cx="77.0" cy="437.5" r="1.02" fill="#000"/>
<circle cx="90.9" cy="441.0" r="1.02" fill="#000"/>
<circle cx="79.1" cy="441.5" r="1.02" fill="#000"/>
<circle cx="83.1" cy="440.5" r="1.02" fill="#000"/>
<circle cx="102.8" cy="438.7" r="1.02" fill="#000"/>
<circle cx="74.9" cy="439.6" r="1.02" fill="#000"/>
<circle cx="87.9" cy="440.4" r="1.02" fill="#000"/>
<circle cx="98.5" cy="433.1" r="1.02" fill="#000"/>
<circle cx="91.9" cy="439.4" r="1.02" fill="#000"/>
<circle cx="102.8" cy="439.0" r="1.02" fill="#000"/>
<circle cx="93.4" cy="440.8" r="1.02" fill="#000"/>
<circle cx="79.6" cy="441.9" r="1.02" fill="#000"/>
<circle cx="92.3" cy="439.3" r="1.02" fill="#000"/>
<circle cx="79.5" cy="438.0" r="1.02" fill="#000"/>
<circle cx="87.2" cy="434.3" r="1.02" fill="#000"/>
<circle cx="103.2" cy="441.7" r="1.02" fill="#000"/>
<circle cx="88.7" cy="432.8" r="1.02" fill="#000"/>
<circle cx="104.5" cy="433.3" r="1.02" fill="#000"/>
<circle cx="90.1" cy="438.5" r="1.02" fill="#000"/>
<circle cx="100.6" cy="439.5" r="1.02" fill="#000"/>
<circle cx="104.4" cy="431.5" r="1.02" fill="#000"/>
<circle cx="97.0" cy="435.8" r="1.02" fill="#000"/>
<circle cx="103.3" cy="435.1" r="1.02" fill="#000"/>
<circle cx="102.7" cy="432.6" r="1.02" fill="#000"/>
<circle cx="104.8" cy="435.1" r="1.02" fill="#000"/>
<circle cx="81.3" cy="434.5" r="1.02" fill="#000"/>
<circle cx="94.3" cy="431.3" r="1.02" fill="#000"/>
<circle cx="87.2" cy="431.1" r="1.02" fill="#000"/>
<circle cx="78.0" cy="432.7" r="1.02" fill="#000"/>
<circle cx="82.7" cy="433.7" r="1.02" fill="#000"/>
<circle cx="98.6" cy="435.2" r="1.02" fill="#000"/>
<circle cx="100.9" cy="440.0" r="1.02" fill="#000"/>
<circle cx="102.0" cy="440.5" r="1.02" fill="#000"/>
<circle cx="92.7" cy="437.7" r="1.02" fill="#000"/>
<circle cx="101.6" cy="436.4" r="1.02" fill="#000"/>
<circle cx="80.1" cy="436.2" r="1.02" fill="#000"/>
<circle cx="91.4" cy="432.8" r="1.02" fill="#000"/>
<circle cx="78.7" cy="432.8" r="1.02" fill="#000"/>
<circle cx="96.2" cy="439.1" r="1.02" fill="#000"/>
<circle cx="95.0" cy="435.3" r="1.02" fill="#000"/>
<circle cx="76.8" cy="431.0" r="1.02" fill="#000"/>
<circle cx="95.0" cy="436.3" r="1.02" fill="#000"/>
<circle cx="89.2" cy="432.7" r="1.02" fill="#000"/>
<circle cx="79.6" cy="432.8" r="1.02" fill="#000"/>
<circle cx="79.7" cy="437.0" r="1.02" fill="#000"/>
<circle cx="84.9" cy="436.5" r="1.02" fill="#000"/>
<circle cx="88.4" cy="436.5" r="1.02" fill="#000"/>
<circle cx="97.6" cy="438.8" r="1.02" fill="#000"/>
<circle cx="80.3" cy="440.6" r="1.02" fill="#000"/>
<circle cx="100.7" cy="439.2" r="1.02" fill="#000"/>
<circle cx="89.1" cy="440.5" r="1.02" fill="#000"/>
<circle cx="99.6" cy="433.4" r="1.02" fill="#000"/>
<circle cx="95.9" cy="439.5" r="1.02" fill="#000"/>
<circle cx="97.8" cy="440.0" r="1.02" fill="#000"/>
<circle cx="91.3" cy="437.7" r="1.02" fill="#000"/>
<rect x="20.40" y="383.60" width="89.20" height="63.00" fill="none" stroke="#858585" stroke-width="0.5"/>
<line x1="19.10" y1="445.30" x2="20.40" y2="445.30" stroke="#333" stroke-width="0.4"/>
<text x="18.50" y="446.80" font-size="4.3" text-anchor="end" fill="#333" stroke="#444" stroke-width="0.12">0</text>
<line x1="19.10" y1="437.46" x2="20.40" y2="437.46" stroke="#333" stroke-width="0.4"/>
<text x="18.50" y="438.96" font-size="4.3" text-anchor="end" fill="#333" stroke="#444" stroke-width="0.12">10</text>
<line x1="19.10" y1="429.62" x2="20.40" y2="429.62" stroke="#333" stroke-width="0.4"/>
<text x="18.50" y="431.12" font-size="4.3" text-anchor="end" fill="#333" stroke="#444" stroke-width="0.12">20</text>
<line x1="19.10" y1="421.78" x2="20.40" y2="421.78" stroke="#333" stroke-width="0.4"/>
<text x="18.50" y="423.28" font-size="4.3" text-anchor="end" fill="#333" stroke="#444" stroke-width="0.12">30</text>
<line x1="19.10" y1="413.94" x2="20.40" y2="413.94" stroke="#333" stroke-width="0.4"/>
<text x="18.50" y="415.44" font-size="4.3" text-anchor="end" fill="#333" stroke="#444" stroke-width="0.12">40</text>
<line x1="19.10" y1="406.10" x2="20.40" y2="406.10" stroke="#333" stroke-width="0.4"/>
<text x="18.50" y="407.60" font-size="4.3" text-anchor="end" fill="#333" stroke="#444" stroke-width="0.12">50</text>
<line x1="19.10" y1="398.26" x2="20.40" y2="398.26" stroke="#333" stroke-width="0.4"/>
<text x="18.50" y="399.76" font-size="4.3" text-anchor="end" fill="#333" stroke="#444" stroke-width="0.12">60</text>
<line x1="19.10" y1="390.42" x2="20.40" y2="390.42" stroke="#333" stroke-width="0.4"/>
<text x="18.50" y="391.92" font-size="4.3" text-anchor="end" fill="#333" stroke="#444" stroke-width="0.12">70</text>
<line x1="27.30" y1="446.60" x2="27.30" y2="447.90" stroke="#333" stroke-width="0.4"/>
<text x="27.70" y="452.00" font-size="4.3" text-anchor="end" fill="#333" stroke="#444" stroke-width="0.12" transform="rotate(-45 27.70 452.00)">1965</text>
<line x1="35.22" y1="446.60" x2="35.22" y2="447.90" stroke="#333" stroke-width="0.4"/>
<text x="35.62" y="452.00" font-size="4.3" text-anchor="end" fill="#333" stroke="#444" stroke-width="0.12" transform="rotate(-45 35.62 452.00)">1971</text>
<line x1="43.14" y1="446.60" x2="43.14" y2="447.90" stroke="#333" stroke-width="0.4"/>
<text x="43.54" y="452.00" font-size="4.3" text-anchor="end" fill="#333" stroke="#444" stroke-width="0.12" transform="rotate(-45 43.54 452.00)">1977</text>
<line x1="51.06" y1="446.60" x2="51.06" y2="447.90" stroke="#333" stroke-width="0.4"/>
<text x="51.46" y="452.00" font-size="4.3" text-anchor="end" fill="#333" stroke="#444" stroke-width="0.12" transform="rotate(-45 51.46 452.00)">1983</text>
<line x1="58.98" y1="446.60" x2="58.98" y2="447.90" stroke="#333" stroke-width="0.4"/>
<text x="59.38" y="452.00" font-size="4.3" text-anchor="end" fill="#333" stroke="#444" stroke-width="0.12" transform="rotate(-45 59.38 452.00)">1989</text>
<line x1="66.90" y1="446.60" x2="66.90" y2="447.90" stroke="#333" stroke-width="0.4"/>
<text x="67.30" y="452.00" font-size="4.3" text-anchor="end" fill="#333" stroke="#444" stroke-width="0.12" transform="rotate(-45 67.30 452.00)">1995</text>
<line x1="74.82" y1="446.60" x2="74.82" y2="447.90" stroke="#333" stroke-width="0.4"/>
<text x="75.22" y="452.00" font-size="4.3" text-anchor="end" fill="#333" stroke="#444" stroke-width="0.12" transform="rotate(-45 75.22 452.00)">2001</text>
<line x1="82.74" y1="446.60" x2="82.74" y2="447.90" stroke="#333" stroke-width="0.4"/>
<text x="83.14" y="452.00" font-size="4.3" text-anchor="end" fill="#333" stroke="#444" stroke-width="0.12" transform="rotate(-45 83.14 452.00)">2007</text>
<line x1="90.66" y1="446.60" x2="90.66" y2="447.90" stroke="#333" stroke-width="0.4"/>
<text x="91.06" y="452.00" font-size="4.3" text-anchor="end" fill="#333" stroke="#444" stroke-width="0.12" transform="rotate(-45 91.06 452.00)">2013</text>
<line x1="98.58" y1="446.60" x2="98.58" y2="447.90" stroke="#333" stroke-width="0.4"/>
<text x="98.98" y="452.00" font-size="4.3" text-anchor="end" fill="#333" stroke="#444" stroke-width="0.12" transform="rotate(-45 98.98 452.00)">2019</text>
<rect x="124.20" y="375.30" width="63.33" height="8.30" fill="#D9D9D9"/>
<rect x="124.20" y="375.30" width="63.33" height="8.30" fill="none" stroke="#858585" stroke-width="0.5"/>
<text x="155.86" y="381.95" font-size="4.3" text-anchor="middle" fill="#111" stroke="#111" stroke-width="0.12">2016</text>
<rect x="124.20" y="383.60" width="63.33" height="63.80" fill="#ffffff"/>
<rect x="126.80" y="383.90" width="58.13" height="39.80" fill="#FF4545"/>
<rect x="126.80" y="423.70" width="58.13" height="12.40" fill="#FF9900"/>
<rect x="126.80" y="436.10" width="58.13" height="5.90" fill="#FFFF00"/>
<rect x="126.80" y="442.00" width="58.13" height="2.30" fill="#15AD5B"/>
<rect x="126.80" y="444.30" width="58.13" height="1.60" fill="#1E96DC"/>
<polyline points="127.3,440.9 129.0,441.7 130.6,437.6 131.4,441.7 133.9,440.1 135.6,440.9 138.1,431.8 140.5,431.8 141.4,443.4 144.7,438.4 146.3,432.6 147.2,436.8 149.6,435.9 153.8,440.9 156.3,431.0 158.7,432.6 159.6,437.6 161.2,434.3 162.9,431.8 163.7,437.6 166.2,435.9 167.8,430.1 168.7,437.6 170.3,435.9 173.6,440.1 180.2,440.1 181.9,440.9" fill="none" stroke="#222" stroke-width="0.4" stroke-dasharray="0.6,0.45"/>
<circle cx="127.3" cy="440.9" r="1.02" fill="#000"/>
<circle cx="129.0" cy="441.7" r="1.02" fill="#000"/>
<circle cx="130.6" cy="437.6" r="1.02" fill="#000"/>
<circle cx="131.4" cy="441.7" r="1.02" fill="#000"/>
<circle cx="133.9" cy="440.1" r="1.02" fill="#000"/>
<circle cx="135.6" cy="440.9" r="1.02" fill="#000"/>
<circle cx="138.1" cy="431.8" r="1.02" fill="#000"/>
<circle cx="140.5" cy="431.8" r="1.02" fill="#000"/>
<circle cx="141.4" cy="443.4" r="1.02" fill="#000"/>
<circle cx="144.7" cy="438.4" r="1.02" fill="#000"/>
<circle cx="146.3" cy="432.6" r="1.02" fill="#000"/>
<circle cx="147.2" cy="436.8" r="1.02" fill="#000"/>
<circle cx="149.6" cy="435.9" r="1.02" fill="#000"/>
<circle cx="153.8" cy="440.9" r="1.02" fill="#000"/>
<circle cx="156.3" cy="431.0" r="1.02" fill="#000"/>
<circle cx="158.7" cy="432.6" r="1.02" fill="#000"/>
<circle cx="159.6" cy="437.6" r="1.02" fill="#000"/>
<circle cx="161.2" cy="434.3" r="1.02" fill="#000"/>
<circle cx="162.9" cy="431.8" r="1.02" fill="#000"/>
<circle cx="163.7" cy="437.6" r="1.02" fill="#000"/>
<circle cx="166.2" cy="435.9" r="1.02" fill="#000"/>
<circle cx="167.8" cy="430.1" r="1.02" fill="#000"/>
<circle cx="168.7" cy="437.6" r="1.02" fill="#000"/>
<circle cx="170.3" cy="435.9" r="1.02" fill="#000"/>
<circle cx="173.6" cy="440.1" r="1.02" fill="#000"/>
<circle cx="180.2" cy="440.1" r="1.02" fill="#000"/>
<circle cx="181.9" cy="440.9" r="1.02" fill="#000"/>
<circle cx="134.1" cy="438.7" r="1.02" fill="#000"/>
<circle cx="135.1" cy="438.2" r="1.02" fill="#000"/>
<circle cx="164.8" cy="437.8" r="1.02" fill="#000"/>
<circle cx="145.7" cy="438.0" r="1.02" fill="#000"/>
<circle cx="180.6" cy="439.5" r="1.02" fill="#000"/>
<circle cx="143.3" cy="439.0" r="1.02" fill="#000"/>
<circle cx="172.4" cy="438.8" r="1.02" fill="#000"/>
<circle cx="171.8" cy="438.9" r="1.02" fill="#000"/>
<circle cx="132.3" cy="444.2" r="0.85" fill="#ff1a1a"/>
<circle cx="160.4" cy="439.2" r="0.85" fill="#ff1a1a"/>
<circle cx="169.5" cy="435.9" r="0.85" fill="#ff1a1a"/>
<rect x="124.20" y="383.60" width="63.33" height="63.80" fill="none" stroke="#858585" stroke-width="0.5"/>
<line x1="122.90" y1="445.60" x2="124.20" y2="445.60" stroke="#333" stroke-width="0.4"/>
<text x="122.30" y="447.10" font-size="4.3" text-anchor="end" fill="#333" stroke="#444" stroke-width="0.12">0</text>
<line x1="122.90" y1="439.67" x2="124.20" y2="439.67" stroke="#333" stroke-width="0.4"/>
<text x="122.30" y="441.17" font-size="4.3" text-anchor="end" fill="#333" stroke="#444" stroke-width="0.12">10</text>
<line x1="122.90" y1="433.74" x2="124.20" y2="433.74" stroke="#333" stroke-width="0.4"/>
<text x="122.30" y="435.24" font-size="4.3" text-anchor="end" fill="#333" stroke="#444" stroke-width="0.12">20</text>
<line x1="122.90" y1="427.81" x2="124.20" y2="427.81" stroke="#333" stroke-width="0.4"/>
<text x="122.30" y="429.31" font-size="4.3" text-anchor="end" fill="#333" stroke="#444" stroke-width="0.12">30</text>
<line x1="122.90" y1="421.88" x2="124.20" y2="421.88" stroke="#333" stroke-width="0.4"/>
<text x="122.30" y="423.38" font-size="4.3" text-anchor="end" fill="#333" stroke="#444" stroke-width="0.12">40</text>
<line x1="122.90" y1="415.95" x2="124.20" y2="415.95" stroke="#333" stroke-width="0.4"/>
<text x="122.30" y="417.45" font-size="4.3" text-anchor="end" fill="#333" stroke="#444" stroke-width="0.12">50</text>
<line x1="122.90" y1="410.02" x2="124.20" y2="410.02" stroke="#333" stroke-width="0.4"/>
<text x="122.30" y="411.52" font-size="4.3" text-anchor="end" fill="#333" stroke="#444" stroke-width="0.12">60</text>
<line x1="122.90" y1="404.09" x2="124.20" y2="404.09" stroke="#333" stroke-width="0.4"/>
<text x="122.30" y="405.59" font-size="4.3" text-anchor="end" fill="#333" stroke="#444" stroke-width="0.12">70</text>
<line x1="122.90" y1="398.16" x2="124.20" y2="398.16" stroke="#333" stroke-width="0.4"/>
<text x="122.30" y="399.66" font-size="4.3" text-anchor="end" fill="#333" stroke="#444" stroke-width="0.12">80</text>
<line x1="122.90" y1="392.23" x2="124.20" y2="392.23" stroke="#333" stroke-width="0.4"/>
<text x="122.30" y="393.73" font-size="4.3" text-anchor="end" fill="#333" stroke="#444" stroke-width="0.12">90</text>
<line x1="122.90" y1="386.30" x2="124.20" y2="386.30" stroke="#333" stroke-width="0.4"/>
<text x="122.30" y="387.80" font-size="4.3" text-anchor="end" fill="#333" stroke="#444" stroke-width="0.12">100</text>
<line x1="126.80" y1="447.40" x2="126.80" y2="448.70" stroke="#333" stroke-width="0.4"/>
<text x="127.20" y="452.80" font-size="4.3" text-anchor="end" fill="#333" stroke="#444" stroke-width="0.12" transform="rotate(-45 127.20 452.80)">May</text>
<line x1="136.65" y1="447.40" x2="136.65" y2="448.70" stroke="#333" stroke-width="0.4"/>
<text x="137.05" y="452.80" font-size="4.3" text-anchor="end" fill="#333" stroke="#444" stroke-width="0.12" transform="rotate(-45 137.05 452.80)">Jun</text>
<line x1="146.51" y1="447.40" x2="146.51" y2="448.70" stroke="#333" stroke-width="0.4"/>
<text x="146.91" y="452.80" font-size="4.3" text-anchor="end" fill="#333" stroke="#444" stroke-width="0.12" transform="rotate(-45 146.91 452.80)">Jul</text>
<line x1="156.36" y1="447.40" x2="156.36" y2="448.70" stroke="#333" stroke-width="0.4"/>
<text x="156.76" y="452.80" font-size="4.3" text-anchor="end" fill="#333" stroke="#444" stroke-width="0.12" transform="rotate(-45 156.76 452.80)">Aug</text>
<line x1="166.22" y1="447.40" x2="166.22" y2="448.70" stroke="#333" stroke-width="0.4"/>
<text x="166.62" y="452.80" font-size="4.3" text-anchor="end" fill="#333" stroke="#444" stroke-width="0.12" transform="rotate(-45 166.62 452.80)">Sep</text>
<line x1="176.07" y1="447.40" x2="176.07" y2="448.70" stroke="#333" stroke-width="0.4"/>
<text x="176.47" y="452.80" font-size="4.3" text-anchor="end" fill="#333" stroke="#444" stroke-width="0.12" transform="rotate(-45 176.47 452.80)">Oct</text>
<line x1="185.93" y1="447.40" x2="185.93" y2="448.70" stroke="#333" stroke-width="0.4"/>
<text x="186.33" y="452.80" font-size="4.3" text-anchor="end" fill="#333" stroke="#444" stroke-width="0.12" transform="rotate(-45 186.33 452.80)">Nov</text>
<rect x="190.32" y="375.30" width="63.32" height="8.30" fill="#D9D9D9"/>
<rect x="190.32" y="375.30" width="63.32" height="8.30" fill="none" stroke="#858585" stroke-width="0.5"/>
<text x="221.99" y="381.95" font-size="4.3" text-anchor="middle" fill="#111" stroke="#111" stroke-width="0.12">2017</text>
<rect x="190.32" y="383.60" width="63.32" height="63.80" fill="#ffffff"/>
<rect x="192.92" y="383.90" width="58.12" height="39.80" fill="#FF4545"/>
<rect x="192.92" y="423.70" width="58.12" height="12.40" fill="#FF9900"/>
<rect x="192.92" y="436.10" width="58.12" height="5.90" fill="#FFFF00"/>
<rect x="192.92" y="442.00" width="58.12" height="2.30" fill="#15AD5B"/>
<rect x="192.92" y="444.30" width="58.12" height="1.60" fill="#1E96DC"/>
<polyline points="194.1,438.4 195.0,440.1 200.8,440.9 202.4,440.1 204.9,442.5 206.5,435.9 213.2,435.1 214.8,434.3 217.3,440.1 218.9,436.8 220.6,435.1 223.9,434.3 224.7,435.9 226.4,427.7 228.0,439.2 231.3,435.1 234.7,432.6 238.8,440.1 239.6,441.7 242.9,441.7 246.2,442.5 247.9,441.7" fill="none" stroke="#222" stroke-width="0.4" stroke-dasharray="0.6,0.45"/>
<circle cx="194.1" cy="438.4" r="1.02" fill="#000"/>
<circle cx="195.0" cy="440.1" r="1.02" fill="#000"/>
<circle cx="200.8" cy="440.9" r="1.02" fill="#000"/>
<circle cx="202.4" cy="440.1" r="1.02" fill="#000"/>
<circle cx="204.9" cy="442.5" r="1.02" fill="#000"/>
<circle cx="206.5" cy="435.9" r="1.02" fill="#000"/>
<circle cx="213.2" cy="435.1" r="1.02" fill="#000"/>
<circle cx="214.8" cy="434.3" r="1.02" fill="#000"/>
<circle cx="217.3" cy="440.1" r="1.02" fill="#000"/>
<circle cx="218.9" cy="436.8" r="1.02" fill="#000"/>
<circle cx="220.6" cy="435.1" r="1.02" fill="#000"/>
<circle cx="223.9" cy="434.3" r="1.02" fill="#000"/>
<circle cx="224.7" cy="435.9" r="1.02" fill="#000"/>
<circle cx="226.4" cy="427.7" r="1.02" fill="#000"/>
<circle cx="228.0" cy="439.2" r="1.02" fill="#000"/>
<circle cx="231.3" cy="435.1" r="1.02" fill="#000"/>
<circle cx="234.7" cy="432.6" r="1.02" fill="#000"/>
<circle cx="238.8" cy="440.1" r="1.02" fill="#000"/>
<circle cx="239.6" cy="441.7" r="1.02" fill="#000"/>
<circle cx="242.9" cy="441.7" r="1.02" fill="#000"/>
<circle cx="246.2" cy="442.5" r="1.02" fill="#000"/>
<circle cx="247.9" cy="441.7" r="1.02" fill="#000"/>
<circle cx="208.7" cy="439.7" r="1.02" fill="#000"/>
<circle cx="232.2" cy="441.8" r="1.02" fill="#000"/>
<circle cx="213.9" cy="439.7" r="1.02" fill="#000"/>
<circle cx="214.2" cy="439.8" r="1.02" fill="#000"/>
<circle cx="239.4" cy="442.0" r="1.02" fill="#000"/>
<circle cx="244.1" cy="441.7" r="1.02" fill="#000"/>
<circle cx="196.9" cy="438.2" r="1.02" fill="#000"/>
<circle cx="245.1" cy="439.8" r="1.02" fill="#000"/>
<circle cx="207.4" cy="441.7" r="0.85" fill="#ff1a1a"/>
<circle cx="224.7" cy="436.8" r="0.85" fill="#ff1a1a"/>
<circle cx="239.6" cy="439.2" r="0.85" fill="#ff1a1a"/>
<rect x="190.32" y="383.60" width="63.32" height="63.80" fill="none" stroke="#858585" stroke-width="0.5"/>
<line x1="192.92" y1="447.40" x2="192.92" y2="448.70" stroke="#333" stroke-width="0.4"/>
<text x="193.32" y="452.80" font-size="4.3" text-anchor="end" fill="#333" stroke="#444" stroke-width="0.12" transform="rotate(-45 193.32 452.80)">May</text>
<line x1="202.78" y1="447.40" x2="202.78" y2="448.70" stroke="#333" stroke-width="0.4"/>
<text x="203.18" y="452.80" font-size="4.3" text-anchor="end" fill="#333" stroke="#444" stroke-width="0.12" transform="rotate(-45 203.18 452.80)">Jun</text>
<line x1="212.63" y1="447.40" x2="212.63" y2="448.70" stroke="#333" stroke-width="0.4"/>
<text x="213.03" y="452.80" font-size="4.3" text-anchor="end" fill="#333" stroke="#444" stroke-width="0.12" transform="rotate(-45 213.03 452.80)">Jul</text>
<line x1="222.49" y1="447.40" x2="222.49" y2="448.70" stroke="#333" stroke-width="0.4"/>
<text x="222.89" y="452.80" font-size="4.3" text-anchor="end" fill="#333" stroke="#444" stroke-width="0.12" transform="rotate(-45 222.89 452.80)">Aug</text>
<line x1="232.34" y1="447.40" x2="232.34" y2="448.70" stroke="#333" stroke-width="0.4"/>
<text x="232.74" y="452.80" font-size="4.3" text-anchor="end" fill="#333" stroke="#444" stroke-width="0.12" transform="rotate(-45 232.74 452.80)">Sep</text>
<line x1="242.20" y1="447.40" x2="242.20" y2="448.70" stroke="#333" stroke-width="0.4"/>
<text x="242.60" y="452.80" font-size="4.3" text-anchor="end" fill="#333" stroke="#444" stroke-width="0.12" transform="rotate(-45 242.60 452.80)">Oct</text>
<line x1="252.05" y1="447.40" x2="252.05" y2="448.70" stroke="#333" stroke-width="0.4"/>
<text x="252.45" y="452.80" font-size="4.3" text-anchor="end" fill="#333" stroke="#444" stroke-width="0.12" transform="rotate(-45 252.45 452.80)">Nov</text>
<rect x="256.45" y="375.30" width="63.32" height="8.30" fill="#D9D9D9"/>
<rect x="256.45" y="375.30" width="63.32" height="8.30" fill="none" stroke="#858585" stroke-width="0.5"/>
<text x="288.11" y="381.95" font-size="4.3" text-anchor="middle" fill="#111" stroke="#111" stroke-width="0.12">2018</text>
<rect x="256.45" y="383.60" width="63.32" height="63.80" fill="#ffffff"/>
<rect x="259.05" y="383.90" width="58.12" height="39.80" fill="#FF4545"/>
<rect x="259.05" y="423.70" width="58.12" height="12.40" fill="#FF9900"/>
<rect x="259.05" y="436.10" width="58.12" height="5.90" fill="#FFFF00"/>
<rect x="259.05" y="442.00" width="58.12" height="2.30" fill="#15AD5B"/>
<rect x="259.05" y="444.30" width="58.12" height="1.60" fill="#1E96DC"/>
<polyline points="261.0,440.9 263.4,440.1 265.1,438.4 267.6,440.1 269.2,440.9 273.4,441.7 276.7,440.9 277.5,439.2 283.3,432.6 284.1,435.9 285.8,438.4 288.3,431.0 289.1,435.9 289.9,434.3 291.6,437.6 293.2,440.1 295.7,435.9 296.5,437.6 298.2,440.1 299.8,440.9 301.5,431.0 302.3,439.2 304.8,440.1 307.3,441.7 311.4,440.9 313.1,441.7 314.7,442.5" fill="none" stroke="#222" stroke-width="0.4" stroke-dasharray="0.6,0.45"/>
<circle cx="261.0" cy="440.9" r="1.02" fill="#000"/>
<circle cx="263.4" cy="440.1" r="1.02" fill="#000"/>
<circle cx="265.1" cy="438.4" r="1.02" fill="#000"/>
<circle cx="267.6" cy="440.1" r="1.02" fill="#000"/>
<circle cx="269.2" cy="440.9" r="1.02" fill="#000"/>
<circle cx="273.4" cy="441.7" r="1.02" fill="#000"/>
<circle cx="276.7" cy="440.9" r="1.02" fill="#000"/>
<circle cx="277.5" cy="439.2" r="1.02" fill="#000"/>
<circle cx="283.3" cy="432.6" r="1.02" fill="#000"/>
<circle cx="284.1" cy="435.9" r="1.02" fill="#000"/>
<circle cx="285.8" cy="438.4" r="1.02" fill="#000"/>
<circle cx="288.3" cy="431.0" r="1.02" fill="#000"/>
<circle cx="289.1" cy="435.9" r="1.02" fill="#000"/>
<circle cx="289.9" cy="434.3" r="1.02" fill="#000"/>
<circle cx="291.6" cy="437.6" r="1.02" fill="#000"/>
<circle cx="293.2" cy="440.1" r="1.02" fill="#000"/>
<circle cx="295.7" cy="435.9" r="1.02" fill="#000"/>
<circle cx="296.5" cy="437.6" r="1.02" fill="#000"/>
<circle cx="298.2" cy="440.1" r="1.02" fill="#000"/>
<circle cx="299.8" cy="440.9" r="1.02" fill="#000"/>
<circle cx="301.5" cy="431.0" r="1.02" fill="#000"/>
<circle cx="302.3" cy="439.2" r="1.02" fill="#000"/>
<circle cx="304.8" cy="440.1" r="1.02" fill="#000"/>
<circle cx="307.3" cy="441.7" r="1.02" fill="#000"/>
<circle cx="311.4" cy="440.9" r="1.02" fill="#000"/>
<circle cx="313.1" cy="441.7" r="1.02" fill="#000"/>
<circle cx="314.7" cy="442.5" r="1.02" fill="#000"/>
<circle cx="296.4" cy="434.3" r="1.02" fill="#000"/>
<circle cx="286.3" cy="439.2" r="1.02" fill="#000"/>
<circle cx="284.1" cy="435.8" r="1.02" fill="#000"/>
<circle cx="292.0" cy="437.1" r="1.02" fill="#000"/>
<circle cx="284.6" cy="437.3" r="1.02" fill="#000"/>
<circle cx="291.0" cy="439.5" r="1.02" fill="#000"/>
<circle cx="282.5" cy="440.6" r="1.02" fill="#000"/>
<circle cx="285.1" cy="439.1" r="1.02" fill="#000"/>
<circle cx="276.3" cy="438.4" r="1.02" fill="#000"/>
<circle cx="278.5" cy="440.9" r="1.02" fill="#000"/>
<circle cx="265.1" cy="439.7" r="1.02" fill="#000"/>
<circle cx="260.7" cy="438.6" r="1.02" fill="#000"/>
<circle cx="273.0" cy="441.1" r="1.02" fill="#000"/>
<circle cx="263.8" cy="440.8" r="1.02" fill="#000"/>
<circle cx="263.4" cy="442.5" r="0.85" fill="#ff1a1a"/>
<circle cx="294.9" cy="439.2" r="0.85" fill="#ff1a1a"/>
<circle cx="312.2" cy="443.4" r="0.85" fill="#ff1a1a"/>
<rect x="256.45" y="383.60" width="63.32" height="63.80" fill="none" stroke="#858585" stroke-width="0.5"/>
<line x1="259.05" y1="447.40" x2="259.05" y2="448.70" stroke="#333" stroke-width="0.4"/>
<text x="259.45" y="452.80" font-size="4.3" text-anchor="end" fill="#333" stroke="#444" stroke-width="0.12" transform="rotate(-45 259.45 452.80)">May</text>
<line x1="268.90" y1="447.40" x2="268.90" y2="448.70" stroke="#333" stroke-width="0.4"/>
<text x="269.30" y="452.80" font-size="4.3" text-anchor="end" fill="#333" stroke="#444" stroke-width="0.12" transform="rotate(-45 269.30 452.80)">Jun</text>
<line x1="278.76" y1="447.40" x2="278.76" y2="448.70" stroke="#333" stroke-width="0.4"/>
<text x="279.16" y="452.80" font-size="4.3" text-anchor="end" fill="#333" stroke="#444" stroke-width="0.12" transform="rotate(-45 279.16 452.80)">Jul</text>
<line x1="288.61" y1="447.40" x2="288.61" y2="448.70" stroke="#333" stroke-width="0.4"/>
<text x="289.01" y="452.80" font-size="4.3" text-anchor="end" fill="#333" stroke="#444" stroke-width="0.12" transform="rotate(-45 289.01 452.80)">Aug</text>
<line x1="298.47" y1="447.40" x2="298.47" y2="448.70" stroke="#333" stroke-width="0.4"/>
<text x="298.87" y="452.80" font-size="4.3" text-anchor="end" fill="#333" stroke="#444" stroke-width="0.12" transform="rotate(-45 298.87 452.80)">Sep</text>
<line x1="308.32" y1="447.40" x2="308.32" y2="448.70" stroke="#333" stroke-width="0.4"/>
<text x="308.72" y="452.80" font-size="4.3" text-anchor="end" fill="#333" stroke="#444" stroke-width="0.12" transform="rotate(-45 308.72 452.80)">Oct</text>
<line x1="318.17" y1="447.40" x2="318.17" y2="448.70" stroke="#333" stroke-width="0.4"/>
<text x="318.57" y="452.80" font-size="4.3" text-anchor="end" fill="#333" stroke="#444" stroke-width="0.12" transform="rotate(-45 318.57 452.80)">Nov</text>
<rect x="322.57" y="375.30" width="63.32" height="8.30" fill="#D9D9D9"/>
<rect x="322.57" y="375.30" width="63.32" height="8.30" fill="none" stroke="#858585" stroke-width="0.5"/>
<text x="354.24" y="381.95" font-size="4.3" text-anchor="middle" fill="#111" stroke="#111" stroke-width="0.12">2019</text>
<rect x="322.57" y="383.60" width="63.32" height="63.80" fill="#ffffff"/>
<rect x="325.18" y="383.90" width="58.12" height="39.80" fill="#FF4545"/>
<rect x="325.18" y="423.70" width="58.12" height="12.40" fill="#FF9900"/>
<rect x="325.18" y="436.10" width="58.12" height="5.90" fill="#FFFF00"/>
<rect x="325.18" y="442.00" width="58.12" height="2.30" fill="#15AD5B"/>
<rect x="325.18" y="444.30" width="58.12" height="1.60" fill="#1E96DC"/>
<polyline points="326.0,440.1 327.6,439.2 330.1,438.4 330.9,440.9 333.4,440.1 336.7,441.7 338.4,439.2 340.0,437.6 341.7,440.1 343.3,432.6 345.8,438.4 347.5,434.3 348.3,435.9 349.9,433.4 350.8,436.8 351.6,439.2 354.1,437.6 355.7,435.9 357.4,421.9 359.0,429.3 359.9,431.8 360.7,434.3 361.5,431.0 362.3,435.9 363.2,432.6 364.0,430.1 364.8,436.8 365.7,431.8 367.3,429.3 369.0,439.2 370.6,436.8 372.3,437.6 373.9,439.2 375.6,438.4 378.1,440.1 379.7,440.1" fill="none" stroke="#222" stroke-width="0.4" stroke-dasharray="0.6,0.45"/>
<circle cx="326.0" cy="440.1" r="1.02" fill="#000"/>
<circle cx="327.6" cy="439.2" r="1.02" fill="#000"/>
<circle cx="330.1" cy="438.4" r="1.02" fill="#000"/>
<circle cx="330.9" cy="440.9" r="1.02" fill="#000"/>
<circle cx="333.4" cy="440.1" r="1.02" fill="#000"/>
<circle cx="336.7" cy="441.7" r="1.02" fill="#000"/>
<circle cx="338.4" cy="439.2" r="1.02" fill="#000"/>
<circle cx="340.0" cy="437.6" r="1.02" fill="#000"/>
<circle cx="341.7" cy="440.1" r="1.02" fill="#000"/>
<circle cx="343.3" cy="432.6" r="1.02" fill="#000"/>
<circle cx="345.8" cy="438.4" r="1.02" fill="#000"/>
<circle cx="347.5" cy="434.3" r="1.02" fill="#000"/>
<circle cx="348.3" cy="435.9" r="1.02" fill="#000"/>
<circle cx="349.9" cy="433.4" r="1.02" fill="#000"/>
<circle cx="350.8" cy="436.8" r="1.02" fill="#000"/>
<circle cx="351.6" cy="439.2" r="1.02" fill="#000"/>
<circle cx="354.1" cy="437.6" r="1.02" fill="#000"/>
<circle cx="355.7" cy="435.9" r="1.02" fill="#000"/>
<circle cx="357.4" cy="421.9" r="1.02" fill="#000"/>
<circle cx="359.0" cy="429.3" r="1.02" fill="#000"/>
<circle cx="359.9" cy="431.8" r="1.02" fill="#000"/>
<circle cx="360.7" cy="434.3" r="1.02" fill="#000"/>
<circle cx="361.5" cy="431.0" r="1.02" fill="#000"/>
<circle cx="362.3" cy="435.9" r="1.02" fill="#000"/>
<circle cx="363.2" cy="432.6" r="1.02" fill="#000"/>
<circle cx="364.0" cy="430.1" r="1.02" fill="#000"/>
<circle cx="364.8" cy="436.8" r="1.02" fill="#000"/>
<circle cx="365.7" cy="431.8" r="1.02" fill="#000"/>
<circle cx="367.3" cy="429.3" r="1.02" fill="#000"/>
<circle cx="369.0" cy="439.2" r="1.02" fill="#000"/>
<circle cx="370.6" cy="436.8" r="1.02" fill="#000"/>
<circle cx="372.3" cy="437.6" r="1.02" fill="#000"/>
<circle cx="373.9" cy="439.2" r="1.02" fill="#000"/>
<circle cx="375.6" cy="438.4" r="1.02" fill="#000"/>
<circle cx="378.1" cy="440.1" r="1.02" fill="#000"/>
<circle cx="379.7" cy="440.1" r="1.02" fill="#000"/>
<circle cx="362.2" cy="433.2" r="1.02" fill="#000"/>
<circle cx="355.7" cy="437.2" r="1.02" fill="#000"/>
<circle cx="365.8" cy="436.1" r="1.02" fill="#000"/>
<circle cx="362.6" cy="436.1" r="1.02" fill="#000"/>
<circle cx="369.1" cy="436.3" r="1.02" fill="#000"/>
<circle cx="360.5" cy="438.8" r="1.02" fill="#000"/>
<circle cx="360.1" cy="429.0" r="1.02" fill="#000"/>
<circle cx="359.0" cy="434.0" r="1.02" fill="#000"/>
<circle cx="368.8" cy="432.2" r="1.02" fill="#000"/>
<circle cx="365.6" cy="431.2" r="1.02" fill="#000"/>
<circle cx="355.4" cy="439.7" r="1.02" fill="#000"/>
<circle cx="364.2" cy="433.6" r="1.02" fill="#000"/>
<circle cx="365.8" cy="429.6" r="1.02" fill="#000"/>
<circle cx="369.0" cy="431.6" r="1.02" fill="#000"/>
<circle cx="370.3" cy="430.0" r="1.02" fill="#000"/>
<circle cx="362.4" cy="431.7" r="1.02" fill="#000"/>
<circle cx="364.9" cy="428.7" r="1.02" fill="#000"/>
<circle cx="355.9" cy="431.9" r="1.02" fill="#000"/>
<circle cx="355.9" cy="437.8" r="1.02" fill="#000"/>
<circle cx="356.9" cy="431.7" r="1.02" fill="#000"/>
<circle cx="363.4" cy="429.4" r="1.02" fill="#000"/>
<circle cx="370.2" cy="431.5" r="1.02" fill="#000"/>
<circle cx="335.6" cy="441.7" r="1.02" fill="#000"/>
<circle cx="331.2" cy="437.8" r="1.02" fill="#000"/>
<circle cx="336.9" cy="437.4" r="1.02" fill="#000"/>
<circle cx="333.8" cy="441.0" r="1.02" fill="#000"/>
<circle cx="338.7" cy="436.5" r="1.02" fill="#000"/>
<circle cx="348.0" cy="437.4" r="1.02" fill="#000"/>
<circle cx="346.5" cy="436.4" r="1.02" fill="#000"/>
<circle cx="343.1" cy="439.5" r="1.02" fill="#000"/>
<circle cx="341.8" cy="441.9" r="1.02" fill="#000"/>
<circle cx="345.3" cy="438.0" r="1.02" fill="#000"/>
<circle cx="337.9" cy="436.4" r="1.02" fill="#000"/>
<circle cx="342.4" cy="438.4" r="1.02" fill="#000"/>
<circle cx="330.1" cy="442.5" r="0.85" fill="#ff1a1a"/>
<circle cx="358.2" cy="386.3" r="0.85" fill="#ff1a1a"/>
<rect x="322.57" y="383.60" width="63.32" height="63.80" fill="none" stroke="#858585" stroke-width="0.5"/>
<line x1="325.18" y1="447.40" x2="325.18" y2="448.70" stroke="#333" stroke-width="0.4"/>
<text x="325.57" y="452.80" font-size="4.3" text-anchor="end" fill="#333" stroke="#444" stroke-width="0.12" transform="rotate(-45 325.57 452.80)">May</text>
<line x1="335.03" y1="447.40" x2="335.03" y2="448.70" stroke="#333" stroke-width="0.4"/>
<text x="335.43" y="452.80" font-size="4.3" text-anchor="end" fill="#333" stroke="#444" stroke-width="0.12" transform="rotate(-45 335.43 452.80)">Jun</text>
<line x1="344.88" y1="447.40" x2="344.88" y2="448.70" stroke="#333" stroke-width="0.4"/>
<text x="345.28" y="452.80" font-size="4.3" text-anchor="end" fill="#333" stroke="#444" stroke-width="0.12" transform="rotate(-45 345.28 452.80)">Jul</text>
<line x1="354.74" y1="447.40" x2="354.74" y2="448.70" stroke="#333" stroke-width="0.4"/>
<text x="355.14" y="452.80" font-size="4.3" text-anchor="end" fill="#333" stroke="#444" stroke-width="0.12" transform="rotate(-45 355.14 452.80)">Aug</text>
<line x1="364.59" y1="447.40" x2="364.59" y2="448.70" stroke="#333" stroke-width="0.4"/>
<text x="364.99" y="452.80" font-size="4.3" text-anchor="end" fill="#333" stroke="#444" stroke-width="0.12" transform="rotate(-45 364.99 452.80)">Sep</text>
<line x1="374.45" y1="447.40" x2="374.45" y2="448.70" stroke="#333" stroke-width="0.4"/>
<text x="374.85" y="452.80" font-size="4.3" text-anchor="end" fill="#333" stroke="#444" stroke-width="0.12" transform="rotate(-45 374.85 452.80)">Oct</text>
<line x1="384.30" y1="447.40" x2="384.30" y2="448.70" stroke="#333" stroke-width="0.4"/>
<text x="384.70" y="452.80" font-size="4.3" text-anchor="end" fill="#333" stroke="#444" stroke-width="0.12" transform="rotate(-45 384.70 452.80)">Nov</text>
<text x="9.5" y="415.0" font-size="5.0" text-anchor="middle" fill="#000" stroke="#000" stroke-width="0.08" transform="rotate(-90 9.5 415.0)">FBM g/m<tspan font-size="3.4" dy="-1.8">3</tspan></text>
<rect x="20.30" y="461.30" width="90.80" height="8.60" fill="#D9D9D9"/>
<rect x="20.30" y="461.30" width="90.80" height="8.60" fill="none" stroke="#858585" stroke-width="0.5"/>
<text x="65.70" y="468.10" font-size="4.3" text-anchor="middle" fill="#111" stroke="#111" stroke-width="0.12">1966-2019</text>
<rect x="20.30" y="469.90" width="90.80" height="63.30" fill="#ffffff"/>
<rect x="23.70" y="470.30" width="83.20" height="2.50" fill="#1E96DC"/>
<rect x="23.70" y="472.80" width="83.20" height="19.30" fill="#15AD5B"/>
<rect x="23.70" y="492.10" width="83.20" height="18.90" fill="#FFFF00"/>
<rect x="23.70" y="511.00" width="83.20" height="12.10" fill="#FF9900"/>
<rect x="23.70" y="523.10" width="83.20" height="10.10" fill="#FF4545"/>
<line x1="74.6" y1="472.0" x2="74.6" y2="530.0" stroke="#222" stroke-width="0.35" stroke-dasharray="0.7,0.5"/>
<line x1="90.2" y1="488.0" x2="90.2" y2="530.0" stroke="#222" stroke-width="0.35" stroke-dasharray="0.7,0.5"/>
<line x1="83.6" y1="491.0" x2="83.6" y2="530.0" stroke="#222" stroke-width="0.35" stroke-dasharray="0.7,0.5"/>
<line x1="100.4" y1="499.0" x2="100.4" y2="530.0" stroke="#222" stroke-width="0.35" stroke-dasharray="0.7,0.5"/>
<circle cx="27.4" cy="514.6" r="1.02" fill="#000"/>
<circle cx="56.8" cy="511.0" r="1.02" fill="#000"/>
<circle cx="74.6" cy="472.6" r="1.02" fill="#000"/>
<circle cx="71.0" cy="480.4" r="1.02" fill="#000"/>
<circle cx="74.0" cy="480.4" r="1.02" fill="#000"/>
<circle cx="76.4" cy="484.6" r="1.02" fill="#000"/>
<circle cx="74.6" cy="488.2" r="1.02" fill="#000"/>
<circle cx="90.2" cy="488.2" r="1.02" fill="#000"/>
<circle cx="83.6" cy="491.8" r="1.02" fill="#000"/>
<circle cx="85.4" cy="495.4" r="1.02" fill="#000"/>
<circle cx="93.2" cy="495.4" r="1.02" fill="#000"/>
<circle cx="76.4" cy="499.6" r="1.02" fill="#000"/>
<circle cx="81.8" cy="499.6" r="1.02" fill="#000"/>
<circle cx="90.8" cy="500.2" r="1.02" fill="#000"/>
<circle cx="94.4" cy="500.2" r="1.02" fill="#000"/>
<circle cx="100.4" cy="499.6" r="1.02" fill="#000"/>
<circle cx="71.0" cy="503.2" r="1.02" fill="#000"/>
<circle cx="73.4" cy="503.2" r="1.02" fill="#000"/>
<circle cx="80.6" cy="503.8" r="1.02" fill="#000"/>
<circle cx="82.4" cy="503.2" r="1.02" fill="#000"/>
<circle cx="88.4" cy="503.2" r="1.02" fill="#000"/>
<circle cx="91.4" cy="503.2" r="1.02" fill="#000"/>
<circle cx="77.6" cy="507.4" r="1.02" fill="#000"/>
<circle cx="81.2" cy="507.4" r="1.02" fill="#000"/>
<circle cx="84.2" cy="507.4" r="1.02" fill="#000"/>
<circle cx="98.6" cy="507.4" r="1.02" fill="#000"/>
<circle cx="104.0" cy="507.4" r="1.02" fill="#000"/>
<circle cx="85.8" cy="511.1" r="1.02" fill="#000"/>
<circle cx="95.7" cy="510.8" r="1.02" fill="#000"/>
<circle cx="80.4" cy="511.2" r="1.02" fill="#000"/>
<circle cx="85.6" cy="510.8" r="1.02" fill="#000"/>
<circle cx="83.1" cy="510.8" r="1.02" fill="#000"/>
<circle cx="75.6" cy="511.2" r="1.02" fill="#000"/>
<circle cx="98.3" cy="511.2" r="1.02" fill="#000"/>
<circle cx="90.2" cy="510.8" r="1.02" fill="#000"/>
<circle cx="83.9" cy="510.6" r="1.02" fill="#000"/>
<circle cx="93.1" cy="510.8" r="1.02" fill="#000"/>
<circle cx="79.5" cy="511.6" r="1.02" fill="#000"/>
<circle cx="81.0" cy="511.6" r="1.02" fill="#000"/>
<circle cx="89.7" cy="511.3" r="1.02" fill="#000"/>
<circle cx="90.0" cy="510.6" r="1.02" fill="#000"/>
<circle cx="92.6" cy="510.7" r="1.02" fill="#000"/>
<circle cx="83.1" cy="510.6" r="1.02" fill="#000"/>
<circle cx="72.2" cy="510.8" r="1.02" fill="#000"/>
<circle cx="70.8" cy="510.9" r="1.02" fill="#000"/>
<circle cx="96.9" cy="511.6" r="1.02" fill="#000"/>
<circle cx="83.6" cy="510.5" r="1.02" fill="#000"/>
<circle cx="81.2" cy="510.5" r="1.02" fill="#000"/>
<circle cx="77.2" cy="511.1" r="1.02" fill="#000"/>
<circle cx="89.6" cy="510.4" r="1.02" fill="#000"/>
<circle cx="85.6" cy="510.9" r="1.02" fill="#000"/>
<circle cx="82.8" cy="510.6" r="1.02" fill="#000"/>
<circle cx="82.7" cy="510.5" r="1.02" fill="#000"/>
<circle cx="91.8" cy="511.2" r="1.02" fill="#000"/>
<circle cx="90.0" cy="510.9" r="1.02" fill="#000"/>
<circle cx="102.8" cy="514.3" r="1.02" fill="#000"/>
<circle cx="104.1" cy="514.4" r="1.02" fill="#000"/>
<circle cx="88.9" cy="515.1" r="1.02" fill="#000"/>
<circle cx="85.7" cy="514.7" r="1.02" fill="#000"/>
<circle cx="79.8" cy="515.2" r="1.02" fill="#000"/>
<circle cx="104.6" cy="514.3" r="1.02" fill="#000"/>
<circle cx="78.7" cy="514.6" r="1.02" fill="#000"/>
<circle cx="90.6" cy="515.0" r="1.02" fill="#000"/>
<circle cx="85.3" cy="514.7" r="1.02" fill="#000"/>
<circle cx="79.8" cy="514.3" r="1.02" fill="#000"/>
<circle cx="77.4" cy="514.7" r="1.02" fill="#000"/>
<circle cx="91.9" cy="514.8" r="1.02" fill="#000"/>
<circle cx="103.1" cy="514.4" r="1.02" fill="#000"/>
<circle cx="85.3" cy="514.6" r="1.02" fill="#000"/>
<circle cx="103.4" cy="514.4" r="1.02" fill="#000"/>
<circle cx="83.7" cy="514.6" r="1.02" fill="#000"/>
<circle cx="95.7" cy="514.4" r="1.02" fill="#000"/>
<circle cx="80.2" cy="514.9" r="1.02" fill="#000"/>
<circle cx="92.3" cy="514.7" r="1.02" fill="#000"/>
<circle cx="75.4" cy="514.4" r="1.02" fill="#000"/>
<circle cx="78.1" cy="514.5" r="1.02" fill="#000"/>
<circle cx="102.2" cy="515.2" r="1.02" fill="#000"/>
<circle cx="90.2" cy="518.0" r="1.02" fill="#000"/>
<circle cx="103.4" cy="518.2" r="1.02" fill="#000"/>
<circle cx="80.1" cy="518.5" r="1.02" fill="#000"/>
<circle cx="79.7" cy="517.9" r="1.02" fill="#000"/>
<circle cx="79.7" cy="518.4" r="1.02" fill="#000"/>
<circle cx="101.5" cy="518.4" r="1.02" fill="#000"/>
<circle cx="83.9" cy="518.6" r="1.02" fill="#000"/>
<circle cx="102.4" cy="518.1" r="1.02" fill="#000"/>
<circle cx="85.4" cy="518.4" r="1.02" fill="#000"/>
<circle cx="105.2" cy="518.7" r="1.02" fill="#000"/>
<circle cx="102.5" cy="518.5" r="1.02" fill="#000"/>
<circle cx="84.1" cy="518.4" r="1.02" fill="#000"/>
<circle cx="89.8" cy="518.4" r="1.02" fill="#000"/>
<circle cx="91.4" cy="517.9" r="1.02" fill="#000"/>
<circle cx="103.1" cy="517.7" r="1.02" fill="#000"/>
<circle cx="87.3" cy="518.1" r="1.02" fill="#000"/>
<circle cx="105.0" cy="517.8" r="1.02" fill="#000"/>
<circle cx="94.0" cy="518.7" r="1.02" fill="#000"/>
<circle cx="95.0" cy="518.7" r="1.02" fill="#000"/>
<circle cx="88.8" cy="518.2" r="1.02" fill="#000"/>
<circle cx="88.1" cy="518.1" r="1.02" fill="#000"/>
<circle cx="87.5" cy="517.8" r="1.02" fill="#000"/>
<circle cx="89.8" cy="522.0" r="1.02" fill="#000"/>
<circle cx="87.5" cy="522.3" r="1.02" fill="#000"/>
<circle cx="75.5" cy="522.4" r="1.02" fill="#000"/>
<circle cx="96.8" cy="522.2" r="1.02" fill="#000"/>
<circle cx="99.9" cy="521.5" r="1.02" fill="#000"/>
<circle cx="100.4" cy="522.0" r="1.02" fill="#000"/>
<circle cx="79.6" cy="522.2" r="1.02" fill="#000"/>
<circle cx="88.6" cy="522.1" r="1.02" fill="#000"/>
<circle cx="77.6" cy="522.0" r="1.02" fill="#000"/>
<circle cx="75.2" cy="521.4" r="1.02" fill="#000"/>
<circle cx="78.3" cy="521.4" r="1.02" fill="#000"/>
<circle cx="93.3" cy="521.5" r="1.02" fill="#000"/>
<circle cx="81.1" cy="522.2" r="1.02" fill="#000"/>
<circle cx="98.9" cy="521.7" r="1.02" fill="#000"/>
<circle cx="81.6" cy="522.1" r="1.02" fill="#000"/>
<circle cx="92.0" cy="521.7" r="1.02" fill="#000"/>
<circle cx="84.5" cy="521.7" r="1.02" fill="#000"/>
<circle cx="90.1" cy="521.5" r="1.02" fill="#000"/>
<circle cx="90.2" cy="525.8" r="1.02" fill="#000"/>
<circle cx="101.8" cy="526.0" r="1.02" fill="#000"/>
<circle cx="93.3" cy="526.1" r="1.02" fill="#000"/>
<circle cx="88.2" cy="526.2" r="1.02" fill="#000"/>
<circle cx="103.3" cy="525.6" r="1.02" fill="#000"/>
<circle cx="94.1" cy="525.8" r="1.02" fill="#000"/>
<circle cx="96.7" cy="526.2" r="1.02" fill="#000"/>
<circle cx="80.2" cy="525.6" r="1.02" fill="#000"/>
<circle cx="93.3" cy="526.4" r="1.02" fill="#000"/>
<circle cx="100.5" cy="526.4" r="1.02" fill="#000"/>
<circle cx="82.7" cy="525.9" r="1.02" fill="#000"/>
<circle cx="94.6" cy="525.9" r="1.02" fill="#000"/>
<circle cx="85.2" cy="526.5" r="1.02" fill="#000"/>
<circle cx="96.2" cy="525.9" r="1.02" fill="#000"/>
<circle cx="80.8" cy="529.6" r="1.02" fill="#000"/>
<circle cx="85.4" cy="529.6" r="1.02" fill="#000"/>
<circle cx="85.7" cy="530.0" r="1.02" fill="#000"/>
<circle cx="93.6" cy="529.9" r="1.02" fill="#000"/>
<circle cx="103.1" cy="529.6" r="1.02" fill="#000"/>
<circle cx="91.2" cy="529.2" r="1.02" fill="#000"/>
<circle cx="99.4" cy="529.2" r="1.02" fill="#000"/>
<circle cx="88.4" cy="529.3" r="1.02" fill="#000"/>
<circle cx="97.9" cy="529.6" r="1.02" fill="#000"/>
<rect x="20.30" y="469.90" width="90.80" height="63.30" fill="none" stroke="#858585" stroke-width="0.5"/>
<line x1="19.00" y1="529.90" x2="20.30" y2="529.90" stroke="#333" stroke-width="0.4"/>
<text x="18.40" y="531.40" font-size="4.3" text-anchor="end" fill="#333" stroke="#444" stroke-width="0.12">0.5</text>
<line x1="19.00" y1="511.00" x2="20.30" y2="511.00" stroke="#333" stroke-width="0.4"/>
<text x="18.40" y="512.50" font-size="4.3" text-anchor="end" fill="#333" stroke="#444" stroke-width="0.12">1.0</text>
<line x1="19.00" y1="492.10" x2="20.30" y2="492.10" stroke="#333" stroke-width="0.4"/>
<text x="18.40" y="493.60" font-size="4.3" text-anchor="end" fill="#333" stroke="#444" stroke-width="0.12">1.5</text>
<line x1="19.00" y1="473.20" x2="20.30" y2="473.20" stroke="#333" stroke-width="0.4"/>
<text x="18.40" y="474.70" font-size="4.3" text-anchor="end" fill="#333" stroke="#444" stroke-width="0.12">2.0</text>
<line x1="28.60" y1="533.20" x2="28.60" y2="534.50" stroke="#333" stroke-width="0.4"/>
<text x="29.00" y="538.60" font-size="4.3" text-anchor="end" fill="#333" stroke="#444" stroke-width="0.12" transform="rotate(-45 29.00 538.60)">1971</text>
<line x1="38.14" y1="533.20" x2="38.14" y2="534.50" stroke="#333" stroke-width="0.4"/>
<text x="38.54" y="538.60" font-size="4.3" text-anchor="end" fill="#333" stroke="#444" stroke-width="0.12" transform="rotate(-45 38.54 538.60)">1977</text>
<line x1="47.68" y1="533.20" x2="47.68" y2="534.50" stroke="#333" stroke-width="0.4"/>
<text x="48.08" y="538.60" font-size="4.3" text-anchor="end" fill="#333" stroke="#444" stroke-width="0.12" transform="rotate(-45 48.08 538.60)">1983</text>
<line x1="57.22" y1="533.20" x2="57.22" y2="534.50" stroke="#333" stroke-width="0.4"/>
<text x="57.62" y="538.60" font-size="4.3" text-anchor="end" fill="#333" stroke="#444" stroke-width="0.12" transform="rotate(-45 57.62 538.60)">1989</text>
<line x1="66.76" y1="533.20" x2="66.76" y2="534.50" stroke="#333" stroke-width="0.4"/>
<text x="67.16" y="538.60" font-size="4.3" text-anchor="end" fill="#333" stroke="#444" stroke-width="0.12" transform="rotate(-45 67.16 538.60)">1995</text>
<line x1="76.30" y1="533.20" x2="76.30" y2="534.50" stroke="#333" stroke-width="0.4"/>
<text x="76.70" y="538.60" font-size="4.3" text-anchor="end" fill="#333" stroke="#444" stroke-width="0.12" transform="rotate(-45 76.70 538.60)">2001</text>
<line x1="85.84" y1="533.20" x2="85.84" y2="534.50" stroke="#333" stroke-width="0.4"/>
<text x="86.24" y="538.60" font-size="4.3" text-anchor="end" fill="#333" stroke="#444" stroke-width="0.12" transform="rotate(-45 86.24 538.60)">2007</text>
<line x1="95.38" y1="533.20" x2="95.38" y2="534.50" stroke="#333" stroke-width="0.4"/>
<text x="95.78" y="538.60" font-size="4.3" text-anchor="end" fill="#333" stroke="#444" stroke-width="0.12" transform="rotate(-45 95.78 538.60)">2013</text>
<line x1="104.92" y1="533.20" x2="104.92" y2="534.50" stroke="#333" stroke-width="0.4"/>
<text x="105.32" y="538.60" font-size="4.3" text-anchor="end" fill="#333" stroke="#444" stroke-width="0.12" transform="rotate(-45 105.32 538.60)">2019</text>
<rect x="124.40" y="461.30" width="63.50" height="8.60" fill="#D9D9D9"/>
<rect x="124.40" y="461.30" width="63.50" height="8.60" fill="none" stroke="#858585" stroke-width="0.5"/>
<text x="156.15" y="468.10" font-size="4.3" text-anchor="middle" fill="#111" stroke="#111" stroke-width="0.12">2016</text>
<rect x="124.40" y="469.90" width="63.50" height="64.00" fill="#ffffff"/>
<rect x="127.10" y="470.30" width="58.10" height="15.20" fill="#1E96DC"/>
<rect x="127.10" y="485.50" width="58.10" height="14.60" fill="#15AD5B"/>
<rect x="127.10" y="500.10" width="58.10" height="14.20" fill="#FFFF00"/>
<rect x="127.10" y="514.30" width="58.10" height="8.80" fill="#FF9900"/>
<rect x="127.10" y="523.10" width="58.10" height="10.50" fill="#FF4545"/>
<polyline points="127.4,485.8 128.2,496.7 128.2,499.2 129.0,490.8 129.9,484.1 129.9,493.3 130.7,495.9 130.7,503.4 131.6,500.9 132.4,505.1 133.2,496.7 134.9,497.5 135.8,490.8 136.6,496.7 137.4,487.5 138.3,501.7 139.1,513.5 143.3,505.1 146.7,505.1 148.3,516.0 150.9,495.9 151.7,489.2 155.1,481.6 156.7,511.0 159.3,508.5 162.6,505.9 164.3,499.2 165.1,507.6 167.7,499.2 168.5,506.8 169.3,509.3 171.0,508.5 172.7,506.8 175.2,502.6 176.9,508.5 181.9,497.5 183.6,500.1" fill="none" stroke="#222" stroke-width="0.4" stroke-dasharray="0.6,0.45"/>
<circle cx="127.4" cy="485.8" r="1.02" fill="#000"/>
<circle cx="129.9" cy="484.1" r="1.02" fill="#000"/>
<circle cx="129.0" cy="490.8" r="1.02" fill="#000"/>
<circle cx="129.9" cy="493.3" r="1.02" fill="#000"/>
<circle cx="128.2" cy="496.7" r="1.02" fill="#000"/>
<circle cx="128.2" cy="499.2" r="1.02" fill="#000"/>
<circle cx="130.7" cy="495.9" r="1.02" fill="#000"/>
<circle cx="131.6" cy="500.9" r="1.02" fill="#000"/>
<circle cx="130.7" cy="503.4" r="1.02" fill="#000"/>
<circle cx="132.4" cy="505.1" r="1.02" fill="#000"/>
<circle cx="133.2" cy="496.7" r="1.02" fill="#000"/>
<circle cx="134.9" cy="497.5" r="1.02" fill="#000"/>
<circle cx="135.8" cy="490.8" r="1.02" fill="#000"/>
<circle cx="136.6" cy="496.7" r="1.02" fill="#000"/>
<circle cx="137.4" cy="487.5" r="1.02" fill="#000"/>
<circle cx="138.3" cy="501.7" r="1.02" fill="#000"/>
<circle cx="139.1" cy="513.5" r="1.02" fill="#000"/>
<circle cx="143.3" cy="505.1" r="1.02" fill="#000"/>
<circle cx="146.7" cy="505.1" r="1.02" fill="#000"/>
<circle cx="148.3" cy="516.0" r="1.02" fill="#000"/>
<circle cx="150.9" cy="495.9" r="1.02" fill="#000"/>
<circle cx="151.7" cy="489.2" r="1.02" fill="#000"/>
<circle cx="155.1" cy="481.6" r="1.02" fill="#000"/>
<circle cx="156.7" cy="511.0" r="1.02" fill="#000"/>
<circle cx="159.3" cy="508.5" r="1.02" fill="#000"/>
<circle cx="162.6" cy="505.9" r="1.02" fill="#000"/>
<circle cx="164.3" cy="499.2" r="1.02" fill="#000"/>
<circle cx="165.1" cy="507.6" r="1.02" fill="#000"/>
<circle cx="167.7" cy="499.2" r="1.02" fill="#000"/>
<circle cx="168.5" cy="506.8" r="1.02" fill="#000"/>
<circle cx="169.3" cy="509.3" r="1.02" fill="#000"/>
<circle cx="171.0" cy="508.5" r="1.02" fill="#000"/>
<circle cx="172.7" cy="506.8" r="1.02" fill="#000"/>
<circle cx="175.2" cy="502.6" r="1.02" fill="#000"/>
<circle cx="176.9" cy="508.5" r="1.02" fill="#000"/>
<circle cx="181.9" cy="497.5" r="1.02" fill="#000"/>
<circle cx="183.6" cy="500.1" r="1.02" fill="#000"/>
<circle cx="160.9" cy="519.4" r="0.85" fill="#ff1a1a"/>
<rect x="124.40" y="469.90" width="63.50" height="64.00" fill="none" stroke="#858585" stroke-width="0.5"/>
<line x1="123.10" y1="528.50" x2="124.40" y2="528.50" stroke="#333" stroke-width="0.4"/>
<text x="122.50" y="530.00" font-size="4.3" text-anchor="end" fill="#333" stroke="#444" stroke-width="0.12">0.5</text>
<line x1="123.10" y1="514.30" x2="124.40" y2="514.30" stroke="#333" stroke-width="0.4"/>
<text x="122.50" y="515.80" font-size="4.3" text-anchor="end" fill="#333" stroke="#444" stroke-width="0.12">1.0</text>
<line x1="123.10" y1="500.10" x2="124.40" y2="500.10" stroke="#333" stroke-width="0.4"/>
<text x="122.50" y="501.60" font-size="4.3" text-anchor="end" fill="#333" stroke="#444" stroke-width="0.12">1.5</text>
<line x1="123.10" y1="485.90" x2="124.40" y2="485.90" stroke="#333" stroke-width="0.4"/>
<text x="122.50" y="487.40" font-size="4.3" text-anchor="end" fill="#333" stroke="#444" stroke-width="0.12">2.0</text>
<line x1="123.10" y1="471.70" x2="124.40" y2="471.70" stroke="#333" stroke-width="0.4"/>
<text x="122.50" y="473.20" font-size="4.3" text-anchor="end" fill="#333" stroke="#444" stroke-width="0.12">2.5</text>
<line x1="128.60" y1="533.90" x2="128.60" y2="535.20" stroke="#333" stroke-width="0.4"/>
<text x="129.00" y="539.30" font-size="4.3" text-anchor="end" fill="#333" stroke="#444" stroke-width="0.12" transform="rotate(-45 129.00 539.30)">May</text>
<line x1="138.45" y1="533.90" x2="138.45" y2="535.20" stroke="#333" stroke-width="0.4"/>
<text x="138.85" y="539.30" font-size="4.3" text-anchor="end" fill="#333" stroke="#444" stroke-width="0.12" transform="rotate(-45 138.85 539.30)">Jun</text>
<line x1="148.30" y1="533.90" x2="148.30" y2="535.20" stroke="#333" stroke-width="0.4"/>
<text x="148.70" y="539.30" font-size="4.3" text-anchor="end" fill="#333" stroke="#444" stroke-width="0.12" transform="rotate(-45 148.70 539.30)">Jul</text>
<line x1="158.15" y1="533.90" x2="158.15" y2="535.20" stroke="#333" stroke-width="0.4"/>
<text x="158.55" y="539.30" font-size="4.3" text-anchor="end" fill="#333" stroke="#444" stroke-width="0.12" transform="rotate(-45 158.55 539.30)">Aug</text>
<line x1="168.00" y1="533.90" x2="168.00" y2="535.20" stroke="#333" stroke-width="0.4"/>
<text x="168.40" y="539.30" font-size="4.3" text-anchor="end" fill="#333" stroke="#444" stroke-width="0.12" transform="rotate(-45 168.40 539.30)">Sep</text>
<line x1="177.85" y1="533.90" x2="177.85" y2="535.20" stroke="#333" stroke-width="0.4"/>
<text x="178.25" y="539.30" font-size="4.3" text-anchor="end" fill="#333" stroke="#444" stroke-width="0.12" transform="rotate(-45 178.25 539.30)">Oct</text>
<line x1="187.70" y1="533.90" x2="187.70" y2="535.20" stroke="#333" stroke-width="0.4"/>
<text x="188.10" y="539.30" font-size="4.3" text-anchor="end" fill="#333" stroke="#444" stroke-width="0.12" transform="rotate(-45 188.10 539.30)">Nov</text>
<rect x="190.90" y="461.30" width="63.50" height="8.60" fill="#D9D9D9"/>
<rect x="190.90" y="461.30" width="63.50" height="8.60" fill="none" stroke="#858585" stroke-width="0.5"/>
<text x="222.65" y="468.10" font-size="4.3" text-anchor="middle" fill="#111" stroke="#111" stroke-width="0.12">2017</text>
<rect x="190.90" y="469.90" width="63.50" height="64.00" fill="#ffffff"/>
<rect x="193.60" y="470.30" width="58.10" height="15.20" fill="#1E96DC"/>
<rect x="193.60" y="485.50" width="58.10" height="14.60" fill="#15AD5B"/>
<rect x="193.60" y="500.10" width="58.10" height="14.20" fill="#FFFF00"/>
<rect x="193.60" y="514.30" width="58.10" height="8.80" fill="#FF9900"/>
<rect x="193.60" y="523.10" width="58.10" height="10.50" fill="#FF4545"/>
<polyline points="194.2,514.3 195.9,514.3 196.7,505.1 197.6,511.0 199.2,506.8 200.9,503.4 202.6,506.8 203.4,507.6 205.1,502.6 206.0,493.3 207.6,511.8 208.5,505.1 212.7,491.7 213.5,505.1 215.2,505.9 216.0,507.6 216.9,505.1 219.4,507.6 221.1,509.3 221.9,510.1 223.6,511.0 225.3,509.3 226.1,507.6 227.8,510.1 232.0,512.7 232.8,518.5 234.5,521.1 239.5,514.3 241.2,512.7 247.1,505.9 248.8,513.5 249.6,507.6" fill="none" stroke="#222" stroke-width="0.4" stroke-dasharray="0.6,0.45"/>
<circle cx="194.2" cy="514.3" r="1.02" fill="#000"/>
<circle cx="195.9" cy="514.3" r="1.02" fill="#000"/>
<circle cx="196.7" cy="505.1" r="1.02" fill="#000"/>
<circle cx="197.6" cy="511.0" r="1.02" fill="#000"/>
<circle cx="199.2" cy="506.8" r="1.02" fill="#000"/>
<circle cx="200.9" cy="503.4" r="1.02" fill="#000"/>
<circle cx="202.6" cy="506.8" r="1.02" fill="#000"/>
<circle cx="203.4" cy="507.6" r="1.02" fill="#000"/>
<circle cx="205.1" cy="502.6" r="1.02" fill="#000"/>
<circle cx="206.0" cy="493.3" r="1.02" fill="#000"/>
<circle cx="207.6" cy="511.8" r="1.02" fill="#000"/>
<circle cx="208.5" cy="505.1" r="1.02" fill="#000"/>
<circle cx="212.7" cy="491.7" r="1.02" fill="#000"/>
<circle cx="213.5" cy="505.1" r="1.02" fill="#000"/>
<circle cx="215.2" cy="505.9" r="1.02" fill="#000"/>
<circle cx="216.0" cy="507.6" r="1.02" fill="#000"/>
<circle cx="216.9" cy="505.1" r="1.02" fill="#000"/>
<circle cx="219.4" cy="507.6" r="1.02" fill="#000"/>
<circle cx="221.1" cy="509.3" r="1.02" fill="#000"/>
<circle cx="221.9" cy="510.1" r="1.02" fill="#000"/>
<circle cx="223.6" cy="511.0" r="1.02" fill="#000"/>
<circle cx="225.3" cy="509.3" r="1.02" fill="#000"/>
<circle cx="226.1" cy="507.6" r="1.02" fill="#000"/>
<circle cx="227.8" cy="510.1" r="1.02" fill="#000"/>
<circle cx="232.0" cy="512.7" r="1.02" fill="#000"/>
<circle cx="232.8" cy="518.5" r="1.02" fill="#000"/>
<circle cx="234.5" cy="521.1" r="1.02" fill="#000"/>
<circle cx="239.5" cy="514.3" r="1.02" fill="#000"/>
<circle cx="241.2" cy="512.7" r="1.02" fill="#000"/>
<circle cx="247.1" cy="505.9" r="1.02" fill="#000"/>
<circle cx="248.8" cy="513.5" r="1.02" fill="#000"/>
<circle cx="249.6" cy="507.6" r="1.02" fill="#000"/>
<circle cx="225.3" cy="524.4" r="0.85" fill="#ff1a1a"/>
<rect x="190.90" y="469.90" width="63.50" height="64.00" fill="none" stroke="#858585" stroke-width="0.5"/>
<line x1="195.10" y1="533.90" x2="195.10" y2="535.20" stroke="#333" stroke-width="0.4"/>
<text x="195.50" y="539.30" font-size="4.3" text-anchor="end" fill="#333" stroke="#444" stroke-width="0.12" transform="rotate(-45 195.50 539.30)">May</text>
<line x1="204.95" y1="533.90" x2="204.95" y2="535.20" stroke="#333" stroke-width="0.4"/>
<text x="205.35" y="539.30" font-size="4.3" text-anchor="end" fill="#333" stroke="#444" stroke-width="0.12" transform="rotate(-45 205.35 539.30)">Jun</text>
<line x1="214.80" y1="533.90" x2="214.80" y2="535.20" stroke="#333" stroke-width="0.4"/>
<text x="215.20" y="539.30" font-size="4.3" text-anchor="end" fill="#333" stroke="#444" stroke-width="0.12" transform="rotate(-45 215.20 539.30)">Jul</text>
<line x1="224.65" y1="533.90" x2="224.65" y2="535.20" stroke="#333" stroke-width="0.4"/>
<text x="225.05" y="539.30" font-size="4.3" text-anchor="end" fill="#333" stroke="#444" stroke-width="0.12" transform="rotate(-45 225.05 539.30)">Aug</text>
<line x1="234.50" y1="533.90" x2="234.50" y2="535.20" stroke="#333" stroke-width="0.4"/>
<text x="234.90" y="539.30" font-size="4.3" text-anchor="end" fill="#333" stroke="#444" stroke-width="0.12" transform="rotate(-45 234.90 539.30)">Sep</text>
<line x1="244.35" y1="533.90" x2="244.35" y2="535.20" stroke="#333" stroke-width="0.4"/>
<text x="244.75" y="539.30" font-size="4.3" text-anchor="end" fill="#333" stroke="#444" stroke-width="0.12" transform="rotate(-45 244.75 539.30)">Oct</text>
<line x1="254.20" y1="533.90" x2="254.20" y2="535.20" stroke="#333" stroke-width="0.4"/>
<text x="254.60" y="539.30" font-size="4.3" text-anchor="end" fill="#333" stroke="#444" stroke-width="0.12" transform="rotate(-45 254.60 539.30)">Nov</text>
<rect x="257.40" y="461.30" width="63.50" height="8.60" fill="#D9D9D9"/>
<rect x="257.40" y="461.30" width="63.50" height="8.60" fill="none" stroke="#858585" stroke-width="0.5"/>
<text x="289.15" y="468.10" font-size="4.3" text-anchor="middle" fill="#111" stroke="#111" stroke-width="0.12">2018</text>
<rect x="257.40" y="469.90" width="63.50" height="64.00" fill="#ffffff"/>
<rect x="260.10" y="470.30" width="58.10" height="15.20" fill="#1E96DC"/>
<rect x="260.10" y="485.50" width="58.10" height="14.60" fill="#15AD5B"/>
<rect x="260.10" y="500.10" width="58.10" height="14.20" fill="#FFFF00"/>
<rect x="260.10" y="514.30" width="58.10" height="8.80" fill="#FF9900"/>
<rect x="260.10" y="523.10" width="58.10" height="10.50" fill="#FF4545"/>
<polyline points="261.0,514.3 261.9,516.0 262.7,516.9 263.6,510.1 265.2,489.2 266.1,517.7 266.9,506.8 267.8,503.4 268.6,499.2 269.4,512.7 270.3,505.1 271.1,501.7 272.0,508.5 272.8,509.3 274.5,500.9 276.2,514.3 277.8,503.4 281.2,506.8 283.7,496.7 284.5,505.1 285.4,507.6 287.1,499.2 287.9,501.7 289.6,503.4 290.4,508.5 291.3,504.3 292.1,505.1 292.9,500.1 296.3,510.1 298.0,512.7 299.7,503.4 303.9,501.7 304.7,497.5 305.5,479.9 307.2,500.9 308.1,514.3 308.9,494.2 313.1,489.2 313.1,495.9 313.9,483.3 315.6,485.0" fill="none" stroke="#222" stroke-width="0.4" stroke-dasharray="0.6,0.45"/>
<circle cx="261.0" cy="514.3" r="1.02" fill="#000"/>
<circle cx="261.9" cy="516.0" r="1.02" fill="#000"/>
<circle cx="262.7" cy="516.9" r="1.02" fill="#000"/>
<circle cx="263.6" cy="510.1" r="1.02" fill="#000"/>
<circle cx="265.2" cy="489.2" r="1.02" fill="#000"/>
<circle cx="266.1" cy="517.7" r="1.02" fill="#000"/>
<circle cx="266.9" cy="506.8" r="1.02" fill="#000"/>
<circle cx="267.8" cy="503.4" r="1.02" fill="#000"/>
<circle cx="268.6" cy="499.2" r="1.02" fill="#000"/>
<circle cx="269.4" cy="512.7" r="1.02" fill="#000"/>
<circle cx="270.3" cy="505.1" r="1.02" fill="#000"/>
<circle cx="271.1" cy="501.7" r="1.02" fill="#000"/>
<circle cx="272.0" cy="508.5" r="1.02" fill="#000"/>
<circle cx="272.8" cy="509.3" r="1.02" fill="#000"/>
<circle cx="274.5" cy="500.9" r="1.02" fill="#000"/>
<circle cx="276.2" cy="514.3" r="1.02" fill="#000"/>
<circle cx="277.8" cy="503.4" r="1.02" fill="#000"/>
<circle cx="281.2" cy="506.8" r="1.02" fill="#000"/>
<circle cx="283.7" cy="496.7" r="1.02" fill="#000"/>
<circle cx="284.5" cy="505.1" r="1.02" fill="#000"/>
<circle cx="285.4" cy="507.6" r="1.02" fill="#000"/>
<circle cx="287.1" cy="499.2" r="1.02" fill="#000"/>
<circle cx="287.9" cy="501.7" r="1.02" fill="#000"/>
<circle cx="289.6" cy="503.4" r="1.02" fill="#000"/>
<circle cx="290.4" cy="508.5" r="1.02" fill="#000"/>
<circle cx="291.3" cy="504.3" r="1.02" fill="#000"/>
<circle cx="292.1" cy="505.1" r="1.02" fill="#000"/>
<circle cx="292.9" cy="500.1" r="1.02" fill="#000"/>
<circle cx="296.3" cy="510.1" r="1.02" fill="#000"/>
<circle cx="298.0" cy="512.7" r="1.02" fill="#000"/>
<circle cx="299.7" cy="503.4" r="1.02" fill="#000"/>
<circle cx="303.9" cy="501.7" r="1.02" fill="#000"/>
<circle cx="304.7" cy="497.5" r="1.02" fill="#000"/>
<circle cx="305.5" cy="479.9" r="1.02" fill="#000"/>
<circle cx="307.2" cy="500.9" r="1.02" fill="#000"/>
<circle cx="308.1" cy="514.3" r="1.02" fill="#000"/>
<circle cx="308.9" cy="494.2" r="1.02" fill="#000"/>
<circle cx="313.1" cy="495.9" r="1.02" fill="#000"/>
<circle cx="313.1" cy="489.2" r="1.02" fill="#000"/>
<circle cx="313.9" cy="483.3" r="1.02" fill="#000"/>
<circle cx="315.6" cy="485.0" r="1.02" fill="#000"/>
<circle cx="265.2" cy="511.0" r="0.85" fill="#ff1a1a"/>
<circle cx="296.3" cy="522.7" r="0.85" fill="#ff1a1a"/>
<circle cx="313.1" cy="519.4" r="0.85" fill="#ff1a1a"/>
<rect x="257.40" y="469.90" width="63.50" height="64.00" fill="none" stroke="#858585" stroke-width="0.5"/>
<line x1="261.60" y1="533.90" x2="261.60" y2="535.20" stroke="#333" stroke-width="0.4"/>
<text x="262.00" y="539.30" font-size="4.3" text-anchor="end" fill="#333" stroke="#444" stroke-width="0.12" transform="rotate(-45 262.00 539.30)">May</text>
<line x1="271.45" y1="533.90" x2="271.45" y2="535.20" stroke="#333" stroke-width="0.4"/>
<text x="271.85" y="539.30" font-size="4.3" text-anchor="end" fill="#333" stroke="#444" stroke-width="0.12" transform="rotate(-45 271.85 539.30)">Jun</text>
<line x1="281.30" y1="533.90" x2="281.30" y2="535.20" stroke="#333" stroke-width="0.4"/>
<text x="281.70" y="539.30" font-size="4.3" text-anchor="end" fill="#333" stroke="#444" stroke-width="0.12" transform="rotate(-45 281.70 539.30)">Jul</text>
<line x1="291.15" y1="533.90" x2="291.15" y2="535.20" stroke="#333" stroke-width="0.4"/>
<text x="291.55" y="539.30" font-size="4.3" text-anchor="end" fill="#333" stroke="#444" stroke-width="0.12" transform="rotate(-45 291.55 539.30)">Aug</text>
<line x1="301.00" y1="533.90" x2="301.00" y2="535.20" stroke="#333" stroke-width="0.4"/>
<text x="301.40" y="539.30" font-size="4.3" text-anchor="end" fill="#333" stroke="#444" stroke-width="0.12" transform="rotate(-45 301.40 539.30)">Sep</text>
<line x1="310.85" y1="533.90" x2="310.85" y2="535.20" stroke="#333" stroke-width="0.4"/>
<text x="311.25" y="539.30" font-size="4.3" text-anchor="end" fill="#333" stroke="#444" stroke-width="0.12" transform="rotate(-45 311.25 539.30)">Oct</text>
<line x1="320.70" y1="533.90" x2="320.70" y2="535.20" stroke="#333" stroke-width="0.4"/>
<text x="321.10" y="539.30" font-size="4.3" text-anchor="end" fill="#333" stroke="#444" stroke-width="0.12" transform="rotate(-45 321.10 539.30)">Nov</text>
<rect x="323.90" y="461.30" width="63.50" height="8.60" fill="#D9D9D9"/>
<rect x="323.90" y="461.30" width="63.50" height="8.60" fill="none" stroke="#858585" stroke-width="0.5"/>
<text x="355.65" y="468.10" font-size="4.3" text-anchor="middle" fill="#111" stroke="#111" stroke-width="0.12">2019</text>
<rect x="323.90" y="469.90" width="63.50" height="64.00" fill="#ffffff"/>
<rect x="326.60" y="470.30" width="58.10" height="15.20" fill="#1E96DC"/>
<rect x="326.60" y="485.50" width="58.10" height="14.60" fill="#15AD5B"/>
<rect x="326.60" y="500.10" width="58.10" height="14.20" fill="#FFFF00"/>
<rect x="326.60" y="514.30" width="58.10" height="8.80" fill="#FF9900"/>
<rect x="326.60" y="523.10" width="58.10" height="10.50" fill="#FF4545"/>
<polyline points="327.0,499.2 327.9,494.2 328.7,481.6 329.6,492.5 330.4,500.9 331.2,504.3 332.1,495.0 332.9,473.2 333.8,488.3 336.3,500.1 337.1,498.4 338.0,485.8 338.0,493.3 338.8,484.1 340.5,496.7 341.3,498.4 342.2,500.1 343.8,500.1 345.5,509.3 346.3,514.3 346.3,517.7 347.2,505.1 348.0,504.3 351.4,497.5 352.2,501.7 353.9,502.6 354.7,508.5 363.1,508.5 364.0,492.5 364.8,510.1 365.7,511.8 366.5,505.1 367.3,508.5 369.0,517.7 369.9,519.4 370.7,495.0 372.4,496.7 373.2,509.3 374.1,495.0 375.7,512.7 375.7,516.9 376.6,506.8 378.3,499.2 379.9,483.3 379.9,504.3 383.3,511.8 384.1,497.5" fill="none" stroke="#222" stroke-width="0.4" stroke-dasharray="0.6,0.45"/>
<circle cx="327.0" cy="499.2" r="1.02" fill="#000"/>
<circle cx="327.9" cy="494.2" r="1.02" fill="#000"/>
<circle cx="328.7" cy="481.6" r="1.02" fill="#000"/>
<circle cx="329.6" cy="492.5" r="1.02" fill="#000"/>
<circle cx="330.4" cy="500.9" r="1.02" fill="#000"/>
<circle cx="331.2" cy="504.3" r="1.02" fill="#000"/>
<circle cx="332.1" cy="495.0" r="1.02" fill="#000"/>
<circle cx="332.9" cy="473.2" r="1.02" fill="#000"/>
<circle cx="333.8" cy="488.3" r="1.02" fill="#000"/>
<circle cx="336.3" cy="500.1" r="1.02" fill="#000"/>
<circle cx="337.1" cy="498.4" r="1.02" fill="#000"/>
<circle cx="338.0" cy="485.8" r="1.02" fill="#000"/>
<circle cx="338.8" cy="484.1" r="1.02" fill="#000"/>
<circle cx="338.0" cy="493.3" r="1.02" fill="#000"/>
<circle cx="340.5" cy="496.7" r="1.02" fill="#000"/>
<circle cx="341.3" cy="498.4" r="1.02" fill="#000"/>
<circle cx="342.2" cy="500.1" r="1.02" fill="#000"/>
<circle cx="343.8" cy="500.1" r="1.02" fill="#000"/>
<circle cx="345.5" cy="509.3" r="1.02" fill="#000"/>
<circle cx="346.3" cy="514.3" r="1.02" fill="#000"/>
<circle cx="346.3" cy="517.7" r="1.02" fill="#000"/>
<circle cx="347.2" cy="505.1" r="1.02" fill="#000"/>
<circle cx="348.0" cy="504.3" r="1.02" fill="#000"/>
<circle cx="351.4" cy="497.5" r="1.02" fill="#000"/>
<circle cx="352.2" cy="501.7" r="1.02" fill="#000"/>
<circle cx="353.9" cy="502.6" r="1.02" fill="#000"/>
<circle cx="354.7" cy="508.5" r="1.02" fill="#000"/>
<circle cx="363.1" cy="508.5" r="1.02" fill="#000"/>
<circle cx="364.0" cy="492.5" r="1.02" fill="#000"/>
<circle cx="364.8" cy="510.1" r="1.02" fill="#000"/>
<circle cx="365.7" cy="511.8" r="1.02" fill="#000"/>
<circle cx="366.5" cy="505.1" r="1.02" fill="#000"/>
<circle cx="367.3" cy="508.5" r="1.02" fill="#000"/>
<circle cx="369.0" cy="517.7" r="1.02" fill="#000"/>
<circle cx="369.9" cy="519.4" r="1.02" fill="#000"/>
<circle cx="370.7" cy="495.0" r="1.02" fill="#000"/>
<circle cx="372.4" cy="496.7" r="1.02" fill="#000"/>
<circle cx="373.2" cy="509.3" r="1.02" fill="#000"/>
<circle cx="374.1" cy="495.0" r="1.02" fill="#000"/>
<circle cx="375.7" cy="512.7" r="1.02" fill="#000"/>
<circle cx="375.7" cy="516.9" r="1.02" fill="#000"/>
<circle cx="376.6" cy="506.8" r="1.02" fill="#000"/>
<circle cx="378.3" cy="499.2" r="1.02" fill="#000"/>
<circle cx="379.9" cy="483.3" r="1.02" fill="#000"/>
<circle cx="379.9" cy="504.3" r="1.02" fill="#000"/>
<circle cx="383.3" cy="511.8" r="1.02" fill="#000"/>
<circle cx="384.1" cy="497.5" r="1.02" fill="#000"/>
<circle cx="359.8" cy="531.1" r="0.85" fill="#ff1a1a"/>
<rect x="323.90" y="469.90" width="63.50" height="64.00" fill="none" stroke="#858585" stroke-width="0.5"/>
<line x1="328.10" y1="533.90" x2="328.10" y2="535.20" stroke="#333" stroke-width="0.4"/>
<text x="328.50" y="539.30" font-size="4.3" text-anchor="end" fill="#333" stroke="#444" stroke-width="0.12" transform="rotate(-45 328.50 539.30)">May</text>
<line x1="337.95" y1="533.90" x2="337.95" y2="535.20" stroke="#333" stroke-width="0.4"/>
<text x="338.35" y="539.30" font-size="4.3" text-anchor="end" fill="#333" stroke="#444" stroke-width="0.12" transform="rotate(-45 338.35 539.30)">Jun</text>
<line x1="347.80" y1="533.90" x2="347.80" y2="535.20" stroke="#333" stroke-width="0.4"/>
<text x="348.20" y="539.30" font-size="4.3" text-anchor="end" fill="#333" stroke="#444" stroke-width="0.12" transform="rotate(-45 348.20 539.30)">Jul</text>
<line x1="357.65" y1="533.90" x2="357.65" y2="535.20" stroke="#333" stroke-width="0.4"/>
<text x="358.05" y="539.30" font-size="4.3" text-anchor="end" fill="#333" stroke="#444" stroke-width="0.12" transform="rotate(-45 358.05 539.30)">Aug</text>
<line x1="367.50" y1="533.90" x2="367.50" y2="535.20" stroke="#333" stroke-width="0.4"/>
<text x="367.90" y="539.30" font-size="4.3" text-anchor="end" fill="#333" stroke="#444" stroke-width="0.12" transform="rotate(-45 367.90 539.30)">Sep</text>
<line x1="377.35" y1="533.90" x2="377.35" y2="535.20" stroke="#333" stroke-width="0.4"/>
<text x="377.75" y="539.30" font-size="4.3" text-anchor="end" fill="#333" stroke="#444" stroke-width="0.12" transform="rotate(-45 377.75 539.30)">Oct</text>
<line x1="387.20" y1="533.90" x2="387.20" y2="535.20" stroke="#333" stroke-width="0.4"/>
<text x="387.60" y="539.30" font-size="4.3" text-anchor="end" fill="#333" stroke="#444" stroke-width="0.12" transform="rotate(-45 387.60 539.30)">Nov</text>
<text x="9.5" y="501.5" font-size="5.0" text-anchor="middle" fill="#000" stroke="#000" stroke-width="0.08" transform="rotate(-90 9.5 501.5)">SDD m</text>
<text x="20.20" y="7.30" font-size="6.4" text-anchor="start" fill="#111">Peipsi s.s.</text>
<text x="20.20" y="14.80" font-size="5.0" text-anchor="start" fill="#111" stroke="#111" stroke-width="0.12">A) in situ</text>
<text x="122.30" y="14.80" font-size="5.0" text-anchor="start" fill="#111" stroke="#111" stroke-width="0.12">B) OLCI + in situ P4</text>
<text x="22.30" y="283.00" font-size="6.4" text-anchor="start" fill="#111">L&#228;mmij&#228;rv</text>
<text x="22.30" y="291.30" font-size="5.0" text-anchor="start" fill="#111" stroke="#111" stroke-width="0.12">A) in situ</text>
<text x="122.00" y="291.30" font-size="5.0" text-anchor="start" fill="#111" stroke="#111" stroke-width="0.12">B) OLCI + in situ&#160; P14</text>
</svg>
</body></html>
